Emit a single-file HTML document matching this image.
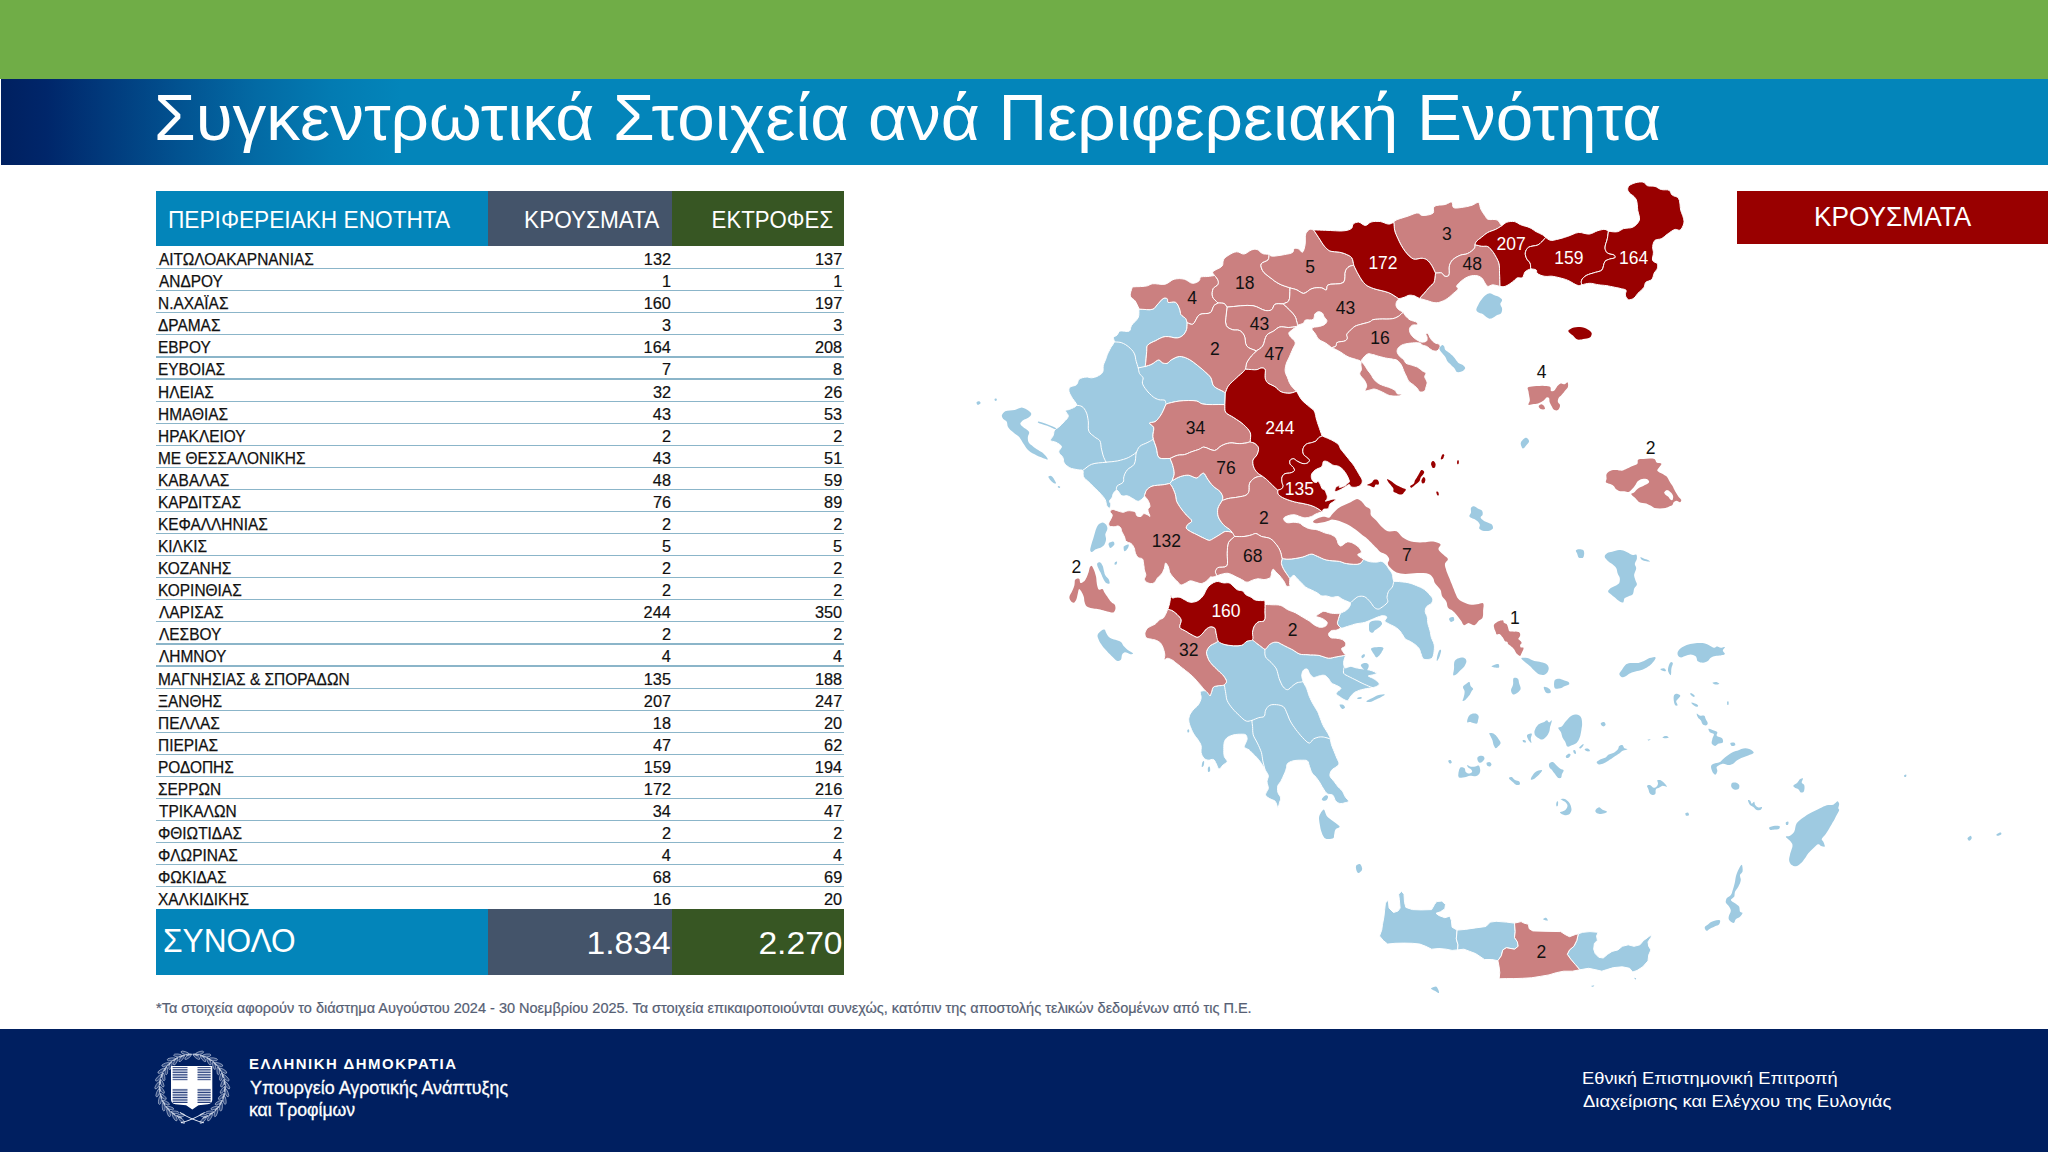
<!DOCTYPE html>
<html lang="el"><head><meta charset="utf-8"><title>Συγκεντρωτικά Στοιχεία ανά Περιφερειακή Ενότητα</title>
<style>
html,body{margin:0;padding:0;background:#fff;}
body{width:2048px;height:1152px;position:relative;overflow:hidden;font-family:"Liberation Sans", sans-serif;}
.b{position:absolute;}
.t{position:absolute;white-space:nowrap;font-family:"Liberation Sans", sans-serif;}
.ln{position:absolute;left:156.3px;width:687.4px;height:1.2px;background:#8bb5c9;}
</style></head><body>
<div class="b" style="left:0;top:0;width:2048px;height:78.5px;background:#70ad47"></div>
<div class="b" style="left:1px;top:78.5px;width:2047px;height:86.3px;background:linear-gradient(90deg,#002060 0px,#00266a 45px,#013a7c 105px,#025391 180px,#036aa4 255px,#037bb2 330px,#0385ba 400px,#0385ba 100%)"></div>
<div class="b" style="left:156.3px;top:190.8px;width:331.5px;height:55.3px;background:#0385ba"></div>
<div class="b" style="left:487.8px;top:190.8px;width:184.4px;height:55.3px;background:#44546a"></div>
<div class="b" style="left:672.2px;top:190.8px;width:171.5px;height:55.3px;background:#375623"></div>
<div class="ln" style="top:268.07px"></div><div class="ln" style="top:290.15px"></div><div class="ln" style="top:312.22px"></div><div class="ln" style="top:334.30px"></div><div class="ln" style="top:356.38px"></div><div class="ln" style="top:378.45px"></div><div class="ln" style="top:400.52px"></div><div class="ln" style="top:422.60px"></div><div class="ln" style="top:444.67px"></div><div class="ln" style="top:466.75px"></div><div class="ln" style="top:488.82px"></div><div class="ln" style="top:510.90px"></div><div class="ln" style="top:532.97px"></div><div class="ln" style="top:555.05px"></div><div class="ln" style="top:577.12px"></div><div class="ln" style="top:599.20px"></div><div class="ln" style="top:621.27px"></div><div class="ln" style="top:643.35px"></div><div class="ln" style="top:665.42px"></div><div class="ln" style="top:687.50px"></div><div class="ln" style="top:709.57px"></div><div class="ln" style="top:731.65px"></div><div class="ln" style="top:753.72px"></div><div class="ln" style="top:775.80px"></div><div class="ln" style="top:797.88px"></div><div class="ln" style="top:819.95px"></div><div class="ln" style="top:842.02px"></div><div class="ln" style="top:864.10px"></div><div class="ln" style="top:886.17px"></div>
<div class="b" style="left:156.3px;top:908.8px;width:331.5px;height:66px;background:#0385ba"></div>
<div class="b" style="left:487.8px;top:908.8px;width:184.4px;height:66px;background:#44546a"></div>
<div class="b" style="left:672.2px;top:908.8px;width:171.5px;height:66px;background:#375623"></div>
<div class="b" style="left:1737px;top:191.4px;width:311px;height:52.6px;background:#990000"></div>
<div class="b" style="left:0;top:1029px;width:2048px;height:123px;background:#001f60"></div>
<svg width="2048" height="1152" viewBox="0 0 2048 1152" style="position:absolute;left:0;top:0">
<g stroke="#fff" stroke-width="1" stroke-linejoin="round">
<path fill="#9ecae1" d="M1139.2,309.1 1142.8,309.3 1146.6,309.6 1150.1,309.7 1152.9,309.1 1154.2,308.4 1155.1,307.3 1156.0,306.2 1157.0,305.0 1158.6,303.2 1160.4,301.1 1162.2,299.2 1163.9,298.2 1164.8,298.0 1165.8,298.1 1166.7,298.4 1167.3,298.8 1167.6,299.6 1167.6,300.6 1167.6,301.5 1168.0,302.3 1169.4,302.5 1171.5,302.2 1173.7,301.9 1175.5,302.3 1176.9,303.5 1178.0,305.3 1178.9,307.3 1179.6,309.1 1180.1,310.6 1180.3,312.0 1180.5,313.4 1181.0,314.6 1182.1,315.7 1183.4,316.7 1184.8,317.7 1185.8,318.7 1186.3,319.7 1186.6,320.7 1186.9,321.8 1187.2,322.8 1187.1,324.6 1187.0,326.3 1186.9,328.1 1186.5,329.7 1185.9,331.2 1185.1,332.7 1184.2,334.0 1183.1,335.2 1181.9,336.1 1180.6,336.9 1179.2,337.5 1177.6,337.9 1174.8,337.9 1171.6,337.2 1168.3,336.6 1165.2,336.6 1162.7,337.2 1160.3,338.2 1157.9,339.4 1155.7,340.7 1153.3,341.7 1151.0,342.8 1148.9,344.0 1147.4,345.5 1146.9,346.8 1146.8,348.2 1146.8,349.9 1146.7,351.6 1146.4,354.9 1146.1,358.8 1145.7,362.8 1145.4,366.7 1146.8,365.9 1148.6,365.4 1150.3,364.8 1152.0,364.0 1153.8,362.9 1155.6,361.5 1157.3,360.4 1158.8,359.9 1159.8,360.3 1160.6,361.1 1161.3,362.0 1162.2,362.7 1163.4,363.1 1164.6,363.4 1165.9,363.5 1167.0,363.4 1168.1,362.8 1169.0,361.9 1170.0,360.8 1171.2,359.9 1173.0,358.9 1175.1,357.8 1177.2,356.9 1179.4,356.5 1181.4,356.6 1183.5,357.0 1185.6,357.7 1187.6,358.6 1189.7,359.7 1191.8,361.0 1193.8,362.5 1195.8,364.0 1197.9,365.7 1200.0,367.4 1202.1,369.1 1204.1,370.9 1205.9,372.5 1207.8,374.2 1209.5,375.9 1210.9,377.8 1211.7,379.8 1212.2,382.0 1212.7,384.1 1213.7,386.0 1215.8,387.7 1218.5,389.2 1221.2,390.4 1223.3,391.5 1223.9,391.9 1224.4,392.2 1224.8,392.6 1225.3,392.9 1224.9,404.6 1218.9,404.5 1212.6,404.6 1206.8,404.5 1202.3,403.9 1200.7,403.3 1199.5,402.5 1198.3,401.7 1196.8,401.1 1193.0,400.6 1188.3,400.5 1183.4,400.7 1179.0,401.1 1175.3,401.7 1171.7,402.5 1168.6,403.3 1166.6,403.9 1166.2,404.0 1165.1,406.2 1164.3,408.2 1163.4,410.2 1162.5,412.1 1161.7,413.6 1160.9,415.0 1160.0,416.3 1159.1,417.6 1158.1,418.8 1157.2,419.9 1156.1,420.9 1155.0,421.7 1153.5,422.2 1151.7,422.4 1150.2,422.6 1149.5,423.1 1149.9,423.8 1151.2,424.8 1152.6,425.9 1153.6,427.2 1153.8,429.2 1153.4,431.7 1153.0,434.2 1152.9,436.8 1153.5,439.5 1154.4,442.3 1155.4,445.0 1156.3,447.8 1156.9,450.5 1157.3,453.3 1157.9,455.8 1159.1,457.6 1161.2,458.5 1164.0,458.6 1167.1,458.5 1170.0,458.5 1170.8,460.2 1171.5,462.0 1172.2,463.7 1172.8,465.6 1173.3,467.6 1173.8,469.7 1174.1,471.8 1174.2,473.8 1173.9,475.6 1173.3,477.3 1172.7,479.0 1172.1,480.7 1169.8,483.5 1168.1,483.8 1166.5,484.2 1164.8,484.5 1162.9,484.8 1160.3,485.1 1157.3,485.3 1154.5,485.6 1152.0,486.2 1150.3,487.0 1148.8,488.0 1147.5,489.1 1146.5,490.3 1145.8,491.6 1145.3,493.0 1144.9,494.4 1144.4,495.8 1144.3,496.2 1144.2,496.5 1144.0,496.8 1143.7,497.2 1142.8,498.3 1141.4,499.6 1139.8,500.7 1138.3,501.3 1136.9,501.1 1135.5,500.3 1134.1,499.4 1132.8,498.6 1131.4,497.8 1130.0,497.0 1128.7,496.3 1127.3,495.8 1125.9,495.7 1124.5,495.9 1123.1,496.1 1121.8,495.8 1120.5,494.6 1119.3,492.8 1118.1,491.1 1117.0,490.3 1116.1,490.6 1115.1,491.2 1114.3,492.1 1113.6,493.1 1113.1,494.0 1112.8,495.1 1112.6,496.1 1112.2,497.2 1111.5,498.3 1110.6,499.3 1109.8,500.3 1109.5,501.3 1109.6,502.0 1110.1,502.7 1110.6,503.3 1110.8,504.0 1110.8,505.2 1110.4,506.5 1110.0,507.6 1109.5,508.2 1108.8,508.0 1108.1,507.3 1107.3,506.4 1106.7,505.4 1106.3,504.2 1106.1,502.8 1105.8,501.4 1105.3,499.9 1104.3,498.2 1102.9,496.4 1101.4,494.7 1099.9,493.1 1098.5,491.6 1097.1,490.3 1095.8,488.9 1094.4,487.6 1093.0,486.2 1091.6,484.8 1090.3,483.5 1088.9,482.1 1087.4,480.8 1085.8,479.5 1084.4,478.1 1083.4,476.6 1083.1,475.0 1083.1,473.3 1083.2,471.6 1082.7,470.4 1081.8,470.0 1080.6,469.9 1079.3,469.9 1077.9,469.8 1076.0,469.4 1073.8,469.0 1071.6,468.5 1069.7,467.7 1068.1,466.7 1066.6,465.6 1065.2,464.3 1064.2,462.9 1063.7,461.6 1063.5,460.2 1063.3,458.8 1062.8,457.4 1061.8,456.0 1060.5,454.7 1059.3,453.3 1058.7,451.9 1059.1,450.6 1060.2,449.1 1061.2,447.7 1061.5,446.5 1060.7,445.3 1059.3,444.2 1057.6,443.2 1056.0,442.3 1054.4,441.8 1052.7,441.4 1051.3,441.0 1050.5,440.3 1050.7,439.3 1051.5,438.1 1052.5,436.8 1053.2,435.5 1053.6,434.1 1053.8,432.6 1054.1,431.2 1054.6,430.0 1055.4,429.2 1056.5,428.5 1057.6,427.9 1058.7,427.1 1060.1,425.9 1061.5,424.5 1062.9,423.1 1064.2,421.6 1065.5,420.3 1066.8,418.9 1067.8,417.5 1068.3,416.1 1067.9,414.7 1066.8,413.2 1065.8,411.7 1065.6,410.7 1066.2,410.1 1067.2,409.9 1068.5,409.7 1069.7,409.3 1071.6,408.5 1073.7,407.6 1075.6,406.5 1076.6,405.2 1076.3,403.7 1075.1,401.9 1073.7,400.1 1072.4,398.3 1071.4,396.6 1070.4,394.8 1069.5,393.1 1069.0,391.5 1068.9,390.3 1068.9,389.3 1069.2,388.2 1069.7,387.4 1071.0,386.5 1072.9,386.0 1075.0,385.5 1076.6,384.6 1077.4,383.4 1077.9,381.8 1078.4,380.3 1079.3,379.1 1080.7,378.3 1082.5,377.7 1084.4,377.3 1086.1,377.1 1087.6,377.1 1088.9,377.4 1090.3,377.7 1091.6,377.8 1093.0,377.6 1094.4,377.3 1095.8,376.9 1097.1,376.4 1098.6,375.6 1100.2,374.7 1101.6,373.6 1102.6,372.3 1103.1,370.7 1103.1,369.0 1103.1,367.2 1103.3,365.4 1103.9,363.6 1104.6,361.9 1105.4,360.1 1106.0,358.6 1106.4,357.5 1106.7,356.5 1107.0,355.5 1107.4,354.4 1108.1,352.8 1109.0,351.1 1109.9,349.3 1110.8,347.6 1111.8,346.1 1112.8,344.7 1113.7,343.2 1114.3,341.8 1114.2,340.6 1113.8,339.4 1113.5,338.3 1113.6,337.3 1114.2,336.7 1115.1,336.2 1116.1,335.8 1117.0,335.2 1117.7,334.3 1118.2,333.1 1118.8,332.0 1119.7,331.1 1121.9,330.9 1124.6,331.2 1127.3,331.5 1129.3,331.1 1130.1,330.1 1130.5,328.7 1130.8,327.2 1131.4,325.7 1132.9,323.7 1134.9,321.7 1136.9,319.6 1138.3,317.4 1138.8,315.4 1138.9,313.4 1138.9,311.3 1138.9,309.2Z"/>
<path fill="#9ecae1" d="M1172.1,480.7 1174.2,479.6 1176.2,478.4 1178.2,477.4 1180.3,476.6 1182.4,475.9 1184.4,475.5 1186.5,475.2 1188.6,475.2 1190.7,475.8 1192.9,476.8 1195.0,477.7 1196.8,477.9 1198.0,477.4 1199.0,476.4 1200.0,475.3 1200.9,474.5 1201.6,474.0 1202.3,473.5 1203.0,473.1 1203.6,473.1 1204.7,474.0 1205.7,475.6 1206.7,477.5 1207.8,479.3 1209.0,481.0 1210.3,482.8 1211.7,484.5 1213.2,486.1 1214.9,487.6 1216.8,488.9 1218.6,490.2 1220.1,491.6 1221.1,493.0 1221.9,494.4 1222.5,495.8 1222.8,497.1 1222.8,498.0 1222.6,498.9 1222.4,499.7 1222.2,500.5 1221.0,502.5 1219.7,504.5 1218.6,506.6 1217.9,508.6 1217.6,510.6 1217.6,512.6 1217.8,514.7 1218.3,516.7 1219.2,518.8 1220.5,520.9 1221.9,522.9 1223.5,524.7 1225.2,526.3 1227.2,527.7 1229.2,529.1 1230.8,530.6 1231.9,532.0 1232.8,533.5 1233.6,535.0 1234.5,536.5 1234.0,535.5 1233.5,534.5 1232.9,533.6 1232.2,532.8 1230.7,532.1 1228.9,531.6 1227.0,531.4 1225.3,531.5 1224.1,531.9 1222.9,532.6 1221.8,533.4 1220.5,534.2 1218.9,535.2 1217.1,536.3 1215.3,537.4 1213.7,538.3 1212.6,539.0 1211.6,539.6 1210.6,540.1 1209.6,540.4 1208.3,540.2 1206.9,539.7 1205.5,539.0 1204.1,538.3 1202.1,537.4 1199.9,536.3 1197.8,535.2 1195.8,534.2 1194.4,533.5 1193.0,532.9 1191.6,532.2 1190.4,531.5 1189.1,530.7 1187.8,529.9 1186.8,529.0 1186.2,528.0 1186.2,527.2 1186.5,526.3 1187.0,525.4 1187.6,524.6 1188.6,523.7 1190.0,522.9 1191.2,522.1 1191.7,521.2 1191.2,519.8 1189.7,518.3 1187.9,516.6 1186.2,515.0 1184.8,513.3 1183.4,511.6 1182.0,509.9 1180.8,508.2 1179.6,506.5 1178.5,504.8 1177.5,503.1 1176.6,501.3 1176.2,499.6 1175.9,497.9 1175.7,496.2 1175.3,494.4 1174.7,492.7 1174.0,490.9 1173.3,489.2 1172.5,487.6 1171.9,486.5 1171.2,485.4 1170.5,484.5 1169.8,483.5Z"/>
<path fill="#9ecae1" d="M1282.1,558.5 1283.6,558.7 1284.9,558.9 1286.4,559.1 1288.0,559.2 1291.3,559.0 1295.2,558.5 1299.1,557.8 1302.7,557.0 1305.1,556.2 1307.4,555.2 1309.5,554.4 1311.5,554.1 1313.0,554.3 1314.4,554.9 1315.8,555.6 1317.4,556.3 1319.4,557.2 1321.5,558.2 1323.8,559.2 1326.2,559.9 1329.3,560.5 1332.8,560.8 1336.3,561.0 1339.4,561.4 1341.3,561.9 1343.0,562.6 1344.7,563.2 1346.7,563.6 1349.9,564.0 1353.6,564.3 1357.1,564.3 1359.9,563.6 1361.1,562.8 1362.0,561.6 1362.7,560.4 1363.6,559.2 1364.8,559.8 1366.1,560.4 1367.3,561.0 1368.7,561.4 1370.4,561.8 1372.3,562.0 1374.2,562.1 1376.0,562.1 1377.6,562.0 1379.1,561.6 1380.5,561.3 1381.9,561.4 1383.1,562.0 1384.3,562.9 1385.3,564.0 1386.3,565.1 1387.1,566.1 1387.8,567.2 1388.5,568.4 1389.2,569.5 1390.0,570.5 1390.8,571.6 1391.5,572.7 1392.2,573.9 1392.7,575.8 1392.9,577.9 1393.3,579.9 1393.9,581.2 1394.6,581.5 1395.3,581.5 1396.1,581.4 1397.1,581.4 1399.4,581.6 1402.3,581.9 1405.3,582.2 1408.1,582.7 1410.2,583.3 1412.3,583.9 1414.3,584.7 1416.3,585.5 1418.4,586.4 1420.6,587.3 1422.7,588.4 1424.5,589.6 1426.1,590.9 1427.6,592.3 1428.9,593.7 1430.0,595.1 1430.9,596.1 1431.8,597.1 1432.4,598.2 1432.8,599.2 1432.8,600.2 1432.5,601.3 1432.0,602.4 1431.4,603.3 1430.4,604.2 1429.0,605.0 1427.6,605.8 1426.6,606.7 1426.0,607.8 1425.5,609.0 1425.3,610.3 1425.2,611.5 1425.5,612.9 1426.1,614.2 1426.8,615.6 1427.3,617.0 1427.5,618.7 1427.6,620.4 1427.7,622.2 1428.0,623.9 1428.4,625.6 1429.0,627.3 1429.5,629.0 1430.0,630.7 1430.4,632.4 1430.7,634.2 1431.0,635.9 1431.4,637.6 1432.1,639.3 1432.9,641.0 1433.6,642.7 1434.1,644.4 1434.4,646.1 1434.4,647.9 1434.3,649.6 1434.1,651.3 1433.9,653.2 1433.5,655.1 1432.9,656.8 1432.1,658.2 1431.1,658.8 1429.8,659.2 1428.5,659.4 1427.3,659.5 1426.2,659.6 1425.1,659.5 1424.0,659.3 1423.2,658.8 1422.5,658.0 1422.0,656.7 1421.6,655.4 1421.1,654.0 1420.6,652.7 1420.2,651.2 1419.7,649.8 1419.1,648.6 1418.2,647.4 1417.2,646.4 1416.1,645.4 1414.9,644.4 1413.6,643.5 1412.2,642.6 1410.8,641.8 1409.5,641.0 1408.4,640.5 1407.3,640.1 1406.3,639.6 1405.3,639.0 1404.6,638.1 1403.9,637.1 1403.3,636.0 1402.6,634.8 1401.7,633.5 1400.7,632.0 1399.6,630.6 1398.5,629.4 1397.5,628.5 1396.5,627.9 1395.5,627.2 1394.4,626.6 1393.0,625.9 1391.6,625.2 1390.2,624.6 1388.9,623.9 1387.7,623.2 1386.4,622.6 1385.3,621.9 1384.8,621.1 1385.0,620.1 1385.8,619.0 1386.6,617.9 1386.8,617.0 1386.3,616.5 1385.5,616.1 1384.4,615.8 1383.4,615.7 1382.2,615.7 1380.8,616.0 1379.4,616.5 1377.9,617.0 1375.9,617.8 1373.8,618.7 1371.7,619.6 1369.7,620.4 1368.3,621.0 1367.0,621.6 1365.6,622.1 1364.2,622.5 1362.3,622.9 1360.2,623.2 1358.0,623.5 1356.0,623.9 1354.2,624.3 1352.5,624.9 1350.8,625.4 1349.1,625.9 1347.3,626.5 1345.4,627.1 1343.6,627.7 1342.3,628.0 1341.9,628.0 1341.5,628.0 1341.2,628.0 1340.9,628.0 1339.9,627.0 1338.9,626.0 1338.0,624.9 1337.5,623.9 1337.4,622.9 1337.5,621.9 1337.8,620.9 1338.2,619.8 1338.6,618.2 1339.1,616.6 1339.7,615.0 1340.2,613.3 1341.8,612.6 1343.5,611.8 1345.0,611.1 1346.4,610.2 1347.4,609.2 1348.4,608.2 1349.2,607.1 1349.8,606.1 1350.2,605.2 1350.4,604.4 1350.5,603.6 1350.4,602.9 1350.0,602.5 1349.5,602.3 1348.8,602.0 1348.2,601.8 1347.0,601.3 1345.7,600.7 1344.4,600.2 1343.0,599.6 1341.7,598.8 1340.5,597.9 1339.2,597.1 1337.9,596.6 1336.5,596.6 1335.0,596.9 1333.5,597.2 1332.0,597.4 1330.5,597.1 1329.0,596.7 1327.6,596.2 1326.2,595.9 1325.0,595.9 1323.9,596.0 1322.8,596.0 1321.8,595.9 1320.6,595.4 1319.6,594.6 1318.5,593.7 1317.4,593.0 1316.0,592.2 1314.5,591.5 1313.0,590.7 1311.5,590.0 1310.0,589.3 1308.5,588.7 1307.0,587.9 1305.6,587.1 1304.4,586.1 1303.3,585.0 1302.3,583.8 1301.2,582.7 1300.1,581.6 1299.0,580.4 1297.9,579.3 1296.8,578.3 1296.1,577.4 1295.4,576.4 1294.7,575.7 1293.9,575.3 1292.9,575.7 1291.9,576.5 1290.8,577.6 1289.8,578.6 1289.0,577.5 1288.3,576.4 1287.6,575.3 1286.8,574.2 1286.1,573.1 1285.3,572.0 1284.6,570.9 1283.9,569.8 1283.1,568.3 1282.4,566.8 1281.8,565.2 1281.4,563.6 1281.4,562.3 1281.6,561.0 1281.9,559.8 1282.1,558.5Z"/>
<path fill="#9ecae1" d="M1210.0,695.4 1209.4,694.2 1208.9,693.0 1208.2,692.0 1207.3,691.2 1205.7,690.8 1203.6,690.7 1201.7,691.0 1200.4,691.7 1200.2,692.8 1200.5,694.4 1201.0,696.1 1201.1,697.8 1200.8,699.6 1200.2,701.3 1199.3,703.1 1198.4,704.7 1197.2,706.1 1195.7,707.5 1194.2,708.8 1192.9,710.2 1191.9,711.5 1190.9,712.9 1190.1,714.2 1189.5,715.7 1189.1,717.0 1188.8,718.3 1188.7,719.7 1188.8,721.1 1189.1,722.8 1189.6,724.5 1190.2,726.3 1190.9,728.0 1191.6,729.7 1192.4,731.5 1193.3,733.2 1194.3,734.8 1195.3,736.3 1196.4,737.6 1197.4,739.0 1198.4,740.3 1199.2,741.7 1200.0,743.0 1200.7,744.4 1201.1,745.8 1201.3,747.5 1201.1,749.2 1201.0,751.0 1201.1,752.7 1201.6,754.2 1202.2,755.7 1203.0,757.0 1203.9,758.2 1204.8,758.9 1205.8,759.5 1206.9,759.9 1208.0,760.2 1209.4,760.1 1210.8,759.7 1212.3,759.4 1213.5,759.5 1214.3,760.2 1215.0,761.2 1215.6,762.5 1216.2,763.6 1216.9,765.2 1217.5,766.9 1218.2,768.4 1219.0,769.1 1219.9,768.7 1220.9,767.6 1222.0,766.2 1223.1,765.0 1224.2,764.2 1225.5,763.3 1226.6,762.5 1227.2,761.6 1226.9,760.5 1226.1,759.4 1225.2,758.1 1224.4,756.8 1224.0,754.9 1223.8,752.8 1223.8,750.6 1223.8,748.6 1223.8,746.7 1223.9,745.0 1224.1,743.2 1224.4,741.7 1224.9,740.5 1225.5,739.4 1226.3,738.5 1227.2,737.6 1228.6,736.7 1230.4,735.9 1232.2,735.3 1234.0,734.8 1235.8,734.5 1237.5,734.3 1239.3,734.2 1240.9,734.2 1242.2,734.2 1243.6,734.2 1244.8,734.4 1245.7,734.8 1246.3,735.6 1246.8,736.7 1247.0,737.8 1247.1,739.0 1246.8,740.3 1246.2,741.8 1245.5,743.2 1245.0,744.4 1244.7,745.2 1244.4,745.9 1244.2,746.6 1244.3,747.2 1245.1,747.9 1246.4,748.6 1247.8,749.2 1249.1,749.9 1250.2,750.9 1251.2,751.9 1252.2,753.0 1253.2,754.0 1254.3,755.1 1255.3,756.0 1256.3,757.1 1257.4,758.2 1258.4,759.4 1259.5,760.8 1260.5,762.2 1261.5,763.6 1262.5,765.3 1263.6,767.0 1264.6,768.8 1265.6,770.5 1266.4,771.9 1267.3,773.3 1268.0,774.6 1268.3,776.0 1268.2,777.3 1267.7,778.7 1267.2,780.0 1267.0,781.5 1267.2,783.2 1267.7,785.0 1268.2,786.7 1268.3,788.3 1268.0,789.5 1267.4,790.5 1266.8,791.5 1266.3,792.4 1266.0,793.2 1265.7,793.8 1265.5,794.5 1265.6,795.2 1266.2,796.1 1267.2,797.0 1268.5,797.8 1269.7,798.6 1271.1,799.3 1272.5,799.8 1274.0,800.5 1275.2,801.3 1276.1,802.9 1276.8,805.0 1277.4,806.8 1277.9,807.5 1278.3,807.1 1278.7,806.0 1279.0,804.7 1279.3,803.4 1279.7,802.1 1280.2,800.7 1280.6,799.3 1280.7,797.9 1280.2,796.6 1279.4,795.2 1278.5,793.9 1277.9,792.4 1277.6,790.7 1277.5,788.9 1277.6,787.2 1277.9,785.6 1278.4,784.5 1279.2,783.5 1279.9,782.5 1280.7,781.5 1281.4,780.2 1282.1,778.8 1282.7,777.4 1283.4,776.0 1284.1,774.3 1284.9,772.6 1285.6,770.8 1286.1,769.1 1286.5,767.7 1286.7,766.2 1286.9,764.8 1287.5,763.6 1288.6,762.7 1289.9,762.0 1291.4,761.4 1293.0,760.9 1294.9,760.5 1297.1,760.3 1299.2,760.2 1301.2,760.2 1302.9,760.2 1304.6,760.2 1306.2,760.3 1307.4,760.9 1308.2,761.9 1308.6,763.3 1309.0,764.9 1309.5,766.4 1310.1,768.1 1310.7,770.0 1311.4,771.8 1312.2,773.2 1312.8,774.0 1313.5,774.7 1314.2,775.3 1314.9,776.0 1315.9,777.2 1317.0,778.5 1318.0,780.0 1319.1,781.5 1320.1,783.1 1321.1,784.9 1322.1,786.7 1323.2,788.3 1324.1,789.9 1325.1,791.4 1326.1,792.7 1327.3,793.8 1328.6,794.3 1330.1,794.5 1331.6,794.6 1332.8,795.2 1333.6,796.3 1334.2,797.8 1334.8,799.4 1335.5,800.7 1336.4,801.6 1337.4,802.4 1338.5,803.0 1339.6,803.4 1340.9,803.5 1342.4,803.4 1343.8,803.1 1345.1,802.7 1346.2,802.5 1347.2,802.2 1348.1,801.9 1348.5,801.3 1348.3,800.4 1347.3,799.2 1346.1,797.9 1345.1,796.6 1344.4,795.2 1343.8,793.8 1343.1,792.4 1342.4,791.1 1341.4,790.0 1340.4,789.0 1339.3,788.0 1338.3,787.0 1337.2,785.7 1336.2,784.3 1335.2,782.9 1334.1,781.5 1333.0,780.1 1331.7,778.8 1330.6,777.4 1330.0,776.0 1329.9,774.6 1330.2,773.2 1330.7,771.8 1331.4,770.5 1332.5,769.3 1334.1,768.3 1335.6,767.3 1336.9,766.4 1337.6,765.7 1338.2,765.1 1338.7,764.4 1338.9,763.6 1338.8,762.4 1338.3,761.1 1337.5,759.6 1336.9,758.2 1336.2,756.5 1335.5,754.8 1334.8,753.0 1334.1,751.3 1333.4,749.6 1332.7,747.9 1332.0,746.2 1331.4,744.4 1331.0,742.7 1330.7,741.0 1330.5,739.2 1330.0,737.6 1329.4,736.2 1328.7,734.9 1328.0,733.6 1327.2,732.2 1326.2,730.5 1325.1,728.8 1324.0,727.1 1323.1,725.3 1322.3,723.6 1321.6,721.9 1321.0,720.2 1320.3,718.5 1319.7,716.8 1319.0,715.0 1318.4,713.3 1317.6,711.6 1316.6,709.9 1315.6,708.2 1314.5,706.5 1313.5,704.8 1312.4,702.8 1311.3,700.7 1310.3,698.6 1309.4,696.6 1308.6,694.5 1308.0,692.4 1307.3,690.3 1306.6,688.3 1305.8,686.6 1304.8,684.9 1303.9,683.2 1303.2,681.5 1302.6,679.7 1302.1,678.0 1301.8,676.2 1301.8,674.6 1302.1,673.2 1302.5,671.9 1303.1,670.7 1303.9,669.8 1304.7,669.3 1305.6,669.0 1306.5,668.9 1307.3,669.1 1307.9,669.8 1308.4,670.9 1308.8,672.1 1309.4,673.2 1310.2,674.4 1311.2,675.7 1312.3,676.7 1313.5,677.4 1314.7,677.4 1316.1,677.0 1317.6,676.4 1319.0,676.0 1320.4,675.7 1321.8,675.3 1323.2,675.2 1324.4,675.3 1325.6,675.8 1326.7,676.7 1327.7,677.7 1328.6,678.7 1329.3,679.7 1329.9,680.8 1330.5,681.9 1331.3,682.8 1332.5,683.7 1333.9,684.3 1335.4,684.9 1336.8,685.6 1338.0,686.2 1339.4,686.9 1340.4,687.6 1340.9,688.3 1340.6,689.0 1339.9,689.7 1338.9,690.4 1338.2,691.1 1337.5,691.7 1336.8,692.4 1336.3,693.1 1336.1,693.8 1336.5,694.5 1337.4,695.2 1338.5,695.9 1339.5,696.6 1340.5,697.3 1341.5,698.0 1342.6,698.7 1343.6,699.3 1344.7,699.8 1345.8,700.4 1346.8,700.7 1347.8,700.7 1348.5,700.0 1349.2,698.9 1349.8,697.7 1350.5,696.6 1351.4,695.5 1352.4,694.4 1353.4,693.3 1354.6,692.4 1356.2,691.6 1357.9,690.9 1359.7,690.2 1361.5,689.7 1363.2,689.3 1364.9,688.9 1366.6,688.6 1368.3,688.3 1370.1,688.0 1371.9,687.8 1373.6,687.4 1375.2,687.0 1376.5,686.4 1377.8,685.7 1378.8,685.0 1379.3,684.2 1379.1,683.4 1378.4,682.5 1377.5,681.6 1376.6,680.8 1375.6,680.0 1374.6,679.3 1373.5,678.7 1372.4,678.0 1371.2,677.5 1369.9,676.9 1368.8,676.4 1368.3,676.0 1369.0,675.6 1370.5,675.3 1372.3,675.0 1373.8,674.6 1374.7,674.3 1375.6,674.0 1376.3,673.6 1376.6,673.2 1376.0,672.6 1374.5,671.8 1372.8,671.1 1371.1,670.5 1369.4,670.0 1367.7,669.7 1366.0,669.4 1364.2,669.1 1362.2,668.8 1360.0,668.5 1357.9,668.1 1356.0,667.8 1354.5,667.4 1353.2,666.9 1351.8,666.5 1350.5,666.4 1349.0,666.7 1347.5,667.3 1346.1,667.8 1345.0,667.8 1344.3,666.9 1343.9,665.5 1343.7,663.9 1343.6,662.3 1343.9,660.6 1344.4,658.8 1345.1,656.9 1345.7,655.1 1343.5,655.6 1341.2,656.0 1339.0,656.4 1336.8,656.8 1334.7,657.2 1332.7,657.7 1330.6,658.1 1328.6,658.2 1326.2,657.7 1323.9,656.9 1321.4,656.1 1319.0,655.4 1316.2,655.1 1313.4,654.9 1310.6,654.9 1308.0,654.7 1305.8,654.6 1303.7,654.6 1301.7,654.5 1299.8,654.0 1297.9,653.2 1296.2,652.1 1294.5,651.0 1292.9,649.9 1291.5,649.2 1290.1,648.5 1288.8,647.9 1287.4,647.2 1286.0,646.5 1284.6,645.8 1283.3,645.1 1281.9,644.4 1280.9,643.9 1279.9,643.3 1278.9,642.7 1277.8,642.4 1276.8,642.2 1275.8,642.2 1274.7,642.2 1273.7,642.4 1272.6,642.7 1271.6,643.2 1270.6,643.8 1269.6,644.4 1268.6,645.4 1267.7,646.6 1266.9,647.7 1266.2,648.6 1265.8,648.8 1265.5,649.1 1265.2,649.2 1264.8,649.2 1264.2,649.0 1263.6,648.6 1262.9,648.0 1262.1,647.4 1260.9,646.4 1259.5,645.4 1258.0,644.3 1256.6,643.2 1255.6,642.4 1254.5,641.5 1253.5,640.7 1252.5,639.8 1251.2,640.1 1249.8,640.4 1248.4,640.7 1247.0,641.2 1245.7,642.1 1244.5,643.3 1243.2,644.5 1241.6,645.3 1238.0,645.8 1233.5,645.8 1228.9,645.3 1225.1,644.6 1223.1,643.9 1221.5,643.0 1219.9,642.1 1218.3,641.2 1217.4,641.7 1216.6,642.2 1215.7,642.7 1214.8,643.2 1213.6,643.8 1212.4,644.4 1211.1,645.1 1210.0,646.0 1208.9,647.1 1207.9,648.5 1207.1,650.0 1206.6,651.5 1206.5,653.1 1206.8,654.9 1207.4,656.7 1208.0,658.3 1208.6,659.8 1209.4,661.1 1210.4,662.5 1211.4,663.8 1212.9,665.5 1214.7,667.3 1216.5,669.0 1218.3,670.7 1219.7,672.1 1221.2,673.4 1222.6,674.7 1223.7,676.1 1224.7,677.5 1225.6,679.0 1226.3,680.4 1226.5,681.6 1226.2,682.6 1225.5,683.6 1224.7,684.4 1223.7,685.1 1222.5,685.4 1221.1,685.6 1219.7,685.6 1218.3,685.7 1217.0,686.0 1215.7,686.2 1214.4,686.5 1213.5,687.1 1212.7,688.2 1212.2,689.7 1211.8,691.2 1211.4,692.6 1211.0,693.5 1210.7,694.4 1210.4,695.2 1210.0,696.0Z"/>
<path fill="#cb8080" d="M1132.3,286.9 1136.3,286.7 1140.4,286.6 1144.3,286.3 1147.4,285.8 1148.8,285.3 1149.8,284.7 1150.9,284.2 1152.2,283.8 1155.1,283.7 1158.5,284.1 1162.1,284.4 1165.2,284.2 1167.6,283.2 1169.8,281.7 1171.9,280.2 1174.2,279.2 1176.7,278.8 1179.3,278.6 1182.0,278.8 1184.4,279.2 1186.6,280.2 1188.7,281.5 1190.7,282.8 1192.7,283.3 1194.6,283.1 1196.6,282.4 1198.3,281.4 1199.5,280.3 1199.8,279.6 1199.9,278.8 1199.9,278.0 1200.2,277.3 1201.6,276.8 1203.5,276.6 1205.7,276.6 1207.8,276.5 1209.5,276.3 1211.2,276.0 1212.9,275.8 1214.6,275.5 1215.6,276.7 1216.6,277.9 1217.4,279.1 1218.0,280.3 1218.3,281.4 1218.4,282.4 1218.3,283.5 1218.0,284.4 1217.1,285.5 1215.7,286.4 1214.3,287.4 1213.2,288.6 1212.6,290.4 1212.2,292.6 1212.2,294.8 1212.6,296.8 1213.5,298.5 1214.9,300.0 1216.5,301.5 1218.0,303.0 1217.0,303.6 1215.9,304.2 1214.9,304.8 1213.9,305.7 1213.1,307.3 1212.4,309.2 1211.7,311.1 1210.5,312.6 1208.2,313.4 1205.2,313.6 1202.1,313.8 1199.5,314.6 1197.5,316.8 1195.9,319.8 1194.4,322.6 1192.7,324.2 1191.3,324.3 1190.0,323.9 1188.6,323.3 1187.2,322.8 1186.9,321.8 1186.6,320.7 1186.3,319.7 1185.8,318.7 1184.8,317.7 1183.4,316.7 1182.1,315.7 1181.0,314.6 1180.5,313.4 1180.3,312.0 1180.1,310.6 1179.6,309.1 1178.9,307.3 1178.0,305.3 1176.9,303.5 1175.5,302.3 1173.7,301.9 1171.5,302.2 1169.4,302.5 1168.0,302.3 1167.6,301.5 1167.6,300.6 1167.6,299.6 1167.3,298.8 1166.7,298.4 1165.8,298.1 1164.8,298.0 1163.9,298.2 1162.2,299.2 1160.4,301.1 1158.6,303.2 1157.0,305.0 1156.0,306.2 1155.1,307.3 1154.2,308.4 1152.9,309.1 1150.1,309.7 1146.6,309.6 1142.8,309.3 1139.2,309.1 1138.2,307.0 1137.2,304.8 1136.2,302.8 1135.1,300.9 1133.8,299.6 1132.4,298.5 1131.1,297.4 1130.3,296.1 1130.2,294.1 1130.8,291.7 1131.6,289.3 1132.3,286.9Z"/>
<path fill="#cb8080" d="M1214.6,275.5 1214.0,274.7 1213.2,273.8 1212.7,273.0 1212.6,272.1 1214.0,270.7 1216.9,269.2 1220.0,267.7 1222.2,265.9 1222.8,264.4 1222.9,262.8 1223.1,261.2 1223.5,259.8 1224.4,258.5 1225.6,257.4 1226.9,256.3 1228.3,255.4 1230.2,254.2 1232.3,253.1 1234.4,252.2 1236.6,251.8 1238.5,252.1 1240.4,252.9 1242.2,253.8 1244.1,254.0 1246.0,253.3 1247.9,252.1 1249.8,250.8 1251.6,249.9 1253.1,249.5 1254.4,249.3 1255.8,249.3 1257.1,249.5 1258.5,250.3 1259.8,251.5 1261.2,252.7 1262.6,253.6 1264.2,254.0 1265.8,254.1 1267.5,254.2 1269.2,254.3 1269.0,255.7 1268.9,257.1 1268.7,258.5 1268.1,259.8 1266.6,260.9 1264.5,261.8 1262.5,262.7 1261.2,263.9 1260.9,265.4 1261.2,267.2 1261.8,269.0 1262.6,270.7 1264.0,272.6 1265.9,274.3 1268.0,276.0 1270.1,277.6 1272.3,279.2 1274.4,280.9 1276.7,282.4 1279.1,283.8 1281.7,285.0 1284.4,286.0 1287.2,286.9 1290.0,287.9 1289.9,291.4 1289.8,295.0 1289.5,298.4 1288.7,300.9 1287.5,302.0 1286.1,302.7 1284.6,303.3 1283.2,303.9 1281.0,303.9 1278.8,303.7 1276.7,303.8 1274.9,304.3 1273.9,305.5 1273.2,307.1 1272.5,308.7 1271.5,309.8 1270.2,310.4 1268.7,310.6 1267.1,310.7 1265.3,310.5 1262.7,309.7 1259.7,308.2 1256.5,306.7 1253.0,305.7 1247.2,305.4 1240.6,305.8 1233.7,306.5 1227.0,307.1 1226.3,306.2 1225.7,305.2 1225.1,304.3 1224.2,303.6 1222.9,303.2 1221.3,303.1 1219.7,303.0 1218.0,303.0 1216.5,301.5 1214.9,300.0 1213.5,298.5 1212.6,296.8 1212.2,294.8 1212.2,292.6 1212.6,290.4 1213.2,288.6 1214.3,287.4 1215.7,286.4 1217.1,285.5 1218.0,284.4 1218.3,283.5 1218.4,282.4 1218.3,281.4 1218.0,280.3 1217.4,279.1 1216.6,277.9 1215.6,276.7 1214.6,275.5Z"/>
<path fill="#cb8080" d="M1269.2,254.3 1269.5,254.7 1269.9,255.2 1270.3,255.6 1270.8,255.9 1273.4,256.2 1277.1,255.8 1281.0,255.2 1284.5,254.6 1286.9,254.1 1289.3,253.7 1291.3,253.1 1292.8,252.2 1293.3,251.3 1293.5,250.2 1293.7,249.2 1294.1,248.5 1295.0,248.2 1296.1,248.2 1297.2,248.5 1298.3,248.8 1299.4,249.6 1300.5,250.8 1301.5,251.9 1302.4,252.2 1303.3,251.3 1304.0,249.4 1304.6,247.0 1305.1,244.7 1305.3,242.0 1305.3,239.0 1305.3,236.1 1305.8,233.7 1306.6,232.3 1307.6,231.0 1308.8,229.9 1309.9,229.3 1310.8,229.2 1311.7,229.4 1312.7,229.7 1313.6,229.9 1314.9,231.9 1316.2,233.8 1317.5,235.8 1318.8,237.8 1320.2,239.9 1321.5,242.1 1322.9,244.2 1324.3,246.1 1325.6,247.5 1326.8,248.8 1328.2,249.9 1329.8,250.9 1332.0,251.5 1334.5,251.7 1337.0,251.9 1339.4,252.2 1341.2,252.6 1343.0,253.1 1344.6,253.6 1346.2,254.3 1347.8,255.0 1349.3,255.7 1350.6,256.6 1351.7,257.7 1352.5,259.3 1353.0,261.2 1353.4,263.3 1353.8,265.2 1352.6,265.5 1351.3,265.8 1350.1,266.1 1349.0,266.6 1348.0,267.4 1347.1,268.3 1346.3,269.4 1345.6,270.7 1345.0,273.4 1345.0,276.7 1344.7,279.9 1343.5,282.4 1340.2,283.7 1335.4,284.0 1330.8,284.2 1327.7,285.1 1327.1,286.3 1326.9,287.8 1326.8,289.1 1326.4,289.9 1325.4,289.9 1324.3,289.2 1323.0,288.4 1321.6,287.9 1319.4,287.7 1316.9,287.7 1314.4,288.0 1312.0,288.6 1309.8,289.7 1307.7,291.3 1305.7,292.7 1303.7,293.4 1302.0,293.0 1300.3,292.0 1298.6,290.9 1296.9,289.9 1295.2,289.3 1293.5,288.8 1291.7,288.4 1290.0,287.9 1287.2,286.9 1284.4,286.0 1281.7,285.0 1279.1,283.8 1276.7,282.4 1274.4,280.9 1272.3,279.2 1270.1,277.6 1268.0,276.0 1265.9,274.3 1264.0,272.6 1262.6,270.7 1261.8,269.0 1261.2,267.2 1260.9,265.4 1261.2,263.9 1262.5,262.7 1264.5,261.8 1266.6,260.9 1268.1,259.8 1268.7,258.5 1268.9,257.1 1269.0,255.7 1269.2,254.3Z"/>
<path fill="#cb8080" d="M1290.0,287.9 1291.7,288.4 1293.5,288.8 1295.2,289.3 1296.9,289.9 1298.6,290.9 1300.3,292.0 1302.0,293.0 1303.7,293.4 1305.7,292.7 1307.7,291.3 1309.8,289.7 1312.0,288.6 1314.4,288.0 1316.9,287.7 1319.4,287.7 1321.6,287.9 1323.0,288.4 1324.3,289.2 1325.4,289.9 1326.4,289.9 1326.8,289.1 1326.9,287.8 1327.1,286.3 1327.7,285.1 1330.8,284.2 1335.4,284.0 1340.2,283.7 1343.5,282.4 1344.7,279.9 1345.0,276.7 1345.0,273.4 1345.6,270.7 1346.3,269.4 1347.1,268.3 1348.0,267.4 1349.0,266.6 1350.1,266.1 1351.3,265.8 1352.6,265.5 1353.8,265.2 1354.9,267.7 1356.1,270.1 1357.3,272.5 1358.6,274.8 1360.1,277.4 1361.7,280.0 1363.5,282.4 1365.4,284.4 1367.3,285.8 1369.2,286.8 1371.4,287.7 1373.7,288.6 1377.2,289.6 1381.1,290.5 1385.1,291.5 1388.8,292.7 1391.5,294.0 1394.0,295.6 1396.5,297.2 1398.9,298.8 1398.3,299.5 1397.7,300.2 1397.1,300.9 1396.6,301.7 1396.3,302.6 1396.1,303.4 1396.0,304.4 1396.0,305.2 1396.2,306.1 1396.6,307.0 1397.1,307.9 1397.8,308.8 1398.9,309.7 1400.2,310.6 1401.7,311.4 1403.1,312.3 1401.9,313.3 1400.8,314.4 1399.6,315.5 1398.4,316.4 1397.0,317.1 1395.7,317.8 1394.2,318.3 1392.5,318.7 1389.6,319.0 1386.1,319.1 1382.7,319.0 1379.6,319.1 1377.6,319.2 1375.7,319.3 1374.0,319.5 1372.6,319.9 1371.9,320.3 1371.4,320.7 1370.9,321.2 1370.2,321.6 1368.5,322.3 1366.4,322.9 1364.2,323.4 1362.0,324.0 1360.2,324.5 1358.4,325.0 1356.6,325.6 1355.0,326.3 1353.7,327.2 1352.5,328.2 1351.4,329.3 1350.3,330.4 1349.3,331.4 1348.2,332.4 1347.3,333.5 1346.8,334.5 1346.8,335.4 1347.1,336.3 1347.3,337.2 1347.4,338.0 1347.2,338.8 1346.8,339.4 1346.3,340.1 1345.6,340.6 1343.7,341.3 1341.1,341.6 1338.6,342.0 1336.8,342.7 1336.5,343.5 1336.4,344.4 1336.3,345.3 1336.0,346.0 1335.2,346.6 1334.1,347.0 1332.9,347.3 1331.8,347.7 1330.2,346.5 1328.7,345.3 1327.1,344.1 1325.5,343.0 1323.7,342.0 1321.9,341.2 1320.2,340.3 1318.7,339.2 1317.6,337.9 1316.8,336.5 1316.0,335.0 1315.2,333.6 1314.2,332.3 1313.1,331.0 1312.2,329.9 1311.9,328.9 1312.0,328.5 1312.2,328.1 1312.6,327.8 1313.0,327.5 1314.4,327.1 1316.1,326.9 1318.1,326.7 1319.8,326.3 1321.3,325.9 1322.8,325.4 1324.2,324.7 1325.2,324.0 1325.9,323.3 1326.4,322.4 1326.8,321.6 1326.9,320.7 1326.5,319.7 1325.7,318.7 1324.8,317.7 1324.1,316.7 1323.6,315.8 1323.3,314.8 1323.0,313.9 1322.4,313.2 1321.6,312.6 1320.5,312.1 1319.5,311.7 1318.4,311.7 1317.5,311.9 1316.5,312.5 1315.6,313.2 1314.9,314.0 1314.5,315.2 1314.3,316.7 1314.0,318.2 1313.4,319.3 1311.7,319.9 1309.3,319.9 1306.9,319.8 1305.2,320.2 1304.6,320.8 1304.3,321.6 1304.0,322.4 1303.4,323.0 1302.3,323.7 1300.8,324.2 1299.1,324.7 1297.6,325.2 1297.4,324.4 1297.3,323.7 1297.1,323.0 1296.9,322.2 1296.5,320.8 1296.2,319.3 1295.6,317.6 1294.8,316.0 1292.6,313.2 1289.6,310.1 1286.3,307.0 1283.2,303.9 1284.6,303.3 1286.1,302.7 1287.5,302.0 1288.7,300.9 1289.5,298.4 1289.8,295.0 1289.9,291.4 1290.0,287.9Z"/>
<path fill="#cb8080" d="M1331.8,347.7 1332.9,347.3 1334.1,347.0 1335.2,346.6 1336.0,346.0 1336.3,345.3 1336.4,344.4 1336.5,343.5 1336.8,342.7 1338.6,342.0 1341.1,341.6 1343.7,341.3 1345.6,340.6 1346.3,340.1 1346.8,339.4 1347.2,338.8 1347.4,338.0 1347.3,337.2 1347.1,336.3 1346.8,335.4 1346.8,334.5 1347.3,333.5 1348.2,332.4 1349.3,331.4 1350.3,330.4 1351.4,329.3 1352.5,328.2 1353.7,327.2 1355.0,326.3 1356.6,325.6 1358.4,325.0 1360.2,324.5 1362.0,324.0 1364.2,323.4 1366.4,322.9 1368.5,322.3 1370.2,321.6 1370.9,321.2 1371.4,320.7 1371.9,320.3 1372.6,319.9 1374.0,319.5 1375.7,319.3 1377.6,319.2 1379.6,319.1 1382.7,319.0 1386.1,319.1 1389.6,319.0 1392.5,318.7 1394.2,318.3 1395.7,317.8 1397.0,317.1 1398.4,316.4 1399.6,315.5 1400.8,314.4 1401.9,313.3 1403.1,312.3 1403.8,313.3 1404.5,314.4 1405.2,315.4 1406.0,316.4 1406.9,317.3 1407.9,318.3 1408.9,319.1 1410.1,319.9 1411.7,320.5 1413.5,321.1 1415.3,321.6 1416.5,322.2 1417.1,322.8 1417.5,323.5 1417.7,324.1 1417.7,324.6 1416.9,324.9 1415.4,324.9 1413.8,324.9 1412.4,325.2 1411.5,325.8 1410.6,326.7 1409.9,327.7 1409.5,328.7 1409.4,329.7 1409.5,330.7 1409.7,331.8 1410.1,332.8 1410.6,333.9 1411.3,334.9 1412.1,335.9 1413.0,336.9 1414.1,337.9 1415.2,338.8 1416.5,339.7 1417.7,340.4 1418.9,341.0 1420.0,341.6 1421.2,342.0 1422.4,342.2 1423.5,342.1 1424.7,341.9 1425.7,341.5 1426.5,341.0 1426.9,340.3 1427.1,339.4 1427.1,338.4 1427.1,337.5 1426.8,336.5 1426.3,335.5 1425.9,334.6 1425.9,333.9 1426.2,333.6 1426.7,333.4 1427.2,333.3 1427.7,333.4 1428.4,334.1 1429.1,335.6 1429.8,337.2 1430.6,338.6 1431.5,339.8 1432.5,340.9 1433.6,341.9 1434.7,342.7 1435.9,343.3 1437.3,343.6 1438.5,344.0 1439.4,344.5 1439.7,345.0 1439.9,345.6 1440.0,346.2 1440.0,346.8 1439.6,347.9 1438.9,349.1 1438.0,350.2 1437.0,350.9 1436.0,351.2 1434.8,351.1 1433.6,350.8 1432.3,350.4 1430.9,349.5 1429.4,348.4 1427.9,347.2 1426.5,346.3 1425.4,345.9 1424.3,345.6 1423.3,345.4 1422.4,345.1 1421.9,344.7 1421.5,344.2 1421.1,343.7 1420.6,343.3 1419.7,343.0 1418.5,342.8 1417.2,342.8 1415.9,342.7 1414.3,342.8 1412.5,342.9 1410.7,343.1 1408.9,343.3 1407.1,343.6 1405.2,344.0 1403.5,344.4 1401.9,345.1 1400.6,345.8 1399.5,346.7 1398.5,347.6 1397.8,348.6 1397.4,349.4 1397.2,350.3 1397.1,351.2 1397.2,352.1 1397.5,353.2 1398.1,354.2 1398.8,355.2 1399.5,356.2 1400.5,357.1 1401.6,358.0 1402.7,358.8 1403.6,359.7 1404.3,360.6 1404.8,361.6 1405.3,362.5 1406.0,363.2 1407.1,363.8 1408.4,364.3 1409.8,364.6 1411.3,365.0 1412.9,365.5 1414.5,366.1 1416.2,366.6 1417.7,367.3 1419.0,368.2 1420.2,369.1 1421.3,370.0 1422.4,370.9 1423.4,371.5 1424.5,372.0 1425.4,372.5 1425.9,373.2 1425.9,374.0 1425.4,374.8 1424.9,375.8 1424.7,376.7 1425.1,378.1 1425.9,379.6 1426.7,381.1 1427.1,382.6 1427.0,383.8 1426.7,385.0 1426.3,386.2 1425.9,387.3 1425.7,388.2 1425.5,389.2 1425.2,390.1 1424.7,390.8 1423.8,391.4 1422.5,391.9 1421.1,392.1 1420.0,392.0 1419.4,391.5 1418.8,390.7 1418.3,389.9 1417.7,389.0 1416.8,388.0 1415.8,387.0 1414.7,385.9 1413.6,384.9 1412.4,384.1 1411.2,383.3 1410.0,382.4 1408.9,381.4 1408.0,380.1 1407.3,378.5 1406.6,377.0 1406.0,375.6 1405.5,374.6 1405.1,373.8 1404.7,373.0 1404.2,372.0 1403.6,370.4 1402.9,368.6 1402.2,366.7 1401.3,365.0 1400.4,363.6 1399.4,362.3 1398.3,361.2 1397.2,360.3 1396.1,359.8 1395.0,359.5 1393.8,359.4 1392.5,359.1 1390.8,358.8 1389.1,358.6 1387.3,358.3 1385.5,358.0 1383.7,357.6 1381.9,357.1 1380.1,356.7 1378.4,356.2 1376.9,355.8 1375.4,355.3 1374.0,354.8 1372.6,354.5 1371.4,354.2 1370.2,353.9 1369.0,353.7 1367.9,353.9 1366.6,354.5 1365.3,355.6 1364.2,356.8 1363.2,358.0 1362.6,358.7 1362.0,359.4 1361.6,360.1 1361.4,360.9 1361.8,361.9 1362.6,362.9 1363.5,363.9 1364.4,365.0 1365.1,366.1 1365.8,367.3 1366.5,368.5 1367.3,369.7 1368.2,370.9 1369.1,372.0 1370.0,373.2 1370.8,374.4 1371.6,375.6 1372.3,376.8 1373.0,378.0 1373.8,379.1 1374.5,380.0 1375.4,380.9 1376.3,381.8 1377.3,382.6 1378.6,383.4 1380.0,384.2 1381.6,384.9 1383.1,385.5 1384.9,386.1 1386.7,386.7 1388.5,387.2 1390.2,387.9 1391.6,388.5 1393.1,389.2 1394.4,390.0 1395.4,390.8 1396.0,391.5 1396.3,392.4 1396.7,393.1 1397.2,393.7 1398.2,394.0 1399.5,394.1 1400.7,394.1 1401.3,394.3 1401.2,394.9 1401.0,395.2 1399.7,395.8 1398.2,396.0 1396.4,396.1 1394.8,396.1 1393.5,396.0 1392.1,395.9 1390.8,395.7 1389.6,395.5 1388.5,395.1 1387.5,394.7 1386.5,394.2 1385.5,393.7 1384.1,393.0 1382.6,392.2 1381.1,391.5 1379.6,390.8 1378.1,390.2 1376.7,389.6 1375.2,389.2 1373.8,389.0 1372.5,389.2 1371.4,389.5 1370.2,389.9 1369.1,390.2 1367.9,390.5 1366.7,390.8 1365.6,391.0 1365.0,390.8 1365.0,390.0 1365.7,388.8 1366.4,387.4 1366.7,386.1 1366.5,384.6 1365.9,383.1 1365.2,381.6 1364.4,380.2 1363.5,379.1 1362.6,378.1 1361.6,377.1 1360.9,376.1 1360.4,375.4 1360.0,374.7 1359.8,373.9 1359.7,373.2 1360.0,372.4 1360.5,371.5 1361.1,370.6 1361.4,369.7 1361.5,368.6 1361.3,367.4 1361.0,366.1 1360.9,365.0 1360.9,364.1 1361.1,363.1 1361.1,362.2 1360.9,361.5 1359.9,360.7 1358.4,360.1 1356.7,359.7 1355.0,359.1 1353.3,358.6 1351.6,358.1 1349.8,357.5 1348.0,356.8 1345.7,355.5 1343.3,353.9 1340.9,352.3 1338.6,350.9 1336.8,350.0 1335.1,349.2 1333.5,348.4 1331.8,347.7Z"/>
<path fill="#cb8080" d="M1227.0,307.1 1233.7,306.5 1240.6,305.8 1247.2,305.4 1253.0,305.7 1256.5,306.7 1259.7,308.2 1262.7,309.7 1265.3,310.5 1267.1,310.7 1268.7,310.6 1270.2,310.4 1271.5,309.8 1272.5,308.7 1273.2,307.1 1273.9,305.5 1274.9,304.3 1276.7,303.8 1278.8,303.7 1281.0,303.9 1283.2,303.9 1286.3,307.0 1289.6,310.1 1292.6,313.2 1294.8,316.0 1295.6,317.6 1296.2,319.3 1296.5,320.8 1296.9,322.2 1297.1,323.0 1297.3,323.7 1297.4,324.4 1297.6,325.2 1296.2,326.7 1294.2,326.9 1292.2,327.2 1290.2,327.4 1288.2,327.5 1286.1,327.3 1283.9,327.0 1281.7,326.8 1279.7,327.0 1278.1,327.7 1276.6,328.7 1275.1,329.9 1273.6,331.1 1271.8,332.0 1270.0,332.9 1268.2,333.8 1266.7,335.2 1265.5,337.6 1264.6,340.6 1263.8,343.6 1262.6,346.1 1261.2,347.6 1259.7,348.8 1258.0,349.8 1256.4,350.9 1253.9,349.9 1251.2,348.9 1248.8,347.8 1246.8,346.1 1245.7,343.7 1245.3,340.7 1244.9,337.7 1244.1,335.2 1243.1,333.7 1242.0,332.3 1240.7,331.2 1239.3,330.4 1237.7,330.0 1235.9,330.0 1234.1,330.0 1232.4,329.7 1230.7,329.0 1229.0,328.2 1227.4,327.1 1226.3,325.6 1225.5,322.0 1225.8,317.2 1226.5,312.0 1227.0,307.1Z"/>
<path fill="#cb8080" d="M1256.4,350.9 1258.0,349.8 1259.7,348.8 1261.2,347.6 1262.6,346.1 1263.8,343.6 1264.6,340.6 1265.5,337.6 1266.7,335.2 1268.2,333.8 1270.0,332.9 1271.8,332.0 1273.6,331.1 1275.1,329.9 1276.6,328.7 1278.1,327.7 1279.7,327.0 1281.7,326.8 1283.9,327.0 1286.1,327.3 1288.2,327.5 1290.2,327.4 1292.2,327.2 1294.2,326.9 1296.2,326.7 1294.5,328.0 1292.8,329.3 1291.2,330.6 1290.0,331.6 1289.6,331.9 1289.2,332.2 1288.8,332.8 1288.8,333.5 1289.0,334.4 1289.5,335.4 1290.0,336.3 1290.8,337.3 1292.0,338.4 1293.2,339.4 1294.1,340.4 1294.5,341.1 1294.9,341.8 1295.2,342.5 1295.2,343.3 1295.0,344.5 1294.4,345.8 1293.6,347.2 1292.9,348.6 1292.1,350.5 1291.2,352.6 1290.3,354.7 1289.4,356.8 1288.4,358.9 1287.4,360.9 1286.5,363.0 1285.9,365.0 1285.5,366.8 1285.2,368.6 1285.1,370.3 1285.3,372.0 1285.7,373.6 1286.3,375.0 1287.0,376.4 1287.6,377.9 1288.2,379.4 1288.7,380.9 1289.3,382.4 1290.0,383.8 1290.8,385.0 1291.6,386.3 1292.6,387.4 1293.5,388.4 1294.2,389.2 1294.9,389.8 1295.7,390.4 1296.4,391.0 1296.8,391.0 1296.2,391.4 1294.4,392.1 1292.1,392.8 1290.0,393.2 1287.8,393.2 1285.5,393.0 1283.2,392.5 1281.1,391.8 1279.4,390.8 1278.0,389.4 1276.5,388.0 1274.9,386.7 1273.0,385.7 1270.9,384.7 1269.0,383.8 1267.4,382.6 1266.5,381.6 1265.9,380.4 1265.4,379.2 1265.1,377.8 1265.0,375.6 1265.2,373.1 1265.4,370.7 1264.9,369.0 1264.2,368.5 1263.3,368.1 1262.2,368.0 1261.2,368.0 1260.3,368.2 1259.3,368.7 1258.3,369.2 1257.1,369.6 1254.6,369.8 1251.7,369.6 1248.5,369.4 1245.5,369.2 1245.7,367.5 1246.0,365.9 1246.3,364.2 1246.8,362.6 1247.8,360.8 1249.0,359.0 1250.3,357.3 1251.6,355.7 1252.8,354.5 1254.0,353.3 1255.2,352.1 1256.4,350.9Z"/>
<path fill="#cb8080" d="M1187.2,322.8 1188.6,323.3 1190.0,323.9 1191.3,324.3 1192.7,324.2 1194.4,322.6 1195.9,319.8 1197.5,316.8 1199.5,314.6 1202.1,313.8 1205.2,313.6 1208.2,313.4 1210.5,312.6 1211.7,311.1 1212.4,309.2 1213.1,307.3 1213.9,305.7 1214.9,304.8 1215.9,304.2 1217.0,303.6 1218.0,303.0 1219.7,303.0 1221.3,303.1 1222.9,303.2 1224.2,303.6 1225.1,304.3 1225.7,305.2 1226.3,306.2 1227.0,307.1 1226.5,312.0 1225.8,317.2 1225.5,322.0 1226.3,325.6 1227.4,327.1 1229.0,328.2 1230.7,329.0 1232.4,329.7 1234.1,330.0 1235.9,330.0 1237.7,330.0 1239.3,330.4 1240.7,331.2 1242.0,332.3 1243.1,333.7 1244.1,335.2 1244.9,337.7 1245.3,340.7 1245.7,343.7 1246.8,346.1 1248.8,347.8 1251.2,348.9 1253.9,349.9 1256.4,350.9 1255.2,352.1 1254.0,353.3 1252.8,354.5 1251.6,355.7 1250.3,357.3 1249.0,359.0 1247.8,360.8 1246.8,362.6 1246.3,364.2 1246.0,365.9 1245.7,367.5 1245.5,369.2 1245.0,369.8 1244.5,370.4 1244.0,371.0 1243.4,371.7 1242.0,373.0 1240.3,374.5 1238.4,376.1 1236.6,377.8 1234.4,379.8 1232.2,381.8 1230.0,383.9 1228.3,386.1 1227.3,387.8 1226.6,389.5 1226.0,391.2 1225.3,392.9 1224.8,392.6 1224.4,392.2 1223.9,391.9 1223.3,391.5 1221.2,390.4 1218.5,389.2 1215.8,387.7 1213.7,386.0 1212.7,384.1 1212.2,382.0 1211.7,379.8 1210.9,377.8 1209.5,375.9 1207.8,374.2 1205.9,372.5 1204.1,370.9 1202.1,369.1 1200.0,367.4 1197.9,365.7 1195.8,364.0 1193.8,362.5 1191.8,361.0 1189.7,359.7 1187.6,358.6 1185.6,357.7 1183.5,357.0 1181.4,356.6 1179.4,356.5 1177.2,356.9 1175.1,357.8 1173.0,358.9 1171.2,359.9 1170.0,360.8 1169.0,361.9 1168.1,362.8 1167.0,363.4 1165.9,363.5 1164.6,363.4 1163.4,363.1 1162.2,362.7 1161.3,362.0 1160.6,361.1 1159.8,360.3 1158.8,359.9 1157.3,360.4 1155.6,361.5 1153.8,362.9 1152.0,364.0 1150.3,364.8 1148.6,365.4 1146.8,365.9 1145.1,366.5 1145.7,362.8 1146.1,358.8 1146.4,354.9 1146.7,351.6 1146.8,349.9 1146.8,348.2 1146.9,346.8 1147.4,345.5 1148.9,344.0 1151.0,342.8 1153.3,341.7 1155.7,340.7 1157.9,339.4 1160.3,338.2 1162.7,337.2 1165.2,336.6 1168.3,336.6 1171.6,337.2 1174.8,337.9 1177.6,337.9 1179.2,337.5 1180.6,336.9 1181.9,336.1 1183.1,335.2 1184.2,334.0 1185.1,332.7 1185.9,331.2 1186.5,329.7 1186.9,328.1 1187.0,326.3 1187.1,324.6 1187.2,322.8Z"/>
<path fill="#cb8080" d="M1393.8,222.3 1394.0,222.0 1394.2,221.6 1394.4,221.2 1394.8,220.8 1397.1,219.6 1400.6,218.4 1404.6,217.2 1408.1,216.1 1410.9,215.0 1413.7,213.9 1416.2,213.1 1418.3,213.0 1419.2,213.4 1419.8,214.1 1420.5,214.8 1421.4,215.3 1424.1,215.5 1427.5,215.1 1430.9,214.3 1433.1,213.0 1433.6,211.6 1433.5,209.8 1433.4,208.1 1433.9,206.7 1436.1,205.6 1439.2,205.1 1442.7,204.9 1445.6,204.4 1447.4,203.6 1449.2,202.7 1450.7,202.0 1451.9,202.0 1452.4,203.0 1452.6,204.6 1452.8,206.3 1453.4,207.5 1454.9,208.0 1456.9,208.0 1459.1,207.8 1461.2,207.5 1463.9,207.1 1466.8,206.6 1469.6,205.9 1472.2,205.2 1474.0,204.3 1475.7,203.3 1477.2,202.5 1478.4,202.5 1479.3,203.5 1479.8,205.2 1480.2,207.2 1480.8,209.1 1481.7,210.7 1482.6,212.3 1483.7,213.9 1484.7,215.3 1485.4,216.4 1486.1,217.5 1486.8,218.5 1487.8,219.2 1489.9,219.6 1492.4,219.5 1495.0,219.5 1497.2,220.0 1498.5,221.1 1499.6,222.7 1500.6,224.3 1501.6,225.9 1500.1,226.8 1498.7,227.7 1497.2,228.6 1495.6,229.4 1493.7,230.2 1491.7,230.9 1489.7,231.6 1487.8,232.5 1486.1,233.6 1484.6,234.7 1483.1,236.0 1481.6,237.2 1480.1,238.4 1478.5,239.5 1477.1,240.7 1476.1,241.9 1475.7,242.6 1475.4,243.3 1475.2,244.0 1475.0,244.7 1475.0,245.5 1475.0,246.4 1474.9,247.3 1474.5,248.1 1473.3,249.6 1471.6,251.1 1469.5,252.5 1467.5,253.6 1465.8,254.2 1464.0,254.4 1462.2,254.7 1460.5,255.2 1458.4,256.1 1456.3,257.2 1454.3,258.5 1452.7,259.8 1451.6,261.1 1450.8,262.4 1450.1,263.8 1449.5,265.3 1449.2,267.9 1449.3,270.9 1449.3,273.6 1448.8,275.5 1447.9,276.1 1446.9,276.4 1445.8,276.4 1444.8,276.2 1444.0,275.7 1443.3,274.8 1442.6,273.8 1441.7,273.1 1440.3,272.8 1438.8,272.9 1437.1,273.0 1435.5,273.1 1434.5,271.1 1433.6,269.1 1432.6,267.1 1431.6,265.3 1430.5,263.7 1429.4,262.2 1428.1,260.9 1426.9,259.8 1425.8,259.2 1424.7,258.8 1423.5,258.5 1422.2,258.3 1420.2,258.4 1418.0,258.9 1415.7,259.3 1413.6,259.1 1411.3,257.8 1409.1,255.9 1407.0,253.7 1405.0,251.2 1403.0,248.3 1401.1,245.1 1399.4,241.8 1398.0,238.8 1397.0,236.7 1396.2,234.8 1395.4,232.9 1394.8,230.9 1394.4,228.8 1394.2,226.7 1394.0,224.5 1393.7,222.3Z"/>
<path fill="#cb8080" d="M1435.5,273.1 1437.1,273.0 1438.8,272.9 1440.3,272.8 1441.7,273.1 1442.6,273.8 1443.3,274.8 1444.0,275.7 1444.8,276.2 1445.8,276.4 1446.9,276.4 1447.9,276.1 1448.8,275.5 1449.3,273.6 1449.3,270.9 1449.2,267.9 1449.5,265.3 1450.1,263.8 1450.8,262.4 1451.6,261.1 1452.7,259.8 1454.3,258.5 1456.3,257.2 1458.4,256.1 1460.5,255.2 1462.2,254.7 1464.0,254.4 1465.8,254.2 1467.5,253.6 1469.5,252.5 1471.6,251.1 1473.3,249.6 1474.5,248.1 1474.9,247.3 1475.0,246.4 1475.0,245.5 1475.0,244.7 1476.6,245.1 1478.3,245.5 1479.9,245.9 1481.6,246.2 1483.2,246.3 1484.8,246.2 1486.4,246.2 1487.8,246.6 1489.1,247.4 1490.3,248.6 1491.4,249.9 1492.5,251.2 1493.6,252.7 1494.6,254.3 1495.5,255.9 1496.4,257.5 1497.2,259.0 1497.9,260.5 1498.6,262.1 1499.1,263.8 1499.4,265.9 1499.5,268.2 1499.5,270.6 1499.5,273.1 1499.7,276.3 1499.8,279.6 1499.9,283.0 1500.0,286.4 1498.1,285.9 1496.1,285.4 1494.2,285.0 1492.5,284.8 1491.2,285.2 1490.0,285.8 1488.8,286.3 1487.8,286.4 1486.9,285.8 1486.1,284.8 1485.4,283.6 1484.7,282.5 1484.0,281.3 1483.3,280.0 1482.5,278.8 1481.6,277.8 1480.2,276.9 1478.7,276.2 1477.0,275.7 1475.3,275.5 1473.4,275.5 1471.4,275.8 1469.4,276.3 1467.5,277.0 1465.4,278.1 1463.3,279.5 1461.3,281.0 1459.7,282.5 1458.6,283.5 1457.6,284.5 1456.9,285.5 1456.6,286.4 1456.8,287.0 1457.4,287.6 1457.9,288.1 1458.1,288.8 1457.6,289.8 1456.4,291.0 1454.9,292.2 1453.4,293.4 1451.7,295.0 1449.8,296.7 1447.7,298.3 1445.6,299.7 1443.4,300.8 1441.0,301.8 1438.6,302.5 1436.2,302.8 1433.9,302.6 1431.5,302.0 1429.1,301.2 1426.9,300.5 1425.0,300.0 1423.1,299.4 1421.3,298.9 1419.5,298.4 1420.9,296.8 1422.4,295.1 1423.9,293.5 1425.3,291.9 1426.5,290.5 1427.7,289.0 1428.9,287.7 1430.0,286.4 1431.0,285.4 1432.1,284.6 1433.1,283.7 1433.9,282.5 1434.6,280.5 1434.9,278.1 1435.2,275.6 1435.5,273.1Z"/>
<path fill="#cb8080" d="M1224.9,404.6 1218.9,404.5 1212.6,404.6 1206.8,404.5 1202.3,403.9 1200.7,403.3 1199.5,402.5 1198.3,401.7 1196.8,401.1 1193.0,400.6 1188.3,400.5 1183.4,400.7 1179.0,401.1 1175.3,401.7 1171.7,402.5 1168.6,403.3 1166.6,403.9 1166.2,404.0 1165.1,406.2 1164.3,408.2 1163.4,410.2 1162.5,412.1 1161.7,413.6 1160.9,415.0 1160.0,416.3 1159.1,417.6 1158.1,418.8 1157.2,419.9 1156.1,420.9 1155.0,421.7 1153.5,422.2 1151.7,422.4 1150.2,422.6 1149.5,423.1 1149.9,423.8 1151.2,424.8 1152.6,425.9 1153.6,427.2 1153.8,429.2 1153.4,431.7 1153.0,434.2 1152.9,436.8 1153.5,439.5 1154.4,442.3 1155.4,445.0 1156.3,447.8 1156.9,450.5 1157.3,453.3 1157.9,455.8 1159.1,457.6 1161.2,458.5 1164.0,458.6 1167.1,458.5 1170.0,458.5 1171.9,457.6 1173.8,456.7 1175.7,455.9 1177.6,455.3 1179.3,455.0 1181.0,454.9 1182.7,454.9 1184.4,454.6 1186.2,454.1 1187.8,453.4 1189.5,452.6 1191.3,451.9 1193.4,451.2 1195.5,450.5 1197.7,449.8 1199.5,449.1 1200.6,448.5 1201.5,447.9 1202.5,447.4 1203.6,447.1 1206.1,447.6 1209.0,448.9 1212.0,450.1 1214.6,450.5 1216.5,449.7 1218.1,448.4 1219.7,446.9 1221.5,445.7 1223.4,444.8 1225.4,444.0 1227.5,443.4 1229.7,443.0 1232.1,442.9 1234.5,443.2 1237.0,443.5 1239.3,443.6 1241.1,443.6 1242.9,443.4 1244.6,443.2 1246.1,443.0 1247.3,442.7 1248.3,442.4 1249.3,442.1 1250.3,441.9 1250.4,439.5 1250.6,437.2 1250.7,434.9 1250.3,432.7 1249.1,430.5 1247.4,428.3 1245.4,426.3 1243.4,424.4 1241.2,422.6 1238.7,420.8 1236.2,419.2 1233.8,417.6 1231.5,416.2 1229.2,415.0 1227.1,413.7 1225.6,412.1 1225.0,410.4 1224.9,408.5 1224.9,406.5 1224.9,404.6Z"/>
<path fill="#cb8080" d="M1170.0,458.5 1171.9,457.6 1173.8,456.7 1175.7,455.9 1177.6,455.3 1179.3,455.0 1181.0,454.9 1182.7,454.9 1184.4,454.6 1186.2,454.1 1187.8,453.4 1189.5,452.6 1191.3,451.9 1193.4,451.2 1195.5,450.5 1197.7,449.8 1199.5,449.1 1200.6,448.5 1201.5,447.9 1202.5,447.4 1203.6,447.1 1206.1,447.6 1209.0,448.9 1212.0,450.1 1214.6,450.5 1216.5,449.7 1218.1,448.4 1219.7,446.9 1221.5,445.7 1223.4,444.8 1225.4,444.0 1227.5,443.4 1229.7,443.0 1232.1,442.9 1234.5,443.2 1237.0,443.5 1239.3,443.6 1241.1,443.6 1242.9,443.4 1244.6,443.2 1246.1,443.0 1247.3,442.7 1248.3,442.4 1249.3,442.1 1250.3,441.9 1251.5,442.3 1252.8,442.6 1254.0,443.0 1255.1,443.6 1256.1,444.5 1257.1,445.4 1258.0,446.5 1258.5,447.8 1258.6,449.3 1258.3,451.1 1257.8,452.9 1257.1,454.6 1256.2,456.0 1254.9,457.4 1253.8,458.7 1253.0,460.1 1252.8,461.7 1252.9,463.5 1253.2,465.3 1253.7,467.0 1254.3,468.4 1255.1,469.9 1256.1,471.2 1257.1,472.4 1258.3,473.5 1259.7,474.5 1261.2,475.4 1262.6,476.3 1261.6,476.3 1260.6,476.3 1259.5,476.4 1258.5,476.6 1257.3,476.9 1256.0,477.3 1254.8,477.9 1253.7,478.6 1252.5,479.6 1251.4,480.7 1250.3,482.0 1249.6,483.4 1249.2,485.4 1249.2,487.6 1249.2,489.8 1248.9,491.6 1248.4,492.7 1247.8,493.6 1247.1,494.4 1246.1,495.1 1244.5,495.8 1242.4,496.3 1240.1,496.7 1237.9,497.1 1235.5,497.5 1233.0,497.8 1230.6,498.1 1228.3,498.5 1226.7,498.9 1225.1,499.5 1223.7,500.0 1222.2,500.5 1222.4,499.7 1222.6,498.9 1222.8,498.0 1222.8,497.1 1222.5,495.8 1221.9,494.4 1221.1,493.0 1220.1,491.6 1218.6,490.2 1216.8,488.9 1214.9,487.6 1213.2,486.1 1211.7,484.5 1210.3,482.8 1209.0,481.0 1207.8,479.3 1206.7,477.5 1205.7,475.6 1204.7,474.0 1203.6,473.1 1203.0,473.1 1202.3,473.5 1201.6,474.0 1200.9,474.5 1200.0,475.3 1199.0,476.4 1198.0,477.4 1196.8,477.9 1195.0,477.7 1192.9,476.8 1190.7,475.8 1188.6,475.2 1186.5,475.2 1184.4,475.5 1182.4,475.9 1180.3,476.6 1178.2,477.4 1176.2,478.4 1174.2,479.6 1172.1,480.7 1172.7,479.0 1173.3,477.3 1173.9,475.6 1174.2,473.8 1174.1,471.8 1173.8,469.7 1173.3,467.6 1172.8,465.6 1172.2,463.7 1171.5,462.0 1170.8,460.2 1170.0,458.5Z"/>
<path fill="#cb8080" d="M1222.2,500.5 1223.7,500.0 1225.1,499.5 1226.7,498.9 1228.3,498.5 1230.6,498.1 1233.0,497.8 1235.5,497.5 1237.9,497.1 1240.1,496.7 1242.4,496.3 1244.5,495.8 1246.1,495.1 1247.1,494.4 1247.8,493.6 1248.4,492.7 1248.9,491.6 1249.2,489.8 1249.2,487.6 1249.2,485.4 1249.6,483.4 1250.3,482.0 1251.4,480.7 1252.5,479.6 1253.7,478.6 1254.8,477.9 1256.0,477.3 1257.3,476.9 1258.5,476.6 1259.5,476.4 1260.6,476.3 1261.6,476.3 1262.6,476.3 1263.8,477.3 1265.1,478.2 1266.3,479.2 1267.5,480.3 1268.9,481.6 1270.2,482.9 1271.6,484.3 1272.9,485.7 1274.1,486.8 1275.3,487.9 1276.6,489.1 1277.8,490.2 1277.8,491.2 1277.8,492.3 1278.0,493.3 1278.3,494.3 1279.1,495.2 1280.1,496.0 1281.3,496.8 1282.6,497.5 1284.1,498.3 1285.7,498.9 1287.4,499.6 1289.1,500.2 1290.9,500.8 1292.7,501.3 1294.7,501.9 1296.6,502.3 1298.7,502.8 1300.9,503.1 1303.1,503.5 1305.2,504.0 1307.2,504.4 1309.1,504.9 1311.0,505.5 1312.7,506.1 1314.2,506.7 1315.6,507.4 1316.9,508.1 1318.1,508.8 1319.2,509.5 1320.2,510.2 1321.2,511.0 1322.2,511.7 1320.6,512.3 1319.0,512.8 1317.4,513.4 1315.9,514.0 1314.7,514.6 1313.7,515.2 1312.6,515.9 1311.5,516.4 1310.1,516.9 1308.6,517.4 1307.1,517.7 1305.6,517.8 1304.5,517.8 1303.4,517.6 1302.3,517.3 1301.2,517.0 1299.8,516.5 1298.3,515.9 1296.8,515.3 1295.3,514.9 1294.0,514.8 1292.6,514.8 1291.2,514.9 1289.8,515.2 1288.0,515.8 1286.0,516.5 1284.4,517.4 1283.6,518.4 1283.8,519.5 1284.4,520.7 1285.4,521.8 1286.5,522.5 1288.1,522.8 1290.0,522.7 1292.0,522.3 1293.9,522.2 1295.5,522.4 1297.0,522.6 1298.5,522.8 1299.8,523.3 1300.6,523.7 1301.2,524.3 1301.9,524.9 1302.7,525.5 1304.0,526.2 1305.4,527.0 1306.9,527.8 1308.6,528.4 1310.6,528.9 1312.9,529.2 1315.2,529.4 1317.4,529.9 1319.2,530.5 1321.1,531.3 1322.9,532.1 1324.7,532.8 1326.6,533.4 1328.5,533.8 1330.4,534.3 1332.0,535.0 1333.3,535.8 1334.5,536.6 1335.5,537.6 1336.4,538.7 1337.1,540.1 1337.6,541.8 1338.0,543.3 1338.6,544.5 1339.1,545.1 1339.6,545.6 1340.2,545.9 1340.8,546.0 1342.2,545.4 1343.9,544.1 1345.7,542.7 1347.4,541.9 1348.7,541.9 1350.0,542.1 1351.3,542.5 1352.6,543.1 1354.3,544.0 1356.1,545.1 1357.8,546.4 1359.2,547.8 1360.0,548.9 1360.8,550.0 1361.3,551.2 1361.4,552.2 1360.7,552.9 1359.4,553.5 1358.2,554.1 1357.7,554.8 1358.3,555.8 1359.9,556.9 1361.8,558.1 1363.6,559.2 1362.7,560.4 1362.0,561.6 1361.1,562.8 1359.9,563.6 1357.1,564.3 1353.6,564.3 1349.9,564.0 1346.7,563.6 1344.7,563.2 1343.0,562.6 1341.3,561.9 1339.4,561.4 1336.3,561.0 1332.8,560.8 1329.3,560.5 1326.2,559.9 1323.8,559.2 1321.5,558.2 1319.4,557.2 1317.4,556.3 1315.8,555.6 1314.4,554.9 1313.0,554.3 1311.5,554.1 1309.5,554.4 1307.4,555.2 1305.1,556.2 1302.7,557.0 1299.1,557.8 1295.2,558.5 1291.3,559.0 1288.0,559.2 1286.4,559.1 1284.9,558.9 1283.6,558.7 1282.1,558.5 1281.6,556.4 1281.2,554.3 1280.6,552.3 1279.9,550.4 1279.2,548.8 1278.3,547.4 1277.3,545.9 1276.3,544.5 1275.0,543.0 1273.6,541.3 1272.1,539.9 1270.4,538.7 1268.4,537.9 1266.1,537.4 1263.7,537.0 1261.6,536.5 1260.0,535.7 1258.5,534.8 1257.1,533.9 1255.7,533.5 1254.6,533.7 1253.6,534.1 1252.5,534.6 1251.3,535.0 1249.7,535.4 1247.9,535.9 1246.0,536.2 1244.0,536.5 1241.7,536.6 1239.3,536.6 1236.9,536.5 1234.5,536.5 1233.6,535.0 1232.8,533.5 1231.9,532.0 1230.8,530.6 1229.2,529.1 1227.2,527.7 1225.2,526.3 1223.5,524.7 1221.9,522.9 1220.5,520.9 1219.2,518.8 1218.3,516.7 1217.8,514.7 1217.6,512.6 1217.6,510.6 1217.9,508.6 1218.6,506.6 1219.7,504.5 1221.0,502.5 1222.2,500.5Z"/>
<path fill="#cb8080" d="M1234.5,536.5 1236.9,536.5 1239.3,536.6 1241.7,536.6 1244.0,536.5 1246.0,536.2 1247.9,535.9 1249.7,535.4 1251.3,535.0 1252.5,534.6 1253.6,534.1 1254.6,533.7 1255.7,533.5 1257.1,533.9 1258.5,534.8 1260.0,535.7 1261.6,536.5 1263.7,537.0 1266.1,537.4 1268.4,537.9 1270.4,538.7 1272.1,539.9 1273.6,541.3 1275.0,543.0 1276.3,544.5 1277.3,545.9 1278.3,547.4 1279.2,548.8 1279.9,550.4 1280.6,552.3 1281.2,554.3 1281.6,556.4 1282.1,558.5 1281.9,559.8 1281.6,561.0 1281.4,562.3 1281.4,563.6 1281.8,565.2 1282.4,566.8 1283.1,568.3 1283.9,569.8 1284.6,570.9 1285.3,572.0 1286.1,573.1 1286.8,574.2 1287.6,575.3 1288.3,576.4 1289.0,577.5 1289.8,578.6 1289.7,580.5 1289.6,582.5 1289.6,584.3 1289.8,585.3 1290.2,585.6 1289.8,585.9 1288.9,586.3 1287.7,586.4 1286.8,586.3 1286.0,585.6 1285.4,584.3 1284.8,582.9 1284.1,581.5 1283.1,580.2 1282.1,578.7 1281.0,577.4 1280.0,576.1 1278.9,574.9 1277.9,573.9 1276.8,572.9 1275.8,571.9 1275.1,571.1 1274.4,570.1 1273.7,569.4 1273.1,569.2 1272.7,569.5 1272.3,570.2 1272.0,571.1 1271.7,571.9 1271.4,573.2 1271.3,574.8 1271.0,576.2 1270.4,577.4 1269.3,578.2 1267.9,578.8 1266.4,579.2 1264.9,579.5 1263.2,579.5 1261.5,579.2 1259.7,578.9 1258.0,578.8 1256.6,579.0 1255.2,579.3 1253.9,579.7 1252.5,580.2 1251.2,580.7 1249.8,581.4 1248.4,582.0 1247.0,582.2 1245.7,581.9 1244.3,581.2 1243.0,580.3 1241.6,579.5 1239.9,578.6 1238.2,577.8 1236.4,576.9 1234.7,576.1 1233.0,575.2 1231.3,574.4 1229.5,573.7 1227.9,573.3 1226.4,573.3 1225.1,573.4 1223.7,573.7 1222.4,574.0 1221.0,574.4 1219.6,574.8 1218.3,575.3 1216.9,575.8 1216.4,574.7 1215.9,573.7 1215.5,572.7 1215.4,571.7 1215.6,570.6 1216.1,569.6 1216.7,568.6 1217.6,567.7 1219.6,567.1 1222.2,567.0 1224.8,566.8 1226.7,565.8 1227.5,563.5 1227.5,560.2 1227.2,556.7 1227.1,553.3 1227.3,550.4 1227.5,547.5 1227.8,544.8 1228.6,542.3 1229.8,540.6 1231.3,539.2 1232.9,537.9 1234.5,536.5Z"/>
<path fill="#cb8080" d="M1144.4,495.8 1145.5,497.2 1146.7,498.5 1147.7,499.9 1148.5,501.3 1149.1,502.7 1149.6,504.2 1149.9,505.6 1149.9,506.8 1149.5,507.5 1148.9,508.1 1148.2,508.8 1147.9,509.5 1148.1,511.3 1148.9,513.5 1149.7,515.4 1149.9,516.4 1149.6,516.3 1149.1,515.9 1148.5,515.4 1147.9,515.0 1146.9,514.5 1145.8,514.0 1144.7,513.7 1143.7,513.6 1143.0,514.1 1142.4,515.0 1141.7,515.8 1141.0,516.4 1140.0,516.5 1138.8,516.5 1137.7,516.2 1136.9,515.7 1136.4,515.0 1136.2,514.0 1136.0,513.0 1135.5,512.3 1134.7,511.7 1133.6,511.3 1132.5,511.1 1131.4,510.9 1130.4,510.8 1129.3,510.7 1128.3,510.8 1127.3,510.9 1126.3,511.2 1125.3,511.6 1124.2,512.1 1123.2,512.3 1121.9,512.1 1120.5,511.8 1119.1,511.3 1117.7,510.9 1116.2,510.4 1114.8,509.9 1113.4,509.5 1112.2,509.5 1111.5,509.8 1110.9,510.3 1110.4,511.0 1110.1,511.6 1110.4,512.4 1111.1,513.2 1111.8,514.1 1112.2,515.0 1112.1,516.0 1111.8,517.0 1111.3,518.1 1110.8,519.1 1110.3,520.2 1109.6,521.2 1109.1,522.3 1108.8,523.2 1108.7,524.0 1108.8,524.8 1109.0,525.4 1109.5,526.0 1110.5,526.5 1112.0,526.7 1113.6,526.7 1114.9,526.7 1115.7,526.5 1116.4,526.3 1117.0,526.0 1117.7,526.0 1118.4,526.1 1119.2,526.4 1119.8,526.8 1120.4,527.4 1120.9,528.2 1121.2,529.2 1121.4,530.3 1121.8,531.5 1122.4,532.8 1123.2,534.2 1123.9,535.6 1124.5,537.0 1124.9,538.1 1125.1,539.1 1125.4,540.2 1125.9,541.1 1127.0,541.9 1128.6,542.5 1130.1,543.0 1131.4,543.8 1132.3,544.7 1133.0,545.7 1133.6,546.8 1134.1,547.9 1134.6,549.2 1134.8,550.7 1135.1,552.1 1135.5,553.4 1136.1,554.6 1136.7,555.7 1137.4,556.7 1138.3,557.5 1139.2,558.0 1140.4,558.2 1141.5,558.4 1142.4,558.9 1143.0,560.0 1143.3,561.4 1143.5,562.9 1143.7,564.4 1143.9,565.7 1144.1,567.1 1144.2,568.5 1144.4,569.9 1144.8,571.3 1145.3,572.7 1145.7,574.0 1145.8,575.3 1145.5,576.4 1145.0,577.5 1144.5,578.5 1144.4,579.5 1144.7,580.2 1145.1,581.0 1145.8,581.6 1146.5,582.2 1147.7,582.8 1149.1,583.3 1150.7,583.5 1152.0,583.6 1152.7,583.4 1153.4,583.1 1154.1,582.7 1154.7,582.2 1155.4,581.4 1156.1,580.3 1156.7,579.2 1157.4,578.1 1158.4,577.1 1159.5,576.1 1160.6,575.1 1161.6,574.0 1162.4,572.7 1163.1,571.3 1163.7,569.9 1164.3,568.5 1164.7,566.9 1165.0,565.1 1165.2,563.7 1165.7,563.0 1166.3,563.4 1167.0,564.4 1167.8,565.8 1168.4,567.1 1168.8,568.4 1169.1,569.8 1169.3,571.2 1169.8,572.6 1170.6,574.0 1171.7,575.4 1172.8,576.8 1173.9,578.1 1174.9,579.2 1176.0,580.3 1177.0,581.3 1178.0,582.2 1178.7,583.0 1179.4,583.9 1180.0,584.5 1180.8,584.9 1181.7,584.9 1182.7,584.6 1183.8,584.1 1184.9,583.6 1186.2,582.9 1187.6,582.0 1189.0,581.2 1190.4,580.8 1191.7,580.9 1193.1,581.3 1194.5,581.8 1195.8,582.2 1197.2,582.6 1198.6,583.1 1200.0,583.5 1201.3,583.6 1202.7,583.2 1204.2,582.6 1205.5,581.7 1206.8,580.8 1208.0,579.7 1209.1,578.4 1210.1,577.3 1210.9,576.7 1211.2,576.7 1211.7,577.1 1212.1,577.1 1213.1,577.0 1214.3,576.7 1215.6,576.2 1216.9,575.8 1216.4,574.7 1215.9,573.7 1215.5,572.7 1215.4,571.7 1215.6,570.6 1216.1,569.6 1216.7,568.6 1217.6,567.7 1219.6,567.1 1222.2,567.0 1224.8,566.8 1226.7,565.8 1227.5,563.5 1227.5,560.2 1227.2,556.7 1227.1,553.3 1227.3,550.4 1227.5,547.5 1227.8,544.8 1228.6,542.3 1229.8,540.6 1231.3,539.2 1232.9,537.9 1234.5,536.5 1234.0,535.5 1233.5,534.5 1232.9,533.6 1232.2,532.8 1230.7,532.1 1228.9,531.6 1227.0,531.4 1225.3,531.5 1224.1,531.9 1222.9,532.6 1221.8,533.4 1220.5,534.2 1218.9,535.2 1217.1,536.3 1215.3,537.4 1213.7,538.3 1212.6,539.0 1211.6,539.6 1210.6,540.1 1209.6,540.4 1208.3,540.2 1206.9,539.7 1205.5,539.0 1204.1,538.3 1202.1,537.4 1199.9,536.3 1197.8,535.2 1195.8,534.2 1194.4,533.5 1193.0,532.9 1191.6,532.2 1190.4,531.5 1189.1,530.7 1187.8,529.9 1186.8,529.0 1186.2,528.0 1186.2,527.2 1186.5,526.3 1187.0,525.4 1187.6,524.6 1188.6,523.7 1190.0,522.9 1191.2,522.1 1191.7,521.2 1191.2,519.8 1189.7,518.3 1187.9,516.6 1186.2,515.0 1184.8,513.3 1183.4,511.6 1182.0,509.9 1180.8,508.2 1179.6,506.5 1178.5,504.8 1177.5,503.1 1176.6,501.3 1176.2,499.6 1175.9,497.9 1175.7,496.2 1175.3,494.4 1174.7,492.7 1174.0,490.9 1173.3,489.2 1172.5,487.6 1171.9,486.5 1171.2,485.4 1170.5,484.5 1169.8,483.5 1168.1,483.8 1166.5,484.2 1164.8,484.5 1162.9,484.8 1160.3,485.1 1157.3,485.3 1154.5,485.6 1152.0,486.2 1150.3,487.0 1148.8,488.0 1147.5,489.1 1146.5,490.3 1145.8,491.6 1145.3,493.0 1144.9,494.4 1144.4,495.8Z"/>
<path fill="#cb8080" d="M1218.3,641.2 1217.7,639.3 1217.2,637.3 1216.7,635.4 1216.2,633.6 1215.9,632.1 1215.7,630.6 1215.4,629.2 1214.8,628.2 1214.0,627.5 1212.9,627.1 1211.8,626.8 1210.7,626.8 1209.7,627.0 1208.6,627.5 1207.6,628.1 1206.6,628.8 1205.4,630.0 1204.2,631.5 1203.0,633.0 1201.8,634.3 1200.8,635.2 1199.8,636.1 1198.8,636.7 1197.7,637.1 1196.4,637.0 1195.0,636.5 1193.6,635.7 1192.2,635.0 1190.5,634.1 1188.8,633.1 1187.0,631.9 1185.3,630.9 1183.8,630.1 1182.2,629.4 1180.8,628.6 1179.9,627.5 1179.8,625.8 1180.4,623.8 1181.1,621.8 1181.2,619.9 1180.6,618.4 1179.6,617.0 1178.4,615.7 1177.1,614.4 1175.8,613.2 1174.4,612.1 1173.0,611.1 1171.6,610.3 1170.7,609.9 1169.7,609.7 1168.7,609.5 1167.8,609.2 1167.2,610.6 1166.6,611.9 1166.1,613.2 1165.5,614.4 1165.0,615.4 1164.5,616.3 1164.0,617.1 1163.4,617.9 1162.5,618.5 1161.4,618.9 1160.3,619.3 1159.3,619.9 1158.3,620.9 1157.3,622.0 1156.3,623.1 1155.2,624.0 1153.8,624.8 1152.4,625.5 1150.9,626.1 1149.7,626.8 1148.9,627.3 1148.2,627.7 1147.5,628.2 1147.0,628.8 1146.2,629.9 1145.6,631.1 1145.1,632.4 1144.9,633.6 1145.0,634.8 1145.2,635.9 1145.6,636.9 1146.3,637.8 1147.2,638.3 1148.4,638.6 1149.8,638.9 1151.1,639.1 1152.4,639.4 1153.9,639.7 1155.2,640.0 1156.6,640.5 1157.7,641.0 1158.8,641.7 1159.8,642.4 1160.7,643.2 1161.5,644.4 1162.2,645.8 1162.9,647.2 1163.4,648.7 1163.9,650.4 1164.4,652.2 1164.7,654.0 1164.8,655.6 1164.6,656.8 1164.3,658.1 1164.0,659.1 1164.1,659.7 1164.7,659.6 1165.5,659.2 1166.5,658.6 1167.5,658.3 1168.5,658.4 1169.5,658.7 1170.6,659.2 1171.6,659.7 1173.0,660.5 1174.3,661.5 1175.7,662.7 1177.1,663.8 1178.8,665.1 1180.5,666.5 1182.2,667.9 1184.0,669.3 1185.7,670.7 1187.5,672.0 1189.2,673.4 1190.8,674.8 1192.3,676.1 1193.7,677.5 1195.0,678.9 1196.3,680.3 1197.4,681.5 1198.4,682.7 1199.4,683.9 1200.4,685.1 1201.5,686.3 1202.5,687.5 1203.5,688.7 1204.5,689.9 1205.4,690.8 1206.3,691.6 1207.2,692.5 1208.0,693.3 1208.5,694.0 1209.0,694.7 1209.5,695.3 1210.0,696.0 1210.4,695.2 1210.7,694.4 1211.0,693.5 1211.4,692.6 1211.8,691.2 1212.2,689.7 1212.7,688.2 1213.5,687.1 1214.4,686.5 1215.7,686.2 1217.0,686.0 1218.3,685.7 1219.7,685.6 1221.1,685.6 1222.5,685.4 1223.7,685.1 1224.7,684.4 1225.5,683.6 1226.2,682.6 1226.5,681.6 1226.3,680.4 1225.6,679.0 1224.7,677.5 1223.7,676.1 1222.6,674.7 1221.2,673.4 1219.7,672.1 1218.3,670.7 1216.5,669.0 1214.7,667.3 1212.9,665.5 1211.4,663.8 1210.4,662.5 1209.4,661.1 1208.6,659.8 1208.0,658.3 1207.4,656.7 1206.8,654.9 1206.5,653.1 1206.6,651.5 1207.1,650.0 1207.9,648.5 1208.9,647.1 1210.0,646.0 1211.1,645.1 1212.4,644.4 1213.6,643.8 1214.8,643.2 1215.7,642.7 1216.6,642.2 1217.4,641.7 1218.3,641.2Z"/>
<path fill="#cb8080" d="M1264.9,600.7 1264.8,601.6 1264.7,602.5 1264.7,603.3 1264.9,604.0 1265.9,604.5 1267.4,604.6 1269.2,604.6 1271.0,604.7 1273.3,604.8 1275.8,604.8 1278.3,604.9 1280.6,605.4 1282.4,606.2 1284.1,607.3 1285.7,608.4 1287.4,609.5 1289.4,610.4 1291.5,611.2 1293.6,612.0 1295.7,612.9 1297.4,613.9 1299.1,614.9 1300.8,616.0 1302.5,617.0 1304.2,618.0 1306.0,619.1 1307.7,620.1 1309.4,621.1 1310.8,622.2 1312.1,623.3 1313.5,624.4 1314.8,625.2 1316.2,626.0 1317.6,626.6 1318.9,627.1 1320.3,627.3 1321.8,627.3 1323.3,627.0 1324.7,626.6 1325.8,625.9 1326.4,625.2 1326.9,624.3 1327.2,623.4 1327.2,622.5 1326.8,621.7 1326.1,621.0 1325.3,620.4 1324.4,619.8 1323.5,619.2 1322.5,618.6 1321.4,618.2 1320.3,617.7 1319.1,617.4 1317.8,617.1 1316.7,616.8 1316.2,616.3 1316.6,615.6 1317.7,614.6 1319.1,613.7 1320.3,612.9 1321.2,612.4 1322.0,611.9 1322.8,611.5 1323.8,611.3 1325.2,611.4 1326.7,611.9 1328.3,612.5 1329.9,612.9 1331.7,613.2 1333.5,613.4 1335.2,613.5 1336.8,613.6 1337.7,613.6 1338.6,613.5 1339.4,613.4 1340.2,613.3 1339.7,615.0 1339.1,616.6 1338.6,618.2 1338.2,619.8 1337.8,620.9 1337.5,621.9 1337.4,622.9 1337.5,623.9 1338.0,624.9 1338.9,626.0 1339.9,627.0 1340.9,628.0 1339.9,628.5 1338.9,629.1 1337.9,629.6 1336.8,630.0 1335.4,630.3 1333.9,630.3 1332.5,630.4 1331.3,630.7 1330.4,631.4 1329.5,632.3 1328.8,633.2 1328.6,634.2 1328.7,635.1 1329.1,636.0 1329.8,636.9 1330.6,637.6 1331.9,638.0 1333.5,638.1 1335.2,638.1 1336.8,638.3 1338.2,638.5 1339.7,638.8 1341.0,639.1 1342.3,639.6 1343.3,640.3 1344.4,641.2 1345.2,642.1 1345.7,643.1 1345.8,643.9 1345.7,644.8 1345.4,645.7 1345.0,646.5 1344.2,647.1 1343.2,647.5 1342.1,648.0 1341.6,648.6 1341.7,649.5 1342.2,650.6 1343.0,651.7 1343.6,652.7 1344.1,653.4 1344.7,654.0 1345.2,654.5 1345.7,655.1 1343.5,655.6 1341.2,656.0 1339.0,656.4 1336.8,656.8 1334.7,657.2 1332.7,657.7 1330.6,658.1 1328.6,658.2 1326.2,657.7 1323.9,656.9 1321.4,656.1 1319.0,655.4 1316.2,655.1 1313.4,654.9 1310.6,654.9 1308.0,654.7 1305.8,654.6 1303.7,654.6 1301.7,654.5 1299.8,654.0 1297.9,653.2 1296.2,652.1 1294.5,651.0 1292.9,649.9 1291.5,649.2 1290.1,648.5 1288.8,647.9 1287.4,647.2 1286.0,646.5 1284.6,645.8 1283.3,645.1 1281.9,644.4 1280.9,643.9 1279.9,643.3 1278.9,642.7 1277.8,642.4 1276.8,642.2 1275.8,642.2 1274.7,642.2 1273.7,642.4 1272.6,642.7 1271.6,643.2 1270.6,643.8 1269.6,644.4 1268.6,645.4 1267.7,646.6 1266.9,647.7 1266.2,648.6 1265.8,648.8 1265.5,649.1 1265.2,649.2 1264.8,649.2 1264.2,649.0 1263.6,648.6 1262.9,648.0 1262.1,647.4 1260.9,646.4 1259.5,645.4 1258.0,644.3 1256.6,643.2 1255.6,642.4 1254.5,641.5 1253.5,640.7 1252.5,639.8 1252.5,637.9 1252.4,636.0 1252.4,634.1 1252.5,632.3 1252.7,630.8 1253.0,629.4 1253.4,628.1 1253.9,626.8 1254.7,625.4 1255.7,624.1 1256.8,622.9 1258.0,622.0 1259.5,621.5 1261.3,621.5 1262.9,621.3 1264.2,620.6 1264.9,618.7 1265.1,616.1 1264.9,613.1 1264.9,610.3 1264.9,607.9 1264.9,605.5 1264.9,603.1 1264.9,600.7Z"/>
<path fill="#990000" d="M1313.6,229.9 1316.6,230.0 1319.5,230.1 1322.5,230.2 1325.7,230.3 1330.4,230.5 1335.6,230.8 1340.7,231.0 1344.9,230.7 1347.0,230.3 1348.9,229.8 1350.5,229.1 1351.7,228.2 1352.2,227.3 1352.4,226.2 1352.6,225.0 1353.1,224.1 1354.2,223.3 1355.6,222.6 1357.1,222.2 1358.6,222.1 1360.3,222.7 1362.0,223.9 1363.8,225.0 1365.4,225.5 1366.8,225.0 1368.1,224.0 1369.4,222.9 1370.9,222.1 1373.1,221.6 1375.6,221.4 1378.1,221.4 1380.5,221.6 1382.7,222.2 1384.8,223.0 1386.9,223.8 1388.8,224.1 1390.1,223.9 1391.3,223.4 1392.5,222.9 1393.8,222.3 1394.0,224.5 1394.2,226.7 1394.4,228.8 1394.8,230.9 1395.4,232.9 1396.2,234.8 1397.0,236.7 1398.0,238.8 1399.4,241.8 1401.1,245.1 1403.0,248.3 1405.0,251.2 1407.0,253.7 1409.1,255.9 1411.3,257.8 1413.6,259.1 1415.7,259.3 1418.0,258.9 1420.2,258.4 1422.2,258.3 1423.5,258.5 1424.7,258.8 1425.8,259.2 1426.9,259.8 1428.1,260.9 1429.4,262.2 1430.5,263.7 1431.6,265.3 1432.6,267.1 1433.6,269.1 1434.5,271.1 1435.5,273.1 1435.2,275.6 1434.9,278.1 1434.6,280.5 1433.9,282.5 1433.1,283.7 1432.1,284.6 1431.0,285.4 1430.0,286.4 1428.9,287.7 1427.7,289.0 1426.5,290.5 1425.3,291.9 1423.9,293.5 1422.4,295.1 1420.9,296.8 1419.5,298.4 1418.0,297.7 1416.5,296.9 1415.0,296.1 1413.6,295.6 1412.4,295.4 1411.2,295.2 1410.1,295.2 1408.9,295.3 1407.7,295.6 1406.6,296.2 1405.4,296.7 1404.2,297.3 1402.9,297.7 1401.6,298.1 1400.3,298.4 1398.9,298.8 1396.5,297.2 1394.0,295.6 1391.5,294.0 1388.8,292.7 1385.1,291.5 1381.1,290.5 1377.2,289.6 1373.7,288.6 1371.4,287.7 1369.2,286.8 1367.3,285.8 1365.4,284.4 1363.5,282.4 1361.7,280.0 1360.1,277.4 1358.6,274.8 1357.3,272.5 1356.1,270.1 1354.9,267.7 1353.8,265.2 1353.4,263.3 1353.0,261.2 1352.5,259.3 1351.7,257.7 1350.6,256.6 1349.3,255.7 1347.8,255.0 1346.2,254.3 1344.6,253.6 1343.0,253.1 1341.2,252.6 1339.4,252.2 1337.0,251.9 1334.5,251.7 1332.0,251.5 1329.8,250.9 1328.2,249.9 1326.8,248.8 1325.6,247.5 1324.3,246.1 1322.9,244.2 1321.5,242.1 1320.2,239.9 1318.8,237.8 1317.5,235.8 1316.2,233.8 1314.9,231.9 1313.6,229.9Z"/>
<path fill="#990000" d="M1501.6,225.9 1502.8,225.0 1503.9,224.0 1505.2,223.1 1506.6,222.3 1508.4,221.8 1510.4,221.5 1512.5,221.4 1514.4,221.6 1516.0,222.1 1517.5,222.9 1519.0,223.9 1520.6,224.7 1522.9,225.5 1525.3,226.2 1527.8,226.9 1530.0,227.8 1531.7,228.7 1533.2,229.7 1534.7,230.8 1536.2,231.7 1537.9,232.5 1539.5,233.3 1541.1,234.1 1542.5,234.8 1543.4,235.5 1544.2,236.2 1544.9,236.8 1545.6,237.5 1544.7,238.6 1543.7,239.8 1542.7,240.9 1541.7,241.9 1540.8,242.7 1539.9,243.6 1539.0,244.3 1537.8,245.0 1535.6,245.6 1533.0,246.0 1530.5,246.5 1528.4,247.3 1527.3,248.5 1526.3,249.8 1525.7,251.3 1525.3,252.8 1525.3,254.4 1525.7,256.0 1526.2,257.6 1526.9,259.1 1527.6,260.1 1528.5,261.0 1529.3,261.9 1530.0,263.0 1530.4,264.3 1530.6,265.8 1530.6,267.3 1530.8,268.8 1529.4,269.4 1527.9,270.0 1526.5,270.7 1525.3,271.6 1524.4,273.1 1523.8,274.9 1523.1,276.7 1522.2,277.8 1521.1,278.1 1519.9,277.9 1518.7,277.7 1517.5,277.8 1516.3,278.5 1515.2,279.5 1514.1,280.6 1512.8,281.7 1511.0,283.0 1509.0,284.4 1506.9,285.6 1505.0,286.4 1503.7,286.6 1502.5,286.6 1501.2,286.5 1500.0,286.4 1499.9,283.0 1499.8,279.6 1499.7,276.3 1499.5,273.1 1499.5,270.6 1499.5,268.2 1499.4,265.9 1499.1,263.8 1498.6,262.1 1497.9,260.5 1497.2,259.0 1496.4,257.5 1495.5,255.9 1494.6,254.3 1493.6,252.7 1492.5,251.2 1491.4,249.9 1490.3,248.6 1489.1,247.4 1487.8,246.6 1486.4,246.2 1484.8,246.2 1483.2,246.3 1481.6,246.2 1479.9,245.9 1478.3,245.5 1476.6,245.1 1475.0,244.7 1475.2,244.0 1475.4,243.3 1475.7,242.6 1476.1,241.9 1477.1,240.7 1478.5,239.5 1480.1,238.4 1481.6,237.2 1483.1,236.0 1484.6,234.7 1486.1,233.6 1487.8,232.5 1489.7,231.6 1491.7,230.9 1493.7,230.2 1495.6,229.4 1497.2,228.6 1498.7,227.7 1500.1,226.8 1501.6,225.9Z"/>
<path fill="#990000" d="M1545.6,237.5 1546.8,238.3 1547.9,239.1 1549.1,239.8 1550.3,240.3 1551.7,240.4 1553.3,240.3 1554.9,239.9 1556.6,239.5 1559.1,238.9 1561.9,238.2 1564.7,237.3 1567.5,236.4 1570.2,235.4 1573.0,234.2 1575.7,233.1 1578.4,232.5 1581.2,232.6 1584.0,233.3 1586.8,233.9 1589.4,234.1 1591.4,233.5 1593.4,232.7 1595.3,231.7 1597.2,230.9 1599.2,230.3 1601.3,229.8 1603.3,229.4 1605.0,229.4 1606.0,229.7 1606.8,230.2 1607.6,230.7 1608.4,231.2 1608.2,233.1 1607.9,235.0 1607.7,236.8 1607.3,238.7 1606.7,241.1 1605.8,243.6 1605.2,246.0 1605.0,248.1 1605.3,249.5 1605.8,250.7 1606.4,251.9 1607.3,252.8 1608.9,253.6 1611.0,254.1 1613.0,254.5 1614.4,255.2 1614.8,255.7 1615.1,256.3 1615.3,257.0 1615.2,257.5 1614.3,258.0 1612.9,258.4 1611.2,258.7 1609.7,259.1 1608.4,259.5 1607.2,260.0 1606.0,260.5 1605.0,261.4 1604.1,263.3 1603.5,265.7 1602.9,268.1 1601.9,270.0 1600.6,270.9 1599.0,271.4 1597.4,271.9 1595.6,272.3 1593.3,273.0 1590.8,273.7 1588.4,274.5 1586.2,275.5 1584.8,276.5 1583.4,277.6 1582.3,278.9 1581.6,280.2 1581.3,281.3 1581.3,282.5 1581.5,283.7 1581.6,284.8 1580.8,285.1 1580.1,285.4 1579.3,285.6 1578.4,285.6 1576.1,284.8 1573.3,283.3 1570.3,281.5 1567.5,280.2 1565.5,279.4 1563.5,278.8 1561.6,278.3 1559.7,277.8 1557.7,277.3 1555.8,276.9 1553.8,276.5 1551.9,276.2 1549.9,276.2 1547.9,276.4 1546.0,276.4 1544.1,276.2 1542.1,275.7 1540.1,275.0 1538.3,274.1 1537.0,273.1 1536.7,272.4 1536.6,271.5 1536.6,270.7 1536.2,270.0 1535.2,269.5 1533.8,269.2 1532.3,269.0 1530.8,268.8 1530.6,267.3 1530.6,265.8 1530.4,264.3 1530.0,263.0 1529.3,261.9 1528.5,261.0 1527.6,260.1 1526.9,259.1 1526.2,257.6 1525.7,256.0 1525.3,254.4 1525.3,252.8 1525.7,251.3 1526.3,249.8 1527.3,248.5 1528.4,247.3 1530.5,246.5 1533.0,246.0 1535.6,245.6 1537.8,245.0 1539.0,244.3 1539.9,243.6 1540.8,242.7 1541.7,241.9 1542.7,240.9 1543.7,239.8 1544.7,238.6 1545.6,237.5Z"/>
<path fill="#990000" d="M1608.4,231.2 1610.8,231.5 1613.1,231.8 1615.4,231.9 1617.5,231.7 1619.1,231.1 1620.6,230.3 1622.1,229.3 1623.7,228.6 1626.0,228.2 1628.5,228.0 1630.9,227.8 1633.1,227.0 1635.1,225.7 1636.9,224.0 1638.4,222.0 1639.4,220.0 1639.5,217.8 1639.1,215.5 1638.4,213.1 1637.8,210.6 1637.5,207.8 1637.3,204.8 1636.9,202.0 1636.3,199.7 1635.6,198.5 1634.8,197.5 1634.0,196.6 1633.1,195.8 1632.3,195.2 1631.5,194.6 1630.7,194.1 1630.0,193.4 1629.2,192.6 1628.5,191.6 1627.9,190.6 1627.7,189.5 1627.7,188.5 1628.0,187.5 1628.5,186.5 1629.2,185.6 1630.9,184.5 1633.1,183.5 1635.6,182.7 1637.8,182.2 1639.5,182.0 1641.2,181.9 1642.7,182.1 1644.1,182.5 1644.9,183.1 1645.6,184.0 1646.3,184.9 1647.2,185.6 1648.9,186.0 1650.9,186.1 1653.0,186.1 1655.0,186.4 1656.6,187.1 1658.1,188.0 1659.6,188.9 1661.3,189.5 1663.2,189.8 1665.4,189.8 1667.4,189.8 1669.1,190.3 1670.0,191.3 1670.7,192.5 1671.3,193.9 1672.2,195.0 1673.6,195.8 1675.4,196.4 1677.1,197.0 1678.4,198.1 1679.5,200.7 1680.0,204.1 1680.3,207.6 1680.8,210.6 1681.4,212.3 1682.0,213.9 1682.6,215.4 1683.1,216.9 1683.5,218.4 1683.9,220.0 1684.0,221.6 1683.9,223.1 1683.3,225.1 1682.4,227.2 1681.3,229.0 1680.0,230.2 1678.9,230.3 1677.8,229.9 1676.6,229.5 1675.3,229.4 1673.4,230.1 1671.4,231.3 1669.4,232.7 1667.5,234.1 1665.9,235.3 1664.4,236.6 1662.8,237.8 1661.2,238.8 1659.6,239.2 1657.9,239.4 1656.3,239.7 1655.0,240.3 1654.1,241.5 1653.4,243.1 1652.9,244.9 1652.7,246.6 1652.7,248.1 1652.9,249.6 1653.3,251.2 1653.4,252.8 1653.2,254.8 1652.7,256.9 1652.4,259.0 1652.7,260.6 1653.6,261.6 1655.0,262.3 1656.4,262.9 1657.3,263.7 1657.7,264.8 1657.8,266.0 1657.6,267.3 1657.3,268.4 1656.8,269.6 1655.9,270.7 1655.0,271.9 1654.2,273.1 1653.6,274.7 1653.2,276.4 1652.7,278.0 1651.9,279.4 1650.5,280.3 1648.7,281.0 1646.9,281.6 1645.6,282.5 1645.1,283.5 1644.8,284.7 1644.6,286.0 1644.1,287.2 1642.8,288.8 1641.1,290.4 1639.4,291.9 1637.8,293.4 1636.8,294.7 1635.9,296.0 1635.0,297.2 1633.9,298.1 1632.6,298.9 1631.1,299.5 1629.7,299.8 1628.4,299.7 1627.4,299.0 1626.5,297.8 1625.7,296.3 1625.3,295.0 1625.4,293.8 1625.8,292.5 1626.2,291.3 1626.1,290.3 1625.3,289.7 1624.2,289.3 1622.8,289.0 1621.4,288.8 1619.8,288.3 1618.0,287.9 1616.2,287.6 1614.4,287.2 1612.5,286.8 1610.5,286.4 1608.5,286.0 1606.6,285.6 1604.6,285.4 1602.7,285.2 1600.8,285.1 1598.7,284.8 1596.4,284.4 1594.1,283.9 1591.7,283.4 1589.4,283.3 1587.4,283.5 1585.4,283.9 1583.5,284.4 1581.6,284.8 1581.5,283.7 1581.3,282.5 1581.3,281.3 1581.6,280.2 1582.3,278.9 1583.4,277.6 1584.8,276.5 1586.2,275.5 1588.4,274.5 1590.8,273.7 1593.3,273.0 1595.6,272.3 1597.4,271.9 1599.0,271.4 1600.6,270.9 1601.9,270.0 1602.9,268.1 1603.5,265.7 1604.1,263.3 1605.0,261.4 1606.0,260.5 1607.2,260.0 1608.4,259.5 1609.7,259.1 1611.2,258.7 1612.9,258.4 1614.3,258.0 1615.2,257.5 1615.3,257.0 1615.1,256.3 1614.8,255.7 1614.4,255.2 1613.0,254.5 1611.0,254.1 1608.9,253.6 1607.3,252.8 1606.4,251.9 1605.8,250.7 1605.3,249.5 1605.0,248.1 1605.2,246.0 1605.8,243.6 1606.7,241.1 1607.3,238.7 1607.7,236.8 1607.9,235.0 1608.2,233.1 1608.4,231.2Z"/>
<path fill="#990000" d="M1245.5,369.2 1248.5,369.4 1251.7,369.6 1254.6,369.8 1257.1,369.6 1258.3,369.2 1259.3,368.7 1260.3,368.2 1261.2,368.0 1262.2,368.0 1263.3,368.1 1264.2,368.5 1264.9,369.0 1265.4,370.7 1265.2,373.1 1265.0,375.6 1265.1,377.8 1265.4,379.2 1265.9,380.4 1266.5,381.6 1267.4,382.6 1269.0,383.8 1270.9,384.7 1273.0,385.7 1274.9,386.7 1276.5,388.0 1278.0,389.4 1279.4,390.8 1281.1,391.8 1283.2,392.5 1285.5,393.0 1287.8,393.2 1290.0,393.2 1292.1,392.8 1294.4,392.1 1296.2,391.4 1296.9,391.0 1296.5,391.0 1297.7,393.2 1298.9,395.5 1300.2,397.7 1301.7,399.8 1303.4,401.7 1305.4,403.4 1307.4,405.1 1309.2,406.6 1310.5,407.7 1311.8,408.6 1313.0,409.5 1314.0,410.7 1315.0,412.8 1315.6,415.3 1316.1,417.9 1316.8,420.3 1317.4,422.4 1318.1,424.5 1318.8,426.5 1319.5,428.6 1320.3,430.8 1321.2,433.3 1321.9,435.3 1322.2,436.1 1321.3,436.4 1320.4,436.8 1319.5,437.2 1318.7,437.8 1318.0,438.5 1317.3,439.4 1316.7,440.3 1316.0,441.0 1315.0,441.5 1313.9,441.9 1312.8,442.3 1311.7,442.6 1310.3,443.0 1308.9,443.2 1307.5,443.6 1306.3,444.2 1305.2,445.1 1304.3,446.1 1303.6,447.3 1303.1,448.5 1302.8,450.0 1302.8,451.5 1303.1,453.1 1303.6,454.4 1304.3,455.4 1305.4,456.2 1306.4,456.9 1307.4,457.7 1308.1,458.3 1308.8,459.0 1309.3,459.7 1309.5,460.4 1309.3,461.1 1308.8,461.8 1308.1,462.5 1307.4,463.1 1306.4,463.4 1305.4,463.6 1304.2,463.7 1303.1,463.6 1301.7,463.3 1300.3,462.7 1299.0,462.1 1297.7,461.4 1296.5,460.7 1295.4,459.8 1294.4,459.1 1293.4,458.7 1292.5,458.9 1291.5,459.2 1290.7,459.7 1290.1,460.4 1289.8,461.2 1289.8,462.2 1289.9,463.2 1290.1,464.1 1290.8,465.0 1291.7,465.8 1292.6,466.5 1293.4,467.4 1293.8,468.2 1294.3,469.0 1294.5,469.9 1294.4,470.6 1294.0,471.2 1293.2,471.8 1292.2,472.3 1291.2,472.7 1289.7,473.1 1287.9,473.2 1286.2,473.4 1284.8,473.8 1283.9,474.4 1283.1,475.2 1282.5,476.1 1282.1,477.0 1281.8,478.3 1281.8,479.7 1281.9,481.1 1282.1,482.4 1282.3,483.4 1282.7,484.4 1283.1,485.3 1283.1,486.2 1282.9,486.9 1282.6,487.7 1282.1,488.3 1281.5,488.9 1280.7,489.3 1279.8,489.6 1278.7,489.9 1277.8,490.2 1276.6,489.1 1275.3,487.9 1274.1,486.8 1272.9,485.7 1271.6,484.3 1270.2,482.9 1268.9,481.6 1267.5,480.3 1266.3,479.2 1265.1,478.2 1263.8,477.3 1262.6,476.3 1261.2,475.4 1259.7,474.5 1258.3,473.5 1257.1,472.4 1256.1,471.2 1255.1,469.9 1254.3,468.4 1253.7,467.0 1253.2,465.3 1252.9,463.5 1252.8,461.7 1253.0,460.1 1253.8,458.7 1254.9,457.4 1256.2,456.0 1257.1,454.6 1257.8,452.9 1258.3,451.1 1258.6,449.3 1258.5,447.8 1258.0,446.5 1257.1,445.4 1256.1,444.5 1255.1,443.6 1254.0,443.0 1252.8,442.6 1251.5,442.3 1250.3,441.9 1250.4,439.5 1250.6,437.2 1250.7,434.9 1250.3,432.7 1249.1,430.5 1247.4,428.3 1245.4,426.3 1243.4,424.4 1241.2,422.6 1238.7,420.8 1236.2,419.2 1233.8,417.6 1231.5,416.2 1229.2,415.0 1227.1,413.7 1225.6,412.1 1225.0,410.4 1224.9,408.5 1224.9,406.5 1224.9,404.6 1225.3,392.9 1226.0,391.2 1226.6,389.5 1227.3,387.8 1228.3,386.1 1230.0,383.9 1232.2,381.8 1234.4,379.8 1236.6,377.8 1238.4,376.1 1240.3,374.5 1242.0,373.0 1243.4,371.7 1244.0,371.0 1244.5,370.4 1245.0,369.8 1245.5,369.2Z"/>
<path fill="#990000" d="M1322.2,435.9 1323.9,436.7 1325.6,437.4 1327.3,438.1 1328.9,438.8 1330.3,439.5 1331.7,440.1 1333.0,440.8 1334.3,441.5 1335.4,442.3 1336.6,443.0 1337.7,443.8 1338.6,444.8 1339.2,445.7 1339.7,446.8 1340.1,447.9 1340.7,449.1 1341.7,450.4 1342.8,451.7 1343.9,453.1 1345.0,454.4 1346.1,455.8 1347.2,457.1 1348.3,458.5 1349.3,459.8 1350.4,461.2 1351.5,462.5 1352.6,463.8 1353.6,465.2 1354.5,466.5 1355.3,467.9 1356.1,469.2 1356.9,470.6 1357.7,471.9 1358.5,473.3 1359.3,474.7 1360.1,476.0 1360.8,477.1 1361.4,478.2 1361.9,479.2 1362.2,480.3 1362.3,481.1 1362.2,482.0 1362.0,482.8 1361.7,483.5 1361.2,484.3 1360.6,485.0 1359.8,485.7 1359.0,486.2 1358.0,486.6 1356.9,487.0 1355.8,487.2 1354.7,487.3 1353.7,487.3 1352.7,487.2 1351.7,487.1 1350.9,486.7 1350.5,486.2 1350.1,485.5 1349.8,484.9 1349.3,484.6 1348.6,484.7 1347.8,485.1 1346.9,485.7 1346.1,486.2 1345.3,486.7 1344.5,487.3 1343.7,487.8 1342.9,488.3 1341.8,488.9 1340.7,489.5 1339.6,490.0 1338.6,490.5 1337.7,490.9 1336.8,491.3 1335.9,491.6 1335.3,491.6 1334.9,490.9 1334.8,490.4 1334.8,490.0 1335.0,489.2 1335.3,488.3 1335.8,487.4 1336.4,486.7 1337.2,486.2 1338.2,485.8 1339.1,485.6 1339.6,485.7 1339.6,486.0 1339.4,486.4 1339.1,486.9 1339.1,487.3 1340.0,487.3 1341.7,487.0 1343.6,486.3 1345.0,485.7 1345.7,485.2 1346.2,484.6 1346.7,484.0 1347.2,483.5 1347.8,483.1 1348.4,482.8 1349.0,482.4 1349.3,481.9 1349.4,481.1 1349.1,480.1 1348.7,479.1 1348.3,478.1 1347.8,477.0 1347.3,476.0 1346.7,474.9 1346.1,473.8 1345.4,472.7 1344.6,471.6 1343.8,470.5 1342.9,469.5 1341.9,468.6 1340.9,467.7 1339.7,466.9 1338.6,466.3 1337.2,465.9 1335.8,465.7 1334.4,465.5 1333.2,465.2 1332.4,464.9 1331.8,464.5 1331.2,464.0 1330.5,463.6 1329.6,463.0 1328.7,462.4 1327.7,461.8 1326.7,461.4 1325.9,461.2 1325.0,461.1 1324.2,461.2 1323.5,461.4 1323.1,462.1 1322.9,463.2 1322.7,464.3 1322.4,465.2 1322.1,465.8 1321.7,466.4 1321.3,466.9 1320.8,467.4 1320.0,467.8 1319.0,468.2 1318.0,468.5 1317.0,469.0 1316.0,469.6 1315.0,470.2 1314.1,470.9 1313.3,471.7 1312.7,472.4 1312.1,473.2 1311.7,474.0 1311.4,474.9 1311.3,475.8 1311.3,476.8 1311.4,477.7 1311.7,478.7 1312.0,479.6 1312.5,480.5 1313.2,481.3 1313.8,481.9 1314.5,482.2 1315.2,482.4 1315.9,482.5 1316.5,482.4 1317.0,482.2 1317.4,481.8 1317.7,481.5 1318.1,481.3 1318.7,481.8 1319.2,482.6 1319.8,483.6 1320.3,484.6 1320.8,485.7 1321.3,486.9 1321.8,488.0 1322.4,488.9 1322.9,489.2 1323.5,489.4 1324.1,489.6 1324.6,490.0 1325.1,490.6 1325.5,491.4 1325.9,492.3 1326.2,493.2 1326.5,494.0 1326.9,494.8 1327.1,495.6 1327.3,496.4 1327.3,497.3 1327.2,498.1 1327.0,498.9 1326.7,499.6 1326.3,500.2 1325.7,500.6 1325.3,501.0 1325.6,501.2 1326.6,500.9 1327.8,500.5 1328.9,500.2 1330.0,499.9 1331.1,499.5 1332.2,499.3 1333.2,499.1 1334.0,499.1 1334.9,499.1 1335.6,499.2 1335.9,499.4 1335.7,499.9 1334.9,500.5 1334.0,501.2 1333.2,501.8 1332.4,502.3 1331.5,502.8 1330.6,503.3 1330.0,504.0 1329.6,504.7 1329.3,505.6 1329.1,506.4 1328.9,507.2 1328.7,507.7 1328.5,508.1 1328.2,508.5 1327.8,508.8 1326.9,509.0 1325.7,509.0 1324.4,509.1 1323.5,509.3 1323.0,509.8 1322.7,510.4 1322.5,511.1 1322.2,511.7 1321.2,511.0 1320.2,510.2 1319.2,509.5 1318.1,508.8 1316.9,508.1 1315.6,507.4 1314.2,506.7 1312.7,506.1 1311.0,505.5 1309.1,504.9 1307.2,504.4 1305.2,504.0 1303.1,503.5 1300.9,503.1 1298.7,502.8 1296.6,502.3 1294.7,501.9 1292.7,501.3 1290.9,500.8 1289.1,500.2 1287.4,499.6 1285.7,498.9 1284.1,498.3 1282.6,497.5 1281.3,496.8 1280.1,496.0 1279.1,495.2 1278.3,494.3 1278.0,493.3 1277.8,492.3 1277.8,491.2 1277.8,490.2 1278.7,489.9 1279.8,489.6 1280.7,489.3 1281.5,488.9 1282.1,488.3 1282.6,487.7 1282.9,486.9 1283.1,486.2 1283.1,485.3 1282.7,484.4 1282.3,483.4 1282.1,482.4 1281.9,481.1 1281.8,479.7 1281.8,478.3 1282.1,477.0 1282.5,476.1 1283.1,475.2 1283.9,474.4 1284.8,473.8 1286.2,473.4 1287.9,473.2 1289.7,473.1 1291.2,472.7 1292.2,472.3 1293.2,471.8 1294.0,471.2 1294.4,470.6 1294.5,469.9 1294.3,469.0 1293.8,468.2 1293.4,467.4 1292.6,466.5 1291.7,465.8 1290.8,465.0 1290.1,464.1 1289.9,463.2 1289.8,462.2 1289.8,461.2 1290.1,460.4 1290.7,459.7 1291.5,459.2 1292.5,458.9 1293.4,458.7 1294.4,459.1 1295.4,459.8 1296.5,460.7 1297.7,461.4 1299.0,462.1 1300.3,462.7 1301.7,463.3 1303.1,463.6 1304.2,463.7 1305.4,463.6 1306.4,463.4 1307.4,463.1 1308.1,462.5 1308.8,461.8 1309.3,461.1 1309.5,460.4 1309.3,459.7 1308.8,459.0 1308.1,458.3 1307.4,457.7 1306.4,456.9 1305.4,456.2 1304.3,455.4 1303.6,454.4 1303.1,453.1 1302.8,451.5 1302.8,450.0 1303.1,448.5 1303.6,447.3 1304.3,446.1 1305.2,445.1 1306.3,444.2 1307.5,443.6 1308.9,443.2 1310.3,443.0 1311.7,442.6 1312.8,442.3 1313.9,441.9 1315.0,441.5 1316.0,441.0 1316.7,440.3 1317.3,439.4 1318.0,438.5 1318.7,437.8 1319.5,437.2 1320.4,436.8 1321.3,436.4 1322.2,435.9Z"/>
<path fill="#990000" d="M1170.9,595.2 1171.0,595.3 1171.0,595.3 1171.0,595.3 1171.1,595.4 1171.2,595.9 1171.5,596.7 1171.8,597.5 1172.3,598.0 1173.0,598.1 1173.9,597.8 1174.8,597.5 1175.7,597.3 1176.8,597.2 1177.8,597.1 1178.8,597.2 1179.9,597.3 1180.9,597.7 1181.9,598.2 1182.9,598.8 1184.0,599.4 1185.3,600.1 1186.6,600.9 1188.0,601.6 1189.5,602.1 1190.8,602.3 1192.2,602.3 1193.6,602.1 1194.9,601.8 1196.2,601.4 1197.4,600.9 1198.6,600.2 1199.7,599.4 1200.9,598.3 1202.0,597.1 1202.9,595.9 1203.9,594.6 1204.6,593.2 1205.2,591.8 1205.9,590.4 1206.6,589.1 1207.3,588.0 1208.1,586.9 1209.0,585.9 1210.0,585.0 1211.5,583.9 1213.2,582.8 1215.1,582.0 1216.9,581.5 1218.6,581.6 1220.3,582.0 1222.1,582.6 1223.7,582.9 1225.2,582.9 1226.6,582.8 1228.0,582.7 1229.2,582.9 1230.3,583.5 1231.4,584.4 1232.3,585.4 1233.3,586.3 1234.3,587.2 1235.3,588.2 1236.3,589.1 1237.4,589.8 1238.8,590.2 1240.3,590.4 1241.7,590.7 1242.9,591.1 1243.7,591.9 1244.3,592.8 1244.9,593.7 1245.7,594.6 1246.9,595.3 1248.3,596.0 1249.8,596.6 1251.2,597.3 1252.2,598.0 1253.1,598.8 1254.1,599.5 1255.3,600.0 1257.7,600.5 1260.7,600.6 1263.3,600.6 1264.7,600.7 1264.8,600.8 1264.8,600.8 1264.8,600.8 1264.9,600.9 1265.0,602.2 1265.0,604.6 1265.0,607.6 1264.9,610.3 1264.9,613.1 1265.1,616.0 1264.9,618.7 1264.2,620.6 1262.9,621.3 1261.3,621.5 1259.5,621.5 1258.0,622.0 1256.8,622.9 1255.7,624.1 1254.7,625.4 1253.9,626.8 1253.4,628.1 1253.0,629.4 1252.7,630.8 1252.5,632.3 1252.6,634.2 1252.9,636.4 1253.0,638.3 1252.5,639.8 1251.5,640.4 1250.1,640.7 1248.5,640.8 1247.0,641.2 1245.7,642.1 1244.5,643.3 1243.2,644.5 1241.6,645.3 1238.0,645.8 1233.5,645.8 1228.9,645.3 1225.1,644.6 1223.0,644.0 1221.2,643.3 1219.5,642.4 1218.3,641.2 1217.4,639.6 1216.9,637.6 1216.6,635.5 1216.2,633.6 1215.9,632.1 1215.7,630.6 1215.4,629.2 1214.8,628.2 1214.0,627.5 1212.9,627.1 1211.8,626.8 1210.7,626.8 1209.7,627.0 1208.6,627.5 1207.6,628.1 1206.6,628.8 1205.4,630.0 1204.2,631.5 1203.0,633.0 1201.8,634.3 1200.8,635.2 1199.8,636.1 1198.8,636.7 1197.7,637.1 1196.4,637.0 1195.0,636.5 1193.6,635.7 1192.2,635.0 1190.5,634.1 1188.8,633.1 1187.0,631.9 1185.3,630.9 1183.8,630.1 1182.2,629.4 1180.8,628.6 1179.9,627.5 1179.8,625.8 1180.4,623.8 1181.1,621.8 1181.2,619.9 1180.6,618.4 1179.6,617.0 1178.4,615.7 1177.1,614.4 1175.8,613.2 1174.4,612.1 1173.0,611.1 1171.6,610.3 1170.5,609.9 1169.3,609.6 1168.2,609.4 1167.8,609.2 1167.8,609.2 1167.8,609.2 1167.8,609.1 1167.9,609.1 1168.2,608.3 1168.6,606.9 1169.1,605.2 1169.6,603.5 1170.0,601.2 1170.4,598.5 1170.7,596.2Z"/>
<path fill="#9ecae1" d="M1385.4,903.0 1388.3,900.1 1389.1,908.1 1393.5,912.5 1397.9,911.1 1400.1,908.1 1399.3,899.3 1398.6,894.2 1401.5,891.3 1404.0,894.2 1404.5,902.3 1405.9,907.4 1412.5,909.6 1421.3,909.9 1431.6,909.6 1434.5,904.5 1436.7,901.5 1441.9,901.1 1445.5,904.5 1444.8,908.9 1440.4,911.8 1436.0,913.3 1438.9,915.5 1444.8,917.7 1449.9,916.2 1451.4,920.6 1452.1,927.2 1457.1,930.1 1456.3,938.9 1458.0,944.8 1457.6,949.9 1452.1,950.4 1446.3,949.2 1438.9,948.5 1431.6,949.2 1425.7,946.3 1419.9,944.1 1412.5,943.3 1403.7,943.1 1394.9,943.3 1387.6,944.1 1383.2,940.4 1379.5,936.0 1381.7,930.1 1382.5,924.3 1383.9,916.9 1384.7,909.6Z"/>
<path fill="#9ecae1" d="M1457.1,930.1 1465.3,929.4 1475.6,927.9 1485.9,926.5 1490.3,922.1 1496.2,921.3 1506.4,922.1 1514.5,923.1 1515.2,931.6 1514.5,937.5 1517.4,941.9 1518.2,946.3 1514.5,949.2 1506.4,947.7 1502.8,949.9 1501.3,955.8 1497.9,960.7 1491.8,959.5 1484.4,959.5 1480.0,956.5 1475.6,953.6 1469.8,951.4 1463.9,949.2 1457.6,949.9 1458.0,944.8 1456.3,938.9Z"/>
<path fill="#9ecae1" d="M1578.3,933.8 1582.7,932.3 1590.0,931.6 1598.1,932.3 1596.6,936.0 1597.4,940.4 1594.4,943.3 1593.7,949.2 1595.2,953.6 1598.8,957.3 1603.2,958.0 1607.6,954.3 1612.0,951.4 1617.9,949.9 1622.3,946.3 1628.2,944.8 1634.0,946.3 1639.9,944.8 1643.6,940.4 1645.8,938.9 1648.7,936.7 1651.6,934.5 1650.9,937.5 1648.0,941.9 1648.7,946.3 1650.9,949.9 1648.7,955.1 1648.0,960.9 1642.8,966.8 1637.0,970.5 1632.6,972.0 1629.6,968.3 1622.3,966.8 1613.5,967.6 1606.2,969.8 1601.8,971.2 1595.9,969.8 1588.6,968.3 1579.8,969.8 1575.4,964.6 1571.0,959.5 1567.3,954.3 1569.5,949.9 1573.9,946.3 1576.8,940.4Z"/>
<path fill="#cb8080" d="M1514.5,923.1 1521.1,921.6 1524.0,923.1 1528.4,924.3 1529.2,928.7 1532.8,930.9 1546.0,931.3 1560.7,931.6 1565.1,934.5 1569.5,936.7 1575.4,934.5 1578.3,933.8 1576.8,940.4 1573.9,946.3 1569.5,949.9 1567.3,954.3 1571.0,959.5 1575.4,964.6 1579.8,969.8 1572.4,971.2 1563.6,971.2 1556.3,972.7 1549.0,974.9 1540.2,976.4 1531.4,977.8 1522.6,978.3 1513.8,978.6 1506.4,978.6 1499.1,978.8 1499.8,972.7 1499.1,966.8 1497.9,960.7 1501.3,955.8 1502.8,949.9 1506.4,947.7 1514.5,949.2 1518.2,946.3 1517.4,941.9 1514.5,937.5 1515.2,931.6Z"/>
</g>
<g stroke="none">
<path fill="#990000" d="M1568.3,330.9 1568.7,330.1 1569.7,329.4 1570.9,328.7 1572.2,328.1 1573.9,327.6 1575.9,327.2 1578.0,327.0 1580.0,327.0 1582.0,327.3 1584.1,327.8 1586.1,328.5 1587.8,329.4 1589.1,330.2 1590.3,331.2 1591.2,332.2 1591.7,333.3 1591.7,334.3 1591.4,335.3 1590.9,336.4 1590.2,337.2 1588.8,338.0 1586.9,338.4 1585.0,338.8 1583.1,339.1 1581.7,339.4 1580.3,339.6 1578.9,339.7 1577.7,339.5 1576.4,338.9 1575.2,337.9 1574.1,336.7 1573.0,335.6 1571.5,334.5 1570.0,333.2 1568.7,332.0Z"/>
<path fill="#9ecae1" d="M1478.1,305.2 1478.8,303.8 1479.6,302.3 1480.6,300.8 1481.6,299.4 1482.7,298.1 1483.8,296.8 1485.1,295.6 1486.3,294.7 1487.1,294.1 1488.0,293.7 1488.9,293.4 1489.8,293.3 1490.9,293.5 1492.1,294.0 1493.3,294.7 1494.5,295.3 1495.7,295.7 1496.9,296.1 1498.1,296.5 1499.1,297.0 1500.1,297.7 1501.0,298.4 1501.7,299.1 1502.1,300.0 1501.9,300.9 1501.3,301.9 1500.6,303.0 1500.3,304.1 1500.6,305.2 1501.2,306.4 1501.8,307.6 1502.1,308.8 1502.1,310.0 1501.9,311.3 1501.5,312.5 1500.9,313.4 1500.1,314.1 1499.0,314.4 1497.9,314.8 1496.8,315.2 1495.9,315.8 1495.0,316.4 1494.2,317.0 1493.3,317.5 1492.4,318.0 1491.5,318.4 1490.7,318.6 1489.8,318.7 1488.9,318.5 1488.0,318.1 1487.1,317.5 1486.3,317.0 1485.4,316.3 1484.5,315.5 1483.7,314.7 1482.7,314.0 1481.6,313.5 1480.3,313.2 1479.1,312.8 1478.1,312.3 1477.4,311.8 1476.9,311.2 1476.5,310.6 1476.3,309.9 1476.4,308.9 1476.8,307.7 1477.4,306.5Z"/>
<path fill="#9ecae1" d="M1439.4,348.6 1439.7,347.5 1440.5,346.4 1441.5,345.5 1442.3,345.1 1442.8,345.1 1443.2,345.4 1443.7,345.8 1444.1,346.3 1444.4,347.0 1444.6,347.9 1444.8,348.9 1445.2,349.8 1446.2,350.7 1447.4,351.5 1448.7,352.4 1449.9,353.3 1451.1,354.4 1452.4,355.5 1453.5,356.8 1454.6,358.0 1455.5,359.2 1456.3,360.4 1457.2,361.6 1458.1,362.7 1459.3,363.4 1460.5,363.9 1461.8,364.4 1462.8,365.0 1463.6,365.7 1464.4,366.4 1464.9,367.2 1465.2,367.9 1465.0,368.7 1464.4,369.5 1463.7,370.3 1462.8,370.9 1461.5,371.5 1459.9,372.0 1458.3,372.2 1457.0,372.0 1456.2,371.4 1455.7,370.5 1455.2,369.5 1454.6,368.5 1453.8,367.6 1452.9,366.7 1452.0,365.9 1451.1,365.0 1450.2,364.1 1449.3,363.3 1448.4,362.4 1447.6,361.5 1446.9,360.4 1446.4,359.2 1445.9,357.9 1445.2,356.8 1444.6,355.9 1443.8,355.0 1443.0,354.2 1442.3,353.3 1441.4,352.2 1440.4,350.9 1439.7,349.7Z"/>
<path fill="#990000" d="M1367.1,485.1 1367.6,484.6 1369.0,484.0 1370.7,483.2 1371.9,482.4 1372.5,481.7 1373.0,480.9 1373.5,480.2 1374.1,479.7 1374.9,479.5 1375.7,479.4 1376.6,479.5 1377.3,479.7 1377.9,480.2 1378.4,480.9 1378.7,481.7 1378.9,482.4 1379.0,483.0 1378.9,483.6 1378.7,484.2 1378.4,484.6 1377.8,484.7 1377.1,484.6 1376.3,484.5 1375.7,484.6 1375.2,485.1 1374.9,486.0 1374.5,486.8 1374.1,487.3 1373.6,487.3 1373.1,487.2 1372.5,487.0 1371.9,486.7 1371.4,486.5 1370.9,486.2 1370.3,485.9 1369.8,485.7 1369.0,485.5 1368.1,485.4 1367.4,485.3Z"/>
<path fill="#990000" d="M1387.0,479.2 1387.6,479.3 1388.8,479.8 1390.1,480.6 1391.3,481.3 1392.4,482.1 1393.5,483.0 1394.5,483.8 1395.6,484.6 1396.7,485.2 1397.8,485.7 1398.9,486.2 1399.9,486.7 1400.8,487.2 1401.6,487.6 1402.4,488.0 1403.1,488.3 1403.9,488.6 1404.8,488.8 1405.5,489.1 1405.8,489.4 1405.8,490.0 1405.4,490.7 1404.8,491.4 1404.2,492.1 1403.7,492.7 1403.2,493.4 1402.7,493.9 1402.1,494.3 1401.3,494.5 1400.5,494.5 1399.7,494.4 1398.8,494.3 1398.0,494.0 1397.2,493.5 1396.4,493.1 1395.6,492.7 1395.0,492.4 1394.4,492.2 1393.8,491.9 1393.5,491.6 1393.3,491.0 1393.4,490.3 1393.5,489.6 1393.5,488.9 1393.1,488.1 1392.6,487.3 1391.9,486.5 1391.3,485.7 1390.6,484.8 1389.9,484.0 1389.2,483.2 1388.6,482.4 1388.0,481.5 1387.4,480.5 1387.0,479.7Z"/>
<path fill="#990000" d="M1410.1,486.2 1410.7,485.6 1411.8,484.9 1413.0,484.3 1413.9,483.5 1414.3,482.8 1414.5,481.9 1414.7,481.1 1415.0,480.3 1415.5,479.5 1416.0,478.7 1416.6,477.9 1417.1,477.0 1417.7,476.1 1418.2,475.2 1418.7,474.2 1419.3,473.3 1419.8,472.3 1420.3,471.3 1420.8,470.5 1421.4,470.0 1422.2,470.1 1423.0,470.5 1423.7,471.1 1424.1,471.7 1424.2,472.1 1424.1,472.7 1423.9,473.2 1423.6,473.8 1423.1,474.6 1422.3,475.4 1421.6,476.2 1420.9,477.0 1420.5,478.1 1420.1,479.2 1419.8,480.4 1419.3,481.3 1418.6,482.1 1417.8,482.8 1416.9,483.4 1416.1,484.0 1415.2,484.7 1414.4,485.5 1413.6,486.2 1412.8,486.7 1412.4,487.1 1412.0,487.5 1411.6,487.7 1411.2,487.8 1410.8,487.6 1410.5,487.2 1410.2,486.7Z"/>
<path fill="#990000" d="M1421.4,480.8 1421.7,479.7 1422.3,478.5 1423.0,477.5 1423.6,477.0 1424.0,477.2 1424.5,477.6 1424.9,478.1 1425.2,478.7 1425.3,479.5 1425.3,480.6 1425.0,481.6 1424.7,482.4 1424.2,482.9 1423.6,483.3 1423.0,483.5 1422.5,483.5 1422.1,483.1 1421.7,482.4 1421.5,481.6Z"/>
<path fill="#990000" d="M1431.1,463.1 1431.5,462.3 1432.0,461.6 1432.7,461.1 1433.3,460.9 1433.9,461.2 1434.5,461.9 1435.1,462.7 1435.4,463.6 1435.6,464.5 1435.5,465.6 1435.3,466.6 1434.9,467.4 1434.4,467.7 1433.9,467.9 1433.3,468.0 1432.7,467.9 1432.1,467.1 1431.5,465.8 1431.1,464.3Z"/>
<path fill="#990000" d="M1440.8,459.3 1440.8,458.4 1441.2,456.9 1441.8,455.4 1442.4,454.4 1442.8,454.3 1443.3,454.2 1443.8,454.3 1444.0,454.4 1444.2,455.2 1443.9,456.5 1443.5,457.8 1443.0,458.7 1442.5,459.1 1441.8,459.3 1441.2,459.4Z"/>
<path fill="#990000" d="M1457.5,460.4 1457.7,460.2 1458.1,460.2 1458.4,460.2 1458.6,460.4 1458.8,461.1 1458.8,462.2 1458.7,463.4 1458.4,464.1 1458.1,464.3 1457.8,464.3 1457.5,464.3 1457.3,464.1 1457.1,463.4 1457.1,462.2 1457.2,461.1Z"/>
<path fill="#990000" d="M1436.5,491.6 1436.8,491.5 1437.3,491.6 1437.8,491.8 1438.1,492.1 1438.5,492.8 1438.7,493.8 1438.8,494.7 1438.7,495.3 1438.4,495.5 1438.1,495.5 1437.7,495.5 1437.4,495.3 1436.9,494.6 1436.6,493.4 1436.4,492.2Z"/>
<path fill="#cb8080" d="M1313.0,521.8 1313.4,521.0 1314.5,520.1 1315.9,519.2 1317.4,518.4 1319.1,517.7 1321.0,517.2 1322.9,516.8 1324.7,516.7 1325.9,516.9 1327.1,517.4 1328.1,517.8 1329.1,517.8 1329.9,517.3 1330.6,516.5 1331.2,515.5 1332.0,514.5 1333.3,513.1 1334.8,511.5 1336.3,510.0 1337.9,508.6 1339.5,507.5 1341.1,506.6 1342.8,505.8 1344.5,504.9 1346.1,504.2 1347.8,503.4 1349.5,502.7 1351.1,502.0 1352.6,501.1 1354.1,500.2 1355.6,499.4 1357.0,499.1 1358.1,499.3 1359.2,499.8 1360.3,500.5 1361.4,501.3 1362.5,502.4 1363.6,503.8 1364.6,505.2 1365.8,506.4 1366.9,507.2 1368.2,507.8 1369.3,508.5 1370.2,509.3 1370.5,510.6 1370.6,512.2 1370.5,513.8 1370.9,515.2 1371.9,516.6 1373.2,517.8 1374.6,519.0 1376.0,520.3 1377.5,522.0 1378.9,523.7 1380.4,525.4 1381.9,526.9 1383.3,528.2 1384.7,529.5 1386.1,530.6 1387.8,531.3 1389.9,531.6 1392.2,531.3 1394.5,531.0 1396.6,531.3 1398.2,532.4 1399.5,534.0 1400.9,535.7 1402.4,537.2 1404.4,538.5 1406.6,539.8 1408.8,540.8 1411.2,541.6 1414.0,542.1 1417.0,542.3 1420.0,542.4 1423.0,542.3 1425.6,542.2 1428.3,541.8 1430.8,541.5 1433.2,541.6 1435.4,542.0 1437.7,542.7 1439.6,543.5 1440.6,544.5 1440.4,545.5 1439.6,546.6 1438.7,547.8 1438.4,548.9 1439.0,550.4 1440.4,551.9 1442.0,553.4 1443.5,554.8 1444.8,556.0 1446.2,557.0 1447.4,558.1 1447.9,559.2 1447.6,560.3 1446.6,561.3 1445.6,562.4 1445.0,563.6 1444.9,565.3 1445.3,567.2 1445.9,569.1 1446.4,570.9 1447.1,572.8 1447.8,574.6 1448.6,576.5 1449.4,578.3 1450.1,580.1 1450.8,582.0 1451.6,583.8 1452.3,585.6 1453.0,587.5 1453.8,589.3 1454.5,591.2 1455.2,593.0 1455.9,594.5 1456.5,596.1 1457.2,597.5 1458.2,598.8 1459.4,599.9 1460.9,600.9 1462.4,601.7 1464.0,602.5 1465.8,603.2 1467.6,603.9 1469.5,604.4 1471.4,604.7 1473.2,604.7 1475.2,604.5 1477.0,604.2 1478.7,604.0 1480.0,603.6 1481.2,603.2 1482.3,603.0 1483.1,603.2 1483.6,604.4 1483.6,606.3 1483.3,608.5 1483.1,610.6 1483.1,612.5 1483.1,614.5 1482.9,616.3 1482.4,617.9 1481.7,618.8 1480.7,619.5 1479.7,620.1 1478.7,620.8 1477.7,622.0 1476.6,623.4 1475.5,624.6 1474.3,625.2 1472.9,625.0 1471.4,624.2 1469.9,623.4 1468.4,623.0 1467.3,623.4 1466.1,624.3 1465.0,625.0 1464.0,625.2 1463.2,624.6 1462.5,623.5 1461.9,622.1 1461.1,620.8 1460.1,619.4 1459.0,617.9 1457.9,616.4 1456.7,615.0 1455.6,613.8 1454.6,612.6 1453.4,611.5 1452.3,610.6 1451.2,609.8 1449.9,609.2 1448.8,608.5 1447.9,607.6 1447.4,606.3 1447.1,604.8 1446.9,603.3 1446.4,601.8 1445.5,600.3 1444.2,598.8 1443.0,597.4 1442.0,595.9 1441.6,594.5 1441.3,593.0 1441.1,591.5 1440.6,590.0 1439.3,588.2 1437.6,586.3 1436.0,584.4 1434.7,582.7 1434.2,581.5 1434.0,580.4 1433.7,579.3 1433.2,578.3 1432.4,577.1 1431.4,575.8 1430.3,574.7 1428.8,573.9 1426.4,573.2 1423.4,573.0 1420.2,573.1 1417.1,573.1 1414.1,573.3 1411.1,573.6 1408.2,573.8 1405.4,573.9 1403.0,573.7 1400.7,573.5 1398.6,573.1 1396.6,572.4 1394.9,571.5 1393.3,570.5 1391.9,569.2 1390.7,568.0 1389.7,567.0 1388.8,565.9 1388.1,564.8 1387.8,563.6 1387.9,562.5 1388.5,561.4 1389.1,560.3 1389.2,559.2 1388.9,558.1 1388.2,556.9 1387.3,555.8 1386.3,554.8 1385.0,554.0 1383.5,553.3 1381.9,552.7 1380.4,551.9 1379.2,550.9 1378.1,549.8 1377.1,548.6 1376.0,547.5 1374.9,546.4 1373.8,545.3 1372.7,544.2 1371.6,543.1 1370.6,542.0 1369.5,540.9 1368.4,539.8 1367.2,538.7 1365.9,537.6 1364.4,536.5 1362.9,535.4 1361.4,534.3 1359.6,532.8 1357.8,531.3 1355.9,529.8 1354.0,528.4 1352.2,527.2 1350.4,526.0 1348.6,525.0 1346.7,524.0 1344.9,523.2 1343.1,522.4 1341.2,521.7 1339.4,521.1 1337.5,520.5 1335.6,520.0 1333.7,519.7 1332.0,519.6 1330.9,519.8 1329.8,520.2 1328.7,520.7 1327.6,521.1 1326.2,521.5 1324.7,521.9 1323.2,522.2 1321.8,522.5 1320.2,522.8 1318.7,523.1 1317.2,523.3 1315.9,523.3 1314.9,523.1 1314.0,522.7 1313.3,522.3Z"/>
<path fill="#9ecae1" d="M1001.8,415.5 1002.2,414.4 1003.0,413.2 1004.0,412.2 1005.2,411.3 1007.3,410.7 1009.8,410.5 1012.4,410.3 1014.8,410.0 1016.7,409.3 1018.4,408.6 1020.0,407.9 1021.7,407.6 1023.5,408.0 1025.4,408.7 1027.1,409.7 1028.6,410.7 1029.5,411.5 1030.4,412.3 1031.1,413.2 1031.3,414.1 1031.0,415.0 1030.4,415.9 1029.5,416.7 1028.6,417.5 1027.3,418.3 1025.8,418.9 1024.3,419.5 1023.1,420.3 1022.1,421.0 1021.3,421.9 1020.6,422.8 1020.3,423.7 1020.6,424.6 1021.3,425.5 1022.2,426.3 1023.1,427.1 1024.1,427.9 1025.2,428.5 1026.3,429.2 1027.2,429.9 1027.9,430.5 1028.5,431.2 1029.0,431.8 1029.2,432.6 1029.1,433.5 1028.7,434.5 1028.2,435.6 1027.9,436.7 1027.8,438.1 1027.9,439.5 1028.1,441.0 1028.6,442.2 1029.1,443.0 1029.7,443.7 1030.5,444.4 1031.3,445.1 1032.5,446.1 1033.9,447.2 1035.4,448.2 1036.8,449.2 1038.2,450.1 1039.6,450.9 1041.0,451.7 1042.3,452.6 1043.4,453.6 1044.6,454.7 1045.6,455.7 1046.4,456.7 1046.9,457.5 1047.4,458.3 1047.7,459.0 1047.8,459.5 1047.4,459.6 1046.7,459.4 1045.9,459.1 1045.0,458.8 1043.3,458.2 1041.2,457.3 1038.9,456.4 1036.8,455.4 1034.6,454.3 1032.4,453.2 1030.4,451.9 1028.6,450.6 1027.3,449.3 1026.3,447.9 1025.3,446.4 1024.4,445.1 1023.7,444.0 1023.0,442.9 1022.4,441.9 1021.7,440.8 1021.1,439.8 1020.4,438.7 1019.8,437.7 1019.0,436.7 1017.8,435.7 1016.4,434.7 1014.9,433.7 1013.5,432.6 1012.0,431.3 1010.4,430.0 1009.1,428.6 1008.0,427.1 1007.5,425.7 1007.3,424.3 1007.1,422.8 1006.6,421.6 1005.9,420.8 1004.9,420.2 1004.0,419.6 1003.2,418.9 1002.6,418.1 1002.2,417.2 1001.9,416.3Z"/>
<path fill="#9ecae1" d="M976.5,402.4 976.9,402.0 977.6,401.6 978.5,401.3 979.2,401.3 979.7,401.6 980.1,402.1 980.5,402.6 980.6,403.1 980.2,403.7 979.4,404.3 978.5,404.8 977.8,404.9 977.3,404.5 976.8,403.8 976.5,403.0Z"/>
<path fill="#9ecae1" d="M994.6,399.0 994.9,398.8 995.4,398.6 995.9,398.5 996.3,398.6 996.6,398.9 996.8,399.4 996.8,400.0 996.7,400.4 996.5,400.6 996.0,400.8 995.5,400.9 995.1,400.8 994.8,400.5 994.6,400.0 994.5,399.4Z"/>
<path fill="#9ecae1" d="M1038.2,421.6 1039.6,421.7 1042.2,422.5 1045.1,423.6 1047.8,424.6 1050.2,425.5 1052.8,426.5 1054.9,427.4 1056.0,428.2 1056.0,428.5 1056.0,428.7 1055.9,428.9 1055.7,429.0 1054.4,428.9 1052.2,428.0 1049.6,426.8 1047.2,425.7 1044.5,424.9 1041.6,424.0 1039.1,423.2 1037.9,422.5 1037.8,422.2 1037.9,422.0 1038.0,421.8Z"/>
<path fill="#9ecae1" d="M1048.4,476.6 1048.8,476.2 1049.6,476.0 1050.4,475.8 1051.2,475.9 1052.3,476.8 1053.5,478.3 1054.5,480.0 1055.3,481.4 1055.6,482.0 1055.9,482.6 1056.0,483.2 1056.0,483.5 1055.6,483.6 1054.8,483.4 1054.0,483.2 1053.2,482.8 1052.3,482.1 1051.4,481.3 1050.5,480.3 1049.8,479.4 1049.3,478.6 1048.8,477.9 1048.5,477.2Z"/>
<path fill="#9ecae1" d="M1058.0,486.2 1058.5,486.1 1059.1,486.2 1059.7,486.4 1060.1,486.6 1060.1,486.9 1060.1,487.3 1059.9,487.6 1059.7,487.9 1059.3,487.9 1058.7,487.8 1058.2,487.6 1057.9,487.3 1057.8,487.1 1057.8,486.7 1057.9,486.4Z"/>
<path fill="#9ecae1" d="M1098.5,524.6 1099.4,523.8 1100.5,523.2 1101.6,522.7 1102.6,522.6 1103.5,522.8 1104.5,523.2 1105.3,523.9 1106.0,524.6 1106.6,525.5 1107.0,526.5 1107.3,527.6 1107.4,528.7 1107.1,530.0 1106.4,531.4 1105.8,532.8 1105.3,534.2 1105.4,535.6 1105.7,537.0 1106.0,538.3 1106.0,539.7 1105.8,541.1 1105.3,542.6 1104.7,544.0 1104.0,545.2 1103.1,546.1 1102.1,546.8 1101.0,547.4 1099.9,547.9 1098.8,548.3 1097.8,548.6 1096.8,548.9 1095.7,549.3 1094.6,550.0 1093.5,551.0 1092.5,551.7 1091.6,552.0 1091.2,551.9 1090.8,551.6 1090.5,551.2 1090.3,550.7 1090.2,549.3 1090.6,547.6 1091.1,545.6 1091.6,543.8 1092.1,542.1 1092.6,540.4 1093.2,538.7 1093.7,537.0 1094.2,535.2 1094.7,533.5 1095.2,531.7 1095.7,530.1 1096.3,528.6 1096.9,527.1 1097.6,525.7Z"/>
<path fill="#9ecae1" d="M1108.8,543.1 1109.6,542.4 1111.1,541.9 1112.5,541.6 1113.6,541.8 1114.0,542.2 1114.3,542.9 1114.4,543.7 1114.3,544.5 1113.6,545.6 1112.4,546.8 1111.1,547.7 1110.1,547.9 1109.5,547.2 1108.9,545.8 1108.6,544.3Z"/>
<path fill="#9ecae1" d="M1123.9,546.6 1124.8,545.7 1126.3,544.9 1127.8,544.5 1128.7,544.5 1128.8,545.0 1128.7,545.9 1128.4,547.0 1128.0,547.9 1127.2,549.0 1126.3,550.2 1125.3,551.1 1124.5,551.3 1124.1,550.7 1123.7,549.3 1123.6,547.7Z"/>
<path fill="#9ecae1" d="M1114.9,562.3 1115.4,562.0 1116.0,561.7 1116.6,561.6 1117.0,561.6 1117.1,562.1 1117.0,562.9 1116.7,563.8 1116.3,564.4 1115.9,564.6 1115.4,564.7 1115.0,564.8 1114.7,564.6 1114.5,564.2 1114.5,563.6 1114.7,562.9Z"/>
<path fill="#9ecae1" d="M1097.1,563.7 1097.6,563.1 1098.3,562.6 1099.1,562.3 1099.9,562.3 1100.6,562.8 1101.4,563.6 1102.0,564.7 1102.6,565.7 1103.1,567.0 1103.4,568.4 1103.7,569.9 1104.0,571.2 1104.3,572.3 1104.5,573.4 1104.9,574.4 1105.3,575.3 1106.1,576.4 1107.1,577.4 1108.1,578.4 1108.8,579.5 1109.2,580.6 1109.5,581.8 1109.7,582.9 1109.5,583.6 1108.8,583.8 1107.9,583.7 1106.9,583.3 1106.0,582.9 1105.2,582.1 1104.5,581.1 1103.9,579.9 1103.3,578.8 1102.7,577.6 1102.2,576.4 1101.8,575.2 1101.2,574.0 1100.6,572.6 1099.8,571.2 1099.1,569.9 1098.5,568.5 1097.9,567.2 1097.4,565.9 1097.1,564.6Z"/>
<path fill="#cb8080" d="M1091.4,565.8 1092.1,566.3 1092.8,567.5 1093.5,569.1 1094.2,570.6 1094.8,572.2 1095.3,573.9 1095.8,575.7 1096.2,577.4 1096.4,579.2 1096.5,580.9 1096.7,582.6 1096.9,584.3 1097.3,585.9 1097.7,587.5 1098.2,588.9 1099.0,589.8 1099.7,589.8 1100.7,589.5 1101.6,589.1 1102.4,589.1 1103.0,589.6 1103.5,590.5 1103.9,591.5 1104.4,592.5 1105.1,593.5 1105.7,594.5 1106.4,595.5 1107.2,596.6 1108.1,598.0 1109.2,599.5 1110.2,600.9 1111.3,602.1 1112.2,602.9 1113.2,603.5 1114.1,604.1 1114.7,604.8 1115.2,605.8 1115.4,606.9 1115.5,607.9 1115.4,609.0 1115.1,609.9 1114.7,611.0 1114.1,611.8 1113.4,612.4 1112.4,612.6 1111.1,612.4 1109.8,612.0 1108.6,611.7 1107.2,611.4 1105.8,611.1 1104.5,610.7 1103.1,610.3 1101.7,610.0 1100.3,609.6 1099.0,609.3 1097.6,609.0 1096.2,608.8 1094.8,608.7 1093.5,608.5 1092.1,608.3 1090.6,607.9 1089.1,607.5 1087.8,607.0 1086.6,606.2 1085.9,605.4 1085.3,604.3 1084.9,603.2 1084.6,602.1 1084.3,601.0 1084.2,599.8 1084.1,598.5 1083.9,597.3 1083.4,595.7 1082.7,594.0 1081.9,592.4 1081.1,591.1 1080.6,590.4 1080.1,589.7 1079.5,589.2 1079.1,589.1 1078.6,589.7 1078.3,590.9 1078.0,592.5 1077.7,593.9 1077.4,595.3 1077.1,596.7 1076.8,598.1 1076.3,599.4 1075.8,600.5 1075.1,601.5 1074.4,602.4 1073.6,602.8 1072.7,602.6 1071.7,601.9 1070.8,601.0 1070.2,600.0 1069.8,599.3 1069.5,598.4 1069.4,597.5 1069.5,596.6 1069.8,595.6 1070.3,594.6 1070.9,593.6 1071.5,592.5 1072.2,590.9 1073.0,589.2 1073.7,587.4 1074.3,585.7 1074.6,584.0 1074.7,582.2 1074.8,580.6 1075.4,579.5 1076.2,579.0 1077.2,578.6 1078.3,578.6 1079.1,578.8 1079.6,579.6 1079.8,580.9 1080.0,582.2 1080.4,582.9 1081.2,583.0 1082.1,582.7 1083.0,582.1 1083.9,581.5 1084.7,580.7 1085.4,579.7 1086.0,578.6 1086.6,577.4 1087.2,576.1 1087.7,574.7 1088.2,573.3 1088.7,571.9 1089.0,570.6 1089.3,569.3 1089.6,568.1 1090.0,567.1 1090.4,566.6 1090.7,566.2 1091.1,565.9Z"/>
<path fill="#9ecae1" d="M1097.6,635.0 1098.1,633.8 1099.0,632.7 1100.0,631.7 1101.0,630.9 1101.9,630.3 1102.8,629.8 1103.7,629.5 1104.4,629.5 1105.1,630.1 1105.5,631.2 1106.0,632.5 1106.5,633.6 1107.2,634.7 1108.0,635.9 1108.9,636.9 1109.9,637.8 1111.2,638.4 1112.6,638.9 1114.0,639.4 1115.4,639.8 1116.8,640.3 1118.3,640.7 1119.7,641.2 1120.9,641.9 1121.7,642.8 1122.3,643.8 1122.9,644.9 1123.6,646.0 1124.6,647.1 1125.6,648.1 1126.6,649.1 1127.8,650.1 1129.3,651.1 1131.1,652.0 1132.7,652.9 1133.2,653.5 1132.9,653.8 1132.2,654.1 1131.4,654.2 1130.5,654.2 1129.2,653.8 1127.7,653.1 1126.3,652.4 1125.0,652.2 1124.2,652.4 1123.5,652.9 1122.8,653.5 1122.3,654.2 1121.8,655.5 1121.6,657.0 1121.4,658.5 1120.9,659.7 1120.2,660.3 1119.3,660.8 1118.4,661.1 1117.5,661.1 1116.3,660.5 1115.1,659.5 1113.9,658.2 1112.7,657.0 1111.3,655.7 1109.9,654.3 1108.5,652.9 1107.2,651.5 1105.9,650.1 1104.7,648.8 1103.5,647.4 1102.4,646.0 1101.4,644.6 1100.5,643.3 1099.7,641.9 1099.0,640.5 1098.4,639.1 1097.9,637.7 1097.5,636.3Z"/>
<path fill="#9ecae1" d="M1369.7,622.5 1370.7,621.7 1372.1,621.1 1373.7,620.7 1375.2,620.4 1376.6,620.4 1378.2,620.4 1379.6,620.7 1380.7,621.1 1381.2,621.7 1381.7,622.4 1382.0,623.1 1382.0,623.9 1381.7,624.7 1381.0,625.6 1380.2,626.5 1379.3,627.3 1378.3,628.0 1377.2,628.7 1376.2,629.4 1375.2,630.0 1374.4,630.8 1373.8,631.7 1373.1,632.4 1372.4,632.8 1371.7,632.7 1371.0,632.4 1370.2,632.0 1369.7,631.4 1369.3,630.7 1369.1,629.9 1369.0,629.0 1369.0,628.0 1369.0,626.6 1369.0,625.1 1369.2,623.7Z"/>
<path fill="#9ecae1" d="M1371.1,648.6 1371.9,647.9 1373.3,647.5 1374.9,647.3 1376.6,647.2 1378.4,647.1 1380.6,647.1 1382.4,647.3 1383.4,647.9 1383.5,648.6 1383.1,649.4 1382.6,650.4 1382.0,651.3 1381.5,652.4 1380.8,653.5 1380.0,654.5 1379.3,655.4 1378.6,656.1 1377.9,656.8 1377.2,657.3 1376.6,657.5 1375.8,657.1 1375.1,656.2 1374.5,655.1 1373.8,654.0 1372.9,652.7 1371.9,651.1 1371.1,649.7Z"/>
<path fill="#9ecae1" d="M1361.5,656.1 1361.9,655.4 1362.7,654.7 1363.6,654.2 1364.2,654.0 1364.5,654.3 1364.8,654.9 1364.9,655.5 1364.9,656.1 1364.4,656.8 1363.6,657.5 1362.8,658.0 1362.2,658.2 1361.8,657.9 1361.6,657.3 1361.4,656.7Z"/>
<path fill="#9ecae1" d="M1360.8,665.0 1361.5,664.2 1362.8,663.6 1364.3,663.1 1365.6,663.0 1366.4,663.1 1367.2,663.4 1367.8,663.8 1368.3,664.3 1368.6,665.1 1368.7,665.9 1368.6,666.9 1368.3,667.8 1367.8,668.8 1367.1,669.9 1366.3,670.8 1365.6,671.2 1365.1,671.0 1364.5,670.5 1364.0,669.8 1363.5,669.1 1362.7,668.2 1361.7,667.0 1361.0,665.9Z"/>
<path fill="#9ecae1" d="M1366.3,701.3 1366.9,700.7 1368.6,699.8 1370.6,698.8 1372.4,697.9 1373.8,697.2 1375.1,696.4 1376.5,695.7 1377.9,695.2 1379.9,694.7 1382.1,694.4 1383.9,694.3 1384.8,694.5 1384.6,694.9 1383.9,695.4 1382.9,696.0 1382.0,696.6 1380.8,697.2 1379.5,697.9 1378.0,698.6 1376.6,699.3 1374.8,700.1 1373.0,701.0 1371.3,701.7 1369.7,702.0 1368.6,702.0 1367.5,701.9 1366.6,701.7Z"/>
<path fill="#9ecae1" d="M1357.4,697.9 1358.1,697.5 1359.3,697.2 1360.6,697.1 1361.5,697.2 1361.7,697.5 1361.8,697.8 1361.8,698.1 1361.7,698.3 1361.0,698.7 1359.8,699.0 1358.5,699.1 1357.6,699.0 1357.4,698.8 1357.3,698.5 1357.3,698.2Z"/>
<path fill="#9ecae1" d="M1339.5,704.8 1340.1,704.5 1341.0,704.4 1342.1,704.5 1343.0,704.8 1343.7,705.3 1344.4,706.1 1344.9,706.9 1345.0,707.5 1344.6,708.0 1343.9,708.5 1343.0,708.9 1342.3,708.9 1341.4,708.2 1340.4,707.0 1339.7,705.6Z"/>
<path fill="#cb8080" d="M1493.9,624.9 1494.3,624.2 1495.0,623.6 1495.7,623.0 1496.5,622.5 1497.2,622.0 1497.9,621.6 1498.7,621.3 1499.5,621.0 1500.4,620.6 1501.5,620.4 1502.4,620.2 1503.1,620.4 1503.4,620.7 1503.5,621.3 1503.5,621.9 1503.7,622.5 1504.4,623.0 1505.2,623.4 1506.1,623.8 1506.8,624.3 1507.2,625.0 1507.5,625.7 1507.7,626.5 1508.0,627.3 1508.2,628.3 1508.5,629.3 1508.7,630.3 1509.2,631.0 1509.9,631.4 1510.8,631.5 1511.8,631.5 1512.9,631.6 1514.2,631.7 1515.7,631.6 1517.2,631.7 1518.3,631.9 1518.8,632.1 1519.2,632.4 1519.6,632.7 1519.8,633.1 1520.1,633.7 1520.2,634.4 1520.2,635.1 1520.1,635.8 1519.8,636.6 1519.1,637.4 1518.5,638.2 1518.3,638.9 1518.7,639.5 1519.4,640.1 1520.1,640.7 1520.8,641.3 1521.1,641.8 1521.4,642.2 1521.6,642.7 1521.7,643.1 1521.4,643.6 1520.9,644.0 1520.4,644.5 1520.1,645.0 1520.1,645.6 1520.2,646.3 1520.4,646.9 1520.8,647.4 1521.4,647.6 1522.2,647.5 1523.0,647.5 1523.5,647.7 1523.6,648.1 1523.5,648.6 1523.4,649.2 1523.2,649.8 1522.9,650.5 1522.5,651.3 1522.1,652.1 1521.7,652.9 1521.3,653.7 1520.9,654.7 1520.5,655.5 1520.1,655.9 1519.9,655.9 1519.7,655.9 1519.5,655.7 1519.2,655.6 1518.6,655.2 1517.9,654.7 1517.2,654.1 1516.5,653.5 1515.9,652.5 1515.3,651.4 1514.7,650.2 1514.1,649.2 1513.4,648.4 1512.6,647.6 1511.8,646.9 1511.0,646.2 1510.2,645.5 1509.4,644.9 1508.6,644.4 1508.0,643.7 1507.8,643.3 1507.7,642.8 1507.6,642.3 1507.4,641.9 1506.9,641.7 1506.2,641.6 1505.5,641.5 1505.0,641.3 1504.6,640.8 1504.3,640.2 1504.0,639.5 1503.7,638.9 1503.3,638.3 1502.9,637.6 1502.4,637.0 1501.9,636.5 1501.4,635.8 1500.8,635.0 1500.2,634.4 1499.5,634.0 1498.7,634.0 1497.9,634.2 1497.1,634.4 1496.5,634.3 1496.2,634.0 1496.1,633.4 1496.0,632.8 1495.8,632.2 1495.5,631.4 1495.1,630.4 1494.6,629.5 1494.3,628.6 1494.1,627.6 1493.9,626.7 1493.8,625.7Z"/>
<path fill="#9ecae1" d="M1454.7,660.9 1455.5,659.9 1456.5,659.2 1457.6,658.6 1458.8,658.2 1460.2,657.8 1461.7,657.6 1463.1,657.6 1464.3,657.9 1465.0,658.4 1465.7,659.1 1466.1,660.0 1466.4,660.9 1466.3,662.2 1465.8,663.6 1465.1,665.1 1464.3,666.4 1463.4,667.5 1462.4,668.5 1461.3,669.5 1460.2,670.5 1459.2,671.6 1458.1,672.8 1457.1,673.8 1456.1,674.6 1455.3,675.0 1454.5,675.3 1453.8,675.4 1453.3,675.3 1453.1,674.4 1453.3,672.8 1453.7,670.9 1454.0,669.1 1454.1,667.0 1454.0,664.8 1454.2,662.6Z"/>
<path fill="#9ecae1" d="M1436.9,658.2 1437.3,656.1 1438.0,653.6 1438.8,651.3 1439.6,649.9 1440.0,649.8 1440.4,649.7 1440.7,649.8 1441.0,649.9 1441.1,651.3 1440.5,653.6 1439.7,656.2 1438.9,658.2 1438.4,659.1 1437.8,660.0 1437.3,660.7 1436.9,660.9 1436.7,660.6 1436.7,659.9 1436.8,659.1Z"/>
<path fill="#9ecae1" d="M1449.2,618.4 1449.9,617.8 1451.1,617.2 1452.4,616.9 1453.3,617.0 1453.8,617.6 1454.1,618.6 1454.2,619.6 1454.0,620.4 1453.4,621.1 1452.4,621.6 1451.4,621.9 1450.6,621.8 1450.0,621.3 1449.5,620.3 1449.2,619.2Z"/>
<path fill="#9ecae1" d="M1323.9,809.6 1324.6,810.4 1325.1,812.1 1325.8,814.1 1326.6,815.7 1327.6,816.9 1328.8,817.9 1330.1,818.9 1331.4,819.9 1332.8,820.9 1334.2,822.0 1335.6,823.0 1336.9,824.0 1337.8,824.7 1338.7,825.4 1339.4,826.1 1339.6,826.7 1339.1,827.4 1337.9,828.0 1336.5,828.6 1335.5,829.5 1334.9,830.7 1334.6,832.1 1334.4,833.6 1334.1,834.9 1334.0,835.8 1334.0,836.6 1333.8,837.4 1333.5,838.0 1332.6,838.5 1331.3,838.8 1329.9,839.0 1328.7,839.1 1327.6,839.0 1326.5,838.9 1325.5,838.5 1324.5,838.0 1323.5,836.6 1322.5,834.8 1321.8,832.8 1321.1,830.8 1320.6,829.1 1320.3,827.4 1320.0,825.7 1319.7,824.0 1319.4,822.2 1319.2,820.5 1319.0,818.7 1319.1,817.1 1319.4,815.8 1319.9,814.5 1320.5,813.4 1321.1,812.3 1321.7,811.4 1322.5,810.5 1323.2,809.8Z"/>
<path fill="#9ecae1" d="M1321.8,799.3 1322.3,798.2 1323.4,796.9 1324.8,795.7 1325.9,795.2 1326.5,795.3 1327.2,795.6 1327.7,796.0 1328.0,796.6 1328.0,797.3 1327.7,798.3 1327.2,799.3 1326.6,800.0 1325.8,800.4 1324.9,800.7 1323.9,800.8 1323.2,800.7 1322.7,800.5 1322.3,800.1 1321.9,799.7Z"/>
<path fill="#9ecae1" d="M1202.5,762.3 1202.8,761.8 1203.2,761.3 1203.6,761.0 1203.9,760.9 1204.1,761.6 1204.1,763.0 1203.9,764.5 1203.6,765.7 1203.2,766.2 1202.7,766.7 1202.2,767.0 1201.8,767.1 1201.7,766.4 1201.8,765.0 1202.1,763.4Z"/>
<path fill="#9ecae1" d="M1208.0,767.8 1208.3,767.2 1208.6,766.8 1209.0,766.5 1209.4,766.4 1209.8,767.1 1210.1,768.5 1210.2,770.1 1210.0,771.2 1209.7,771.5 1209.2,771.8 1208.7,771.9 1208.3,771.9 1207.9,771.2 1207.8,770.0 1207.8,768.8Z"/>
<path fill="#9ecae1" d="M1187.4,730.0 1187.7,729.7 1188.1,729.5 1188.5,729.3 1188.8,729.4 1189.0,729.8 1189.2,730.6 1189.2,731.5 1189.1,732.1 1188.8,732.3 1188.4,732.4 1188.0,732.5 1187.7,732.4 1187.5,732.0 1187.3,731.3 1187.3,730.6Z"/>
<path fill="#9ecae1" d="M1356.0,866.0 1356.7,865.1 1357.8,864.4 1359.0,864.0 1360.0,864.0 1360.9,864.9 1361.6,866.6 1362.1,868.5 1362.0,870.0 1361.3,871.1 1360.2,872.1 1359.0,872.9 1358.0,873.0 1357.1,871.9 1356.3,869.9 1355.9,867.7Z"/>
<path fill="#cb8080" d="M1527.7,387.7 1528.6,387.1 1530.2,386.7 1532.0,386.5 1533.9,386.3 1536.5,386.1 1539.4,385.9 1542.3,385.8 1544.8,385.9 1546.5,386.0 1548.0,386.2 1549.4,386.4 1550.3,387.0 1550.7,388.0 1550.7,389.2 1550.7,390.4 1551.0,391.1 1551.7,391.3 1552.6,391.2 1553.6,390.9 1554.4,390.4 1555.2,389.6 1555.8,388.5 1556.5,387.4 1557.2,386.3 1558.0,385.5 1558.8,384.7 1559.7,384.0 1560.6,383.6 1561.6,383.6 1562.7,383.9 1563.8,384.2 1564.7,384.3 1565.5,383.8 1566.3,383.1 1567.0,382.4 1567.5,382.2 1567.9,382.9 1568.1,384.2 1568.1,385.7 1567.9,387.0 1567.4,388.1 1566.5,389.1 1565.6,390.1 1564.7,391.1 1563.9,392.2 1563.0,393.3 1562.1,394.3 1561.3,395.2 1560.6,396.0 1559.8,396.6 1559.1,397.2 1558.6,398.0 1558.2,399.0 1557.9,400.0 1557.8,401.1 1557.9,402.1 1558.3,402.8 1558.9,403.5 1559.5,404.1 1559.9,404.8 1560.0,405.7 1559.9,406.6 1559.6,407.5 1559.2,408.3 1558.9,408.9 1558.4,409.5 1557.8,410.0 1557.2,410.3 1556.4,410.4 1555.5,410.3 1554.5,410.1 1553.8,409.6 1553.1,409.0 1552.6,408.1 1552.2,407.2 1551.7,406.2 1551.1,405.2 1550.6,404.2 1550.1,403.2 1549.6,402.1 1549.4,401.0 1549.4,399.8 1549.3,398.8 1549.0,398.0 1548.5,397.6 1548.0,397.4 1547.4,397.3 1546.9,397.3 1546.2,397.7 1545.5,398.5 1544.8,399.3 1544.2,400.0 1543.7,400.4 1543.2,400.8 1542.7,401.1 1542.1,401.4 1541.2,402.0 1540.2,402.5 1539.1,403.1 1538.0,403.5 1536.7,403.8 1535.3,403.9 1533.8,404.0 1532.5,404.2 1531.3,404.4 1530.1,404.8 1529.0,405.0 1528.4,404.8 1528.4,404.2 1528.8,403.1 1529.4,401.9 1529.8,400.7 1529.8,399.4 1529.6,398.0 1529.3,396.6 1529.1,395.2 1528.9,394.2 1528.7,393.1 1528.6,392.1 1528.4,391.1 1528.1,390.2 1527.8,389.3 1527.6,388.4Z"/>
<path fill="#cb8080" d="M1538.7,406.2 1539.0,405.6 1539.7,404.9 1540.6,404.4 1541.4,404.2 1542.2,404.4 1542.9,404.9 1543.6,405.5 1544.2,406.2 1544.5,406.9 1544.8,407.7 1545.0,408.4 1544.8,409.0 1544.2,409.3 1543.0,409.4 1541.8,409.3 1540.7,409.0 1540.0,408.4 1539.3,407.7 1538.8,406.9Z"/>
<path fill="#9ecae1" d="M1520.9,442.6 1521.3,441.6 1522.0,440.7 1522.8,439.8 1523.6,439.1 1524.3,438.6 1525.0,438.1 1525.7,437.8 1526.3,437.8 1527.2,438.2 1528.1,439.1 1528.8,440.2 1529.1,441.2 1528.8,442.2 1528.1,443.3 1527.2,444.3 1526.3,445.3 1525.5,446.3 1524.6,447.4 1523.7,448.2 1522.9,448.5 1522.4,448.2 1521.9,447.5 1521.6,446.8 1521.3,446.0 1521.0,445.2 1520.8,444.3 1520.7,443.4Z"/>
<path fill="#cb8080" d="M1606.6,474.1 1607.3,473.1 1608.3,472.1 1609.4,471.3 1610.7,470.7 1611.9,470.3 1613.3,470.1 1614.7,470.0 1616.1,470.0 1617.5,470.1 1618.9,470.4 1620.3,470.6 1621.6,470.7 1623.0,470.4 1624.4,469.8 1625.8,469.2 1627.1,468.6 1628.5,468.0 1629.9,467.2 1631.3,466.5 1632.6,465.9 1633.9,465.4 1635.3,465.0 1636.5,464.5 1637.4,463.8 1637.7,462.9 1637.7,461.7 1637.7,460.5 1638.1,459.7 1639.1,459.2 1640.4,459.0 1641.9,459.0 1643.6,459.0 1646.3,458.8 1649.4,458.5 1652.4,458.5 1654.5,459.0 1655.2,459.7 1655.7,460.7 1656.0,461.7 1656.6,462.4 1657.8,462.9 1659.3,463.1 1660.7,463.3 1661.4,463.8 1661.2,464.7 1660.4,465.7 1659.4,466.9 1658.7,467.9 1658.2,468.6 1657.7,469.3 1657.3,470.0 1657.3,470.7 1658.1,471.6 1659.5,472.4 1661.2,473.3 1662.8,474.1 1663.9,474.8 1665.0,475.4 1666.0,476.0 1666.9,476.8 1667.7,477.9 1668.3,479.1 1669.0,480.4 1669.6,481.6 1670.3,482.7 1671.0,483.7 1671.7,484.7 1672.4,485.7 1673.1,487.1 1673.7,488.4 1674.4,489.8 1675.1,491.2 1675.9,492.6 1676.8,494.1 1677.7,495.5 1678.5,496.7 1679.4,497.7 1680.2,498.5 1681.0,499.4 1681.3,500.1 1681.2,500.8 1680.9,501.4 1680.4,501.9 1679.9,502.2 1679.2,502.1 1678.3,501.6 1677.4,501.1 1676.5,500.8 1675.7,501.0 1675.0,501.3 1674.3,501.7 1673.7,502.2 1673.3,502.8 1673.1,503.6 1672.8,504.3 1672.4,504.9 1671.8,505.4 1671.1,505.7 1670.4,506.0 1669.6,506.3 1668.7,506.8 1667.8,507.2 1666.7,507.6 1665.5,508.0 1663.0,508.3 1659.9,508.4 1656.9,508.3 1654.5,508.0 1653.7,507.6 1653.1,507.2 1652.5,506.8 1651.8,506.3 1650.6,505.6 1649.2,504.9 1647.8,504.2 1646.3,503.6 1644.6,503.2 1642.8,503.0 1641.0,502.7 1639.5,502.2 1638.3,501.4 1637.3,500.3 1636.3,499.2 1635.3,498.1 1634.1,497.0 1632.7,495.9 1631.6,494.8 1631.2,494.0 1631.6,493.6 1632.3,493.3 1633.2,493.0 1634.0,492.6 1634.9,491.7 1635.9,490.6 1636.9,489.5 1638.1,488.5 1639.7,487.5 1641.5,486.7 1643.3,485.9 1644.9,485.1 1646.2,484.4 1647.5,483.7 1648.5,483.1 1649.1,482.3 1649.1,481.6 1648.8,480.9 1648.3,480.1 1647.7,479.6 1646.6,479.1 1645.2,478.8 1643.6,478.7 1642.2,478.9 1640.9,479.3 1639.6,480.0 1638.4,480.8 1637.4,481.6 1636.8,482.4 1636.3,483.3 1635.9,484.2 1635.3,485.1 1634.7,485.9 1634.1,486.8 1633.4,487.7 1632.6,488.5 1631.7,489.5 1630.7,490.5 1629.6,491.4 1628.5,491.9 1627.5,492.0 1626.5,491.7 1625.4,491.4 1624.4,491.2 1623.3,491.2 1622.3,491.3 1621.3,491.3 1620.3,491.2 1619.2,490.9 1618.1,490.4 1617.1,489.8 1616.1,489.2 1615.4,488.4 1614.8,487.5 1614.2,486.5 1613.4,485.7 1612.5,485.1 1611.4,484.6 1610.3,484.1 1609.3,483.7 1608.3,483.4 1607.3,483.1 1606.4,482.8 1605.9,482.3 1605.8,481.6 1606.0,480.8 1606.3,479.8 1606.6,478.9 1606.5,477.7 1606.4,476.4 1606.3,475.2Z"/>
<path fill="#9ecae1" d="M1471.0,507.8 1471.5,507.2 1472.2,506.7 1472.9,506.3 1473.7,506.2 1474.7,506.4 1475.7,507.1 1476.8,507.8 1477.8,508.5 1478.9,509.0 1480.1,509.4 1481.2,509.9 1481.9,510.6 1482.4,511.5 1482.7,512.6 1482.7,513.7 1482.6,514.7 1482.2,515.4 1481.5,516.1 1480.8,516.8 1480.6,517.4 1480.9,518.3 1481.8,519.2 1482.9,520.1 1484.0,520.9 1485.1,521.5 1486.4,522.0 1487.6,522.4 1488.8,522.9 1489.8,523.4 1490.7,523.8 1491.6,524.3 1492.2,525.0 1492.6,525.8 1492.9,526.7 1493.0,527.6 1492.9,528.4 1492.5,529.0 1491.8,529.6 1491.0,530.1 1490.2,530.4 1489.2,530.8 1488.2,531.0 1487.1,531.1 1486.1,531.1 1485.0,531.1 1483.9,531.0 1482.9,530.8 1481.9,530.4 1481.1,530.1 1480.3,529.6 1479.6,529.0 1479.2,528.4 1479.2,527.6 1479.5,526.8 1479.8,525.8 1479.9,525.0 1479.6,524.1 1479.1,523.2 1478.5,522.3 1477.8,521.5 1477.2,520.9 1476.5,520.4 1475.8,519.9 1475.1,519.5 1474.2,519.1 1473.3,518.8 1472.5,518.5 1471.7,518.1 1470.9,517.7 1470.2,517.2 1469.6,516.7 1469.3,516.1 1469.5,515.3 1470.0,514.5 1470.6,513.6 1471.0,512.6 1471.0,511.4 1470.9,510.1 1470.8,508.8Z"/>
<path fill="#9ecae1" d="M1575.9,550.3 1576.4,549.9 1577.3,549.5 1578.3,549.3 1579.3,549.2 1580.4,549.3 1581.5,549.4 1582.6,549.8 1583.4,550.3 1583.9,551.2 1584.1,552.2 1584.2,553.4 1584.1,554.4 1583.9,555.4 1583.7,556.4 1583.3,557.3 1582.7,557.9 1581.8,558.1 1580.7,558.1 1579.5,557.9 1578.6,557.5 1578.1,556.8 1577.8,555.8 1577.5,554.8 1577.2,553.8 1576.8,552.8 1576.2,551.9 1575.9,551.0Z"/>
<path fill="#9ecae1" d="M1604.7,556.5 1604.9,555.6 1605.6,554.6 1606.5,553.8 1607.4,553.1 1608.4,552.6 1609.6,552.2 1610.9,552.0 1612.2,551.7 1613.8,551.2 1615.6,550.7 1617.4,550.3 1619.1,550.1 1620.5,550.1 1621.9,550.3 1623.3,550.6 1624.5,551.0 1625.6,551.5 1626.6,552.0 1627.6,552.5 1628.7,553.1 1629.7,553.7 1630.7,554.3 1631.8,554.8 1632.8,555.1 1633.7,555.0 1634.7,554.7 1635.5,554.4 1636.2,554.4 1636.6,555.1 1636.9,556.2 1636.9,557.4 1636.9,558.6 1636.5,559.9 1635.8,561.3 1635.1,562.7 1634.8,564.0 1635.0,565.1 1635.5,566.1 1636.0,567.1 1636.2,568.2 1635.9,569.8 1635.2,571.5 1634.5,573.3 1634.1,575.0 1634.3,576.4 1634.6,577.8 1635.1,579.2 1635.5,580.5 1635.9,581.6 1636.4,582.6 1636.8,583.6 1636.9,584.6 1636.5,585.6 1635.7,586.6 1634.8,587.6 1634.1,588.7 1633.8,590.1 1633.6,591.6 1633.3,593.0 1632.8,594.2 1631.9,594.9 1630.9,595.4 1629.7,595.8 1628.7,596.3 1627.6,596.7 1626.4,597.2 1625.4,597.7 1624.5,598.3 1624.1,599.3 1623.9,600.6 1623.6,601.7 1623.2,602.4 1622.3,602.5 1621.3,602.2 1620.1,601.7 1619.1,601.1 1618.0,600.3 1617.0,599.5 1616.0,598.5 1614.9,597.6 1613.9,596.8 1612.8,595.9 1611.8,595.1 1610.8,594.2 1610.0,593.5 1609.1,592.9 1608.4,592.2 1608.1,591.5 1608.3,590.6 1609.0,589.7 1609.9,588.8 1610.8,588.0 1611.8,587.4 1612.8,587.0 1613.9,586.5 1614.9,586.0 1616.1,585.4 1617.2,584.8 1618.3,584.1 1619.1,583.2 1619.6,582.0 1619.8,580.6 1619.9,579.1 1619.7,577.8 1619.4,576.7 1618.8,575.7 1618.2,574.7 1617.7,573.6 1617.3,572.3 1617.1,570.9 1616.8,569.5 1616.3,568.2 1615.5,567.0 1614.5,566.0 1613.3,565.0 1612.2,564.0 1611.0,563.2 1609.7,562.4 1608.5,561.5 1607.4,560.6 1606.5,559.6 1605.6,558.6 1604.9,557.5Z"/>
<path fill="#9ecae1" d="M1640.3,557.2 1640.8,557.2 1641.7,557.6 1642.7,558.1 1643.7,558.6 1644.8,558.9 1645.9,559.2 1646.9,559.5 1647.9,559.9 1648.5,560.3 1649.2,560.8 1649.7,561.3 1649.9,561.6 1649.5,561.7 1648.6,561.6 1647.5,561.5 1646.5,561.3 1645.2,561.0 1643.9,560.7 1642.7,560.2 1641.7,559.7 1641.1,559.0 1640.6,558.3 1640.3,557.6Z"/>
<path fill="#9ecae1" d="M1521.3,658.1 1522.1,657.7 1523.7,657.7 1525.6,657.8 1527.4,658.1 1529.1,658.6 1530.8,659.4 1532.5,660.2 1534.3,660.9 1536.0,661.3 1537.8,661.6 1539.5,661.8 1541.1,662.2 1542.6,662.6 1544.1,663.1 1545.5,663.6 1546.6,664.3 1547.4,665.0 1548.0,665.8 1548.4,666.8 1548.7,667.7 1548.7,668.9 1548.4,670.2 1547.9,671.4 1547.3,672.5 1546.6,673.3 1545.8,674.1 1544.9,674.6 1543.9,675.0 1542.6,675.1 1541.2,674.8 1539.7,674.4 1538.4,673.9 1537.3,673.2 1536.2,672.3 1535.3,671.4 1534.3,670.4 1533.2,669.4 1532.2,668.4 1531.2,667.3 1530.2,666.3 1529.2,665.5 1528.1,664.6 1527.1,663.8 1526.1,662.9 1524.6,661.7 1522.9,660.3 1521.6,659.0Z"/>
<path fill="#9ecae1" d="M1513.7,678.0 1514.6,677.7 1515.7,677.8 1516.9,678.1 1517.8,678.7 1518.4,679.6 1518.7,680.8 1518.9,682.2 1519.2,683.5 1519.7,684.9 1520.2,686.3 1520.6,687.7 1520.6,689.0 1520.2,689.9 1519.5,690.8 1518.7,691.7 1517.8,692.4 1516.7,693.2 1515.4,693.9 1514.1,694.4 1513.0,694.4 1512.3,693.8 1511.6,692.8 1511.2,691.5 1511.0,690.3 1511.2,689.0 1511.8,687.7 1512.5,686.3 1513.0,684.8 1513.2,683.0 1513.1,680.9 1513.2,679.1Z"/>
<path fill="#9ecae1" d="M1554.8,680.0 1555.6,679.4 1556.7,678.9 1557.9,678.7 1559.0,678.7 1560.0,678.8 1561.0,679.2 1562.0,679.6 1563.1,680.0 1564.5,680.5 1566.1,680.9 1567.6,681.5 1568.6,682.1 1568.9,682.6 1569.2,683.1 1569.3,683.7 1569.2,684.2 1568.5,684.8 1567.3,685.3 1565.8,685.7 1564.4,686.2 1563.4,686.8 1562.4,687.4 1561.4,687.9 1560.3,688.3 1558.9,688.6 1557.3,688.8 1555.9,688.8 1554.8,688.3 1554.2,686.7 1554.0,684.3 1554.2,681.8Z"/>
<path fill="#9ecae1" d="M1543.9,686.9 1544.5,686.8 1545.4,686.9 1546.4,687.2 1547.3,687.6 1548.1,688.0 1548.8,688.5 1549.5,689.0 1550.0,689.6 1550.4,690.3 1550.7,691.1 1550.9,691.8 1550.7,692.4 1550.0,692.9 1548.9,693.2 1547.6,693.2 1546.6,693.1 1546.0,692.6 1545.4,691.9 1544.9,691.1 1544.6,690.3 1544.2,689.4 1543.9,688.4 1543.7,687.5Z"/>
<path fill="#9ecae1" d="M1619.3,673.9 1619.6,672.9 1620.3,671.9 1621.2,670.8 1622.0,669.8 1622.9,668.3 1623.9,666.8 1625.0,665.4 1626.1,664.3 1627.4,663.7 1628.7,663.3 1630.2,663.1 1631.6,662.9 1633.3,662.9 1635.1,663.0 1636.8,663.0 1638.5,662.9 1639.9,662.5 1641.3,662.0 1642.6,661.5 1644.0,660.9 1645.3,660.2 1646.7,659.4 1648.0,658.7 1649.5,658.1 1651.2,657.7 1653.1,657.3 1654.7,657.1 1655.6,657.4 1655.6,658.2 1655.1,659.2 1654.4,660.4 1653.6,661.5 1652.7,662.6 1651.7,663.7 1650.6,664.7 1649.5,665.7 1648.2,666.6 1646.9,667.5 1645.4,668.3 1644.0,669.1 1642.3,669.7 1640.6,670.2 1638.9,670.7 1637.1,671.1 1635.4,671.6 1633.6,672.1 1631.8,672.6 1630.3,673.2 1629.1,673.8 1628.1,674.6 1627.2,675.3 1626.1,675.9 1625.1,676.5 1624.0,677.0 1623.0,677.3 1622.0,677.3 1621.1,676.8 1620.3,675.9 1619.6,674.9Z"/>
<path fill="#9ecae1" d="M1660.4,669.1 1661.0,668.7 1662.2,668.4 1663.5,668.2 1664.5,668.4 1665.1,668.9 1665.6,669.8 1665.9,670.6 1665.9,671.1 1665.3,671.3 1664.1,671.2 1662.8,670.8 1661.8,670.4 1661.3,670.1 1660.8,669.8 1660.5,669.4Z"/>
<path fill="#9ecae1" d="M1668.0,669.1 1668.3,667.3 1669.0,665.1 1669.8,663.2 1670.7,662.2 1671.2,662.1 1671.9,662.2 1672.4,662.5 1672.8,662.9 1672.8,663.9 1672.4,665.3 1671.8,666.8 1671.4,668.4 1671.2,670.3 1671.2,672.6 1671.0,674.4 1670.7,675.2 1670.3,675.0 1669.7,674.3 1669.1,673.4 1668.7,672.5 1668.3,671.7 1668.1,670.9 1668.0,670.0Z"/>
<path fill="#9ecae1" d="M1677.6,652.6 1677.8,651.7 1678.3,650.9 1678.9,650.0 1679.6,649.2 1680.7,648.2 1682.1,647.3 1683.6,646.5 1685.1,645.8 1686.7,645.1 1688.5,644.6 1690.2,644.1 1692.0,643.7 1693.7,643.4 1695.4,643.2 1697.1,643.1 1698.8,643.0 1700.6,643.0 1702.3,643.1 1704.0,643.3 1705.7,643.7 1707.1,644.3 1708.6,645.0 1709.9,645.8 1711.2,646.5 1712.1,646.9 1713.0,647.4 1713.8,647.7 1714.6,647.8 1715.1,647.6 1715.6,647.2 1716.1,646.7 1716.6,646.5 1717.6,646.6 1718.6,647.0 1719.7,647.5 1720.8,647.8 1721.9,647.7 1723.2,647.3 1724.3,647.1 1724.9,647.1 1724.7,647.7 1724.0,648.6 1723.2,649.6 1722.8,650.6 1723.2,651.5 1724.0,652.4 1724.7,653.3 1724.9,654.0 1724.3,654.5 1723.3,654.9 1722.0,655.1 1720.8,655.4 1719.4,655.6 1718.0,655.7 1716.6,655.8 1715.3,656.1 1714.2,656.3 1713.1,656.6 1712.1,656.9 1711.2,657.4 1710.1,658.3 1709.2,659.5 1708.2,660.7 1707.0,661.5 1705.8,662.1 1704.3,662.5 1702.9,662.7 1701.6,662.6 1700.4,662.4 1699.3,662.1 1698.3,661.5 1697.4,660.9 1697.0,659.9 1696.8,658.8 1696.5,657.7 1696.1,656.7 1695.3,656.0 1694.2,655.4 1693.1,655.0 1692.0,654.7 1690.7,654.6 1689.3,654.8 1687.9,655.0 1686.5,655.4 1685.1,655.9 1683.6,656.6 1682.2,657.2 1681.0,657.4 1680.2,657.3 1679.4,657.0 1678.8,656.6 1678.3,656.1 1677.9,655.3 1677.6,654.5 1677.5,653.5Z"/>
<path fill="#9ecae1" d="M1712.5,682.8 1713.0,682.5 1714.2,682.2 1715.5,682.1 1716.6,682.1 1717.5,682.4 1718.4,682.9 1719.1,683.4 1719.4,683.8 1718.9,684.1 1717.7,684.4 1716.4,684.6 1715.3,684.6 1714.4,684.3 1713.5,683.8 1712.8,683.2Z"/>
<path fill="#9ecae1" d="M1674.1,695.1 1674.7,694.5 1675.4,694.1 1676.1,693.8 1676.9,693.8 1677.9,694.0 1678.9,694.5 1679.9,695.1 1680.3,695.8 1680.1,696.4 1679.6,697.1 1678.9,697.9 1678.3,698.6 1677.7,699.2 1677.0,699.9 1676.5,700.6 1676.2,701.3 1676.4,702.4 1677.0,703.6 1677.5,704.7 1677.6,705.4 1677.2,705.6 1676.6,705.7 1676.0,705.6 1675.5,705.4 1674.9,704.8 1674.5,703.7 1674.1,702.5 1673.9,701.3 1673.7,699.7 1673.6,698.0 1673.7,696.4Z"/>
<path fill="#9ecae1" d="M1691.3,702.7 1691.7,702.6 1692.7,702.7 1693.7,703.0 1694.7,703.4 1695.7,703.8 1696.8,704.3 1697.7,704.9 1698.1,705.4 1698.1,705.8 1698.0,706.2 1697.8,706.6 1697.4,706.8 1696.6,706.8 1695.5,706.4 1694.3,705.8 1693.3,705.1 1692.6,704.5 1691.9,703.8 1691.4,703.1Z"/>
<path fill="#9ecae1" d="M1690.6,693.1 1691.5,693.3 1692.8,694.1 1694.1,695.0 1694.7,695.8 1694.7,696.1 1694.5,696.5 1694.3,696.8 1694.0,696.9 1693.2,696.7 1692.0,695.9 1690.9,695.0 1690.3,694.2 1690.3,693.8 1690.3,693.5 1690.4,693.2Z"/>
<path fill="#9ecae1" d="M1696.8,713.6 1697.3,713.8 1698.1,714.4 1699.2,715.2 1700.2,715.7 1701.2,715.8 1702.4,715.6 1703.5,715.5 1704.3,715.7 1704.8,716.3 1705.1,717.2 1705.4,718.2 1705.7,719.1 1706.3,720.2 1707.0,721.3 1707.5,722.3 1707.7,723.2 1707.6,723.9 1707.3,724.5 1706.9,725.0 1706.4,725.3 1705.6,725.4 1704.7,725.3 1703.7,725.1 1702.9,724.6 1702.3,723.8 1701.8,722.7 1701.4,721.5 1700.9,720.5 1700.2,719.8 1699.5,719.1 1698.7,718.5 1698.1,717.8 1697.6,716.7 1697.0,715.4 1696.7,714.3Z"/>
<path fill="#9ecae1" d="M1708.4,728.7 1709.0,728.7 1710.1,729.0 1711.4,729.6 1712.5,730.1 1713.9,730.5 1715.3,730.9 1716.6,731.5 1717.3,732.2 1717.4,732.9 1717.0,733.8 1716.6,734.8 1716.6,735.6 1717.6,736.4 1719.3,736.9 1720.9,737.5 1722.1,738.3 1722.7,739.3 1723.0,740.4 1723.1,741.6 1722.8,742.4 1722.0,743.0 1720.7,743.3 1719.2,743.5 1718.0,743.8 1717.3,744.4 1716.6,745.0 1716.0,745.6 1715.3,745.9 1714.4,745.7 1713.4,745.3 1712.5,744.6 1711.8,743.8 1711.6,742.6 1711.8,741.2 1712.2,739.7 1712.5,738.3 1712.9,737.2 1713.5,736.1 1713.9,735.1 1713.9,734.2 1713.2,733.6 1712.0,733.2 1710.8,732.7 1709.8,732.2 1709.2,731.3 1708.7,730.3 1708.4,729.3Z"/>
<path fill="#9ecae1" d="M1730.4,743.1 1731.0,742.7 1732.3,742.5 1733.6,742.5 1734.5,742.7 1734.9,743.2 1735.2,743.9 1735.3,744.6 1735.2,745.2 1734.6,745.6 1733.6,745.9 1732.6,746.0 1731.7,745.9 1731.2,745.4 1730.6,744.6 1730.3,743.7Z"/>
<path fill="#9ecae1" d="M1711.2,765.7 1711.6,765.1 1712.3,764.5 1713.0,764.1 1713.9,763.7 1715.1,763.3 1716.5,763.1 1718.0,762.8 1719.4,762.3 1720.8,761.4 1722.1,760.1 1723.5,758.8 1724.9,757.5 1726.5,756.2 1728.3,754.9 1730.0,753.7 1731.7,752.7 1733.1,752.1 1734.4,751.6 1735.8,751.1 1737.2,750.7 1739.2,749.9 1741.3,749.1 1743.4,748.4 1745.4,748.2 1747.3,748.5 1749.3,749.1 1751.0,749.8 1752.3,750.7 1752.9,751.2 1753.3,751.7 1753.6,752.2 1753.7,752.7 1753.0,753.5 1751.5,754.2 1749.8,754.8 1748.2,755.5 1746.8,756.0 1745.4,756.5 1744.1,757.0 1742.7,757.5 1741.3,758.1 1739.9,758.8 1738.5,759.5 1737.2,760.3 1736.1,761.1 1735.1,762.0 1734.1,763.0 1733.1,763.7 1732.1,764.2 1731.1,764.6 1730.1,764.9 1729.0,765.1 1727.7,764.9 1726.2,764.4 1724.8,763.9 1723.5,763.7 1722.4,763.8 1721.3,764.2 1720.3,764.6 1719.4,765.1 1718.6,765.5 1717.8,765.9 1717.1,766.5 1716.6,767.1 1716.6,768.0 1716.9,769.1 1717.3,770.2 1717.3,771.2 1717.0,772.3 1716.5,773.4 1715.9,774.3 1715.3,774.7 1714.6,774.4 1713.9,773.8 1713.1,772.9 1712.5,771.9 1711.9,770.5 1711.3,768.8 1711.0,767.1Z"/>
<path fill="#9ecae1" d="M1727.3,701.6 1727.5,701.4 1727.8,701.3 1728.1,701.2 1728.3,701.3 1728.5,701.9 1728.7,703.0 1728.6,704.1 1728.4,704.7 1728.2,704.9 1727.9,704.9 1727.6,704.9 1727.3,704.7 1727.1,704.1 1727.1,703.2 1727.1,702.2Z"/>
<path fill="#9ecae1" d="M1600.8,723.2 1601.3,722.7 1602.3,722.3 1603.4,722.1 1604.2,722.1 1604.7,722.5 1605.2,723.2 1605.5,724.0 1605.6,724.6 1605.3,725.2 1604.8,725.7 1604.1,726.2 1603.5,726.4 1603.0,726.3 1602.4,726.1 1601.9,725.7 1601.5,725.3 1601.1,724.8 1600.9,724.3 1600.7,723.7Z"/>
<path fill="#9ecae1" d="M1596.7,762.3 1597.0,761.6 1597.9,760.9 1599.0,760.2 1600.1,759.6 1601.4,759.0 1602.9,758.6 1604.3,758.1 1605.6,757.5 1606.3,756.9 1607.0,756.1 1607.6,755.4 1608.3,754.8 1609.6,754.2 1611.0,753.8 1612.5,753.3 1613.8,752.7 1615.0,752.0 1616.1,751.1 1617.1,750.2 1617.9,749.3 1618.3,748.4 1618.6,747.4 1618.8,746.5 1619.3,745.9 1620.1,745.4 1621.0,745.1 1622.0,745.0 1622.7,745.2 1623.1,745.7 1623.4,746.4 1623.7,747.3 1624.1,747.9 1625.0,748.4 1626.1,748.7 1627.1,749.0 1627.5,749.3 1627.0,749.6 1625.6,749.9 1624.1,750.2 1622.7,750.7 1621.8,751.3 1621.0,752.0 1620.2,752.7 1619.3,753.4 1618.3,754.1 1617.3,754.8 1616.2,755.5 1615.2,756.1 1614.2,756.8 1613.1,757.5 1612.1,758.2 1611.1,758.9 1610.0,759.6 1609.0,760.3 1608.0,761.0 1607.0,761.6 1605.9,762.2 1604.9,762.8 1603.9,763.3 1602.8,763.7 1601.8,764.0 1600.7,764.3 1599.6,764.5 1598.7,764.4 1598.0,764.0 1597.3,763.5 1596.8,762.9Z"/>
<path fill="#9ecae1" d="M1647.4,739.7 1650.8,739.0 1648.8,740.8Z"/>
<path fill="#9ecae1" d="M1662.5,737.6 1662.8,737.2 1663.8,736.6 1664.9,736.1 1665.9,735.9 1666.8,736.1 1667.7,736.6 1668.4,737.2 1668.7,737.6 1668.2,737.9 1667.3,738.1 1666.2,738.3 1665.2,738.3 1664.4,738.3 1663.5,738.1 1662.8,737.9Z"/>
<path fill="#9ecae1" d="M1508.9,778.1 1509.3,777.6 1510.0,777.2 1510.9,777.0 1511.7,777.0 1512.5,777.5 1513.3,778.4 1514.2,779.4 1515.1,780.1 1516.1,780.5 1517.3,780.8 1518.4,781.1 1519.2,781.5 1519.6,782.1 1519.9,782.9 1520.0,783.7 1519.9,784.3 1519.3,784.7 1518.4,784.9 1517.4,785.0 1516.5,784.9 1515.6,784.5 1514.7,783.9 1513.9,783.0 1513.0,782.2 1511.8,781.2 1510.4,780.0 1509.3,778.9Z"/>
<path fill="#9ecae1" d="M1491.5,666.5 1491.9,666.0 1492.9,665.4 1494.1,664.9 1495.3,664.5 1496.1,664.2 1497.0,664.0 1497.9,663.9 1498.5,664.1 1498.9,664.8 1499.2,665.8 1499.2,666.8 1499.0,667.5 1498.4,667.8 1497.4,667.8 1496.3,667.7 1495.3,667.5 1494.1,667.4 1492.9,667.1 1491.9,666.8Z"/>
<path fill="#9ecae1" d="M1463.0,686.9 1463.3,686.1 1464.0,685.4 1464.8,684.8 1465.7,684.2 1466.6,683.5 1467.6,682.7 1468.6,682.1 1469.4,682.1 1469.8,682.6 1470.0,683.6 1470.2,684.8 1470.5,685.8 1471.2,686.7 1472.1,687.5 1472.8,688.3 1473.2,689.1 1473.0,689.6 1472.6,690.1 1472.0,690.6 1471.6,691.2 1471.2,692.0 1470.8,692.8 1470.4,693.6 1470.0,694.4 1469.4,695.3 1468.7,696.1 1468.0,696.9 1467.3,697.7 1466.6,698.4 1465.9,699.2 1465.3,699.9 1464.6,700.4 1464.0,700.6 1463.5,700.9 1463.0,701.0 1462.6,700.9 1462.6,700.2 1463.1,698.9 1463.6,697.4 1464.0,696.1 1464.3,694.8 1464.5,693.6 1464.6,692.4 1464.6,691.2 1464.2,690.1 1463.6,688.9 1463.1,687.9Z"/>
<path fill="#9ecae1" d="M1468.9,716.0 1469.6,715.2 1470.4,714.6 1471.2,714.2 1472.1,713.8 1473.0,713.6 1474.0,713.4 1475.0,713.4 1475.9,713.6 1476.7,714.0 1477.5,714.5 1478.1,715.2 1478.6,716.0 1478.7,716.9 1478.6,718.1 1478.3,719.2 1478.0,720.3 1477.9,721.2 1477.7,722.1 1477.4,723.0 1477.0,723.5 1476.2,723.7 1475.2,723.5 1474.2,723.2 1473.2,723.0 1472.4,722.7 1471.5,722.4 1470.7,722.0 1470.0,721.9 1469.2,722.0 1468.4,722.3 1467.7,722.5 1467.3,722.4 1467.1,721.3 1467.4,719.5 1468.1,717.5Z"/>
<path fill="#9ecae1" d="M1489.3,733.2 1489.8,732.9 1490.7,732.9 1491.7,733.0 1492.6,733.2 1493.4,733.5 1494.2,734.0 1495.0,734.7 1495.8,735.3 1496.5,736.2 1497.2,737.1 1497.9,738.1 1498.5,739.1 1499.2,740.1 1499.9,741.0 1500.4,742.0 1500.6,742.9 1500.4,743.7 1499.9,744.6 1499.2,745.4 1498.5,746.1 1497.8,746.8 1497.1,747.6 1496.4,748.1 1495.8,748.3 1495.2,747.9 1494.6,747.0 1494.1,746.0 1493.6,745.0 1493.3,744.0 1493.1,742.9 1492.8,741.8 1492.6,740.7 1492.2,739.8 1491.8,738.8 1491.4,737.9 1490.9,737.0 1490.4,735.9 1489.8,734.8 1489.3,733.9Z"/>
<path fill="#9ecae1" d="M1477.5,757.4 1478.0,756.8 1478.6,756.4 1479.4,756.0 1480.2,755.8 1481.0,755.7 1481.9,755.8 1482.7,756.0 1483.4,756.3 1483.9,756.8 1484.2,757.3 1484.4,757.9 1484.5,758.5 1484.3,759.3 1483.7,760.2 1483.0,761.0 1482.3,761.7 1481.7,762.2 1481.0,762.6 1480.3,762.8 1479.6,762.8 1479.1,762.5 1478.5,762.0 1478.1,761.3 1477.7,760.6 1477.5,759.9 1477.3,759.0 1477.3,758.1Z"/>
<path fill="#9ecae1" d="M1486.6,762.8 1487.2,762.4 1488.1,762.2 1489.1,762.1 1489.9,762.2 1490.4,762.6 1491.0,763.2 1491.3,763.8 1491.5,764.4 1491.3,765.0 1490.9,765.7 1490.4,766.2 1489.9,766.6 1489.2,766.6 1488.5,766.3 1487.7,765.9 1487.2,765.5 1486.8,764.9 1486.6,764.1 1486.5,763.4Z"/>
<path fill="#9ecae1" d="M1458.7,777.3 1458.2,775.4 1458.5,772.4 1459.2,769.4 1460.3,767.6 1461.2,767.3 1462.5,767.3 1463.7,767.7 1464.6,768.2 1465.0,768.9 1465.2,770.0 1465.3,771.1 1465.7,771.9 1466.3,772.6 1467.1,773.1 1468.0,773.4 1468.9,773.6 1469.8,773.4 1470.8,773.0 1471.6,772.5 1472.1,771.9 1472.1,771.3 1471.9,770.6 1471.5,769.9 1471.0,769.2 1470.3,768.7 1469.4,768.2 1468.5,767.7 1467.8,767.1 1467.5,766.5 1467.3,765.8 1467.2,765.3 1467.3,764.9 1467.7,765.1 1468.3,765.6 1469.1,766.1 1470.0,766.6 1471.2,766.8 1472.6,766.8 1474.1,766.7 1475.3,766.6 1476.3,766.2 1477.1,765.8 1477.9,765.5 1478.6,765.5 1479.2,766.1 1479.7,767.3 1480.0,768.6 1480.2,769.8 1480.2,770.9 1480.0,772.1 1479.6,773.2 1479.1,774.1 1478.4,774.8 1477.5,775.5 1476.4,775.9 1475.3,776.2 1474.1,776.3 1472.7,776.0 1471.3,775.8 1470.0,775.7 1468.6,776.0 1467.3,776.5 1465.9,777.0 1464.6,777.3 1463.0,777.6 1461.3,777.8 1459.7,777.8Z"/>
<path fill="#9ecae1" d="M1448.4,760.6 1448.8,760.3 1449.4,760.1 1450.1,760.0 1450.6,760.1 1451.0,760.6 1451.4,761.3 1451.7,762.2 1451.7,762.8 1451.3,763.1 1450.8,763.4 1450.2,763.6 1449.7,763.5 1449.2,763.1 1448.7,762.2 1448.4,761.3Z"/>
<path fill="#9ecae1" d="M1534.5,731.0 1535.1,729.4 1535.9,727.6 1537.1,726.0 1538.3,724.6 1539.7,723.7 1541.3,723.0 1542.9,722.5 1544.2,721.9 1545.0,721.4 1545.7,720.8 1546.3,720.4 1546.9,720.3 1547.5,720.6 1548.0,721.4 1548.5,722.1 1549.1,722.4 1549.8,722.1 1550.6,721.3 1551.3,720.5 1551.8,720.3 1551.8,721.1 1551.3,722.9 1550.7,724.9 1550.1,726.7 1549.9,728.1 1549.7,729.5 1549.5,730.8 1549.1,732.1 1548.5,733.3 1547.9,734.4 1547.2,735.4 1546.4,736.4 1545.4,737.4 1544.3,738.4 1543.2,739.2 1542.1,739.6 1541.1,739.6 1540.2,739.2 1539.2,738.6 1538.3,738.0 1537.4,737.5 1536.5,736.8 1535.7,736.1 1535.1,735.3 1534.7,734.4 1534.5,733.3 1534.4,732.2Z"/>
<path fill="#9ecae1" d="M1527.0,735.3 1527.4,734.8 1528.1,734.3 1528.9,734.0 1529.7,733.7 1530.3,733.6 1530.9,733.5 1531.5,733.5 1531.8,733.7 1531.9,734.5 1531.5,735.8 1531.0,737.2 1530.8,738.6 1530.9,739.8 1531.2,741.2 1531.4,742.3 1531.3,742.9 1530.8,742.7 1530.1,742.0 1529.3,741.1 1528.6,740.2 1528.0,739.0 1527.4,737.7 1527.0,736.4Z"/>
<path fill="#9ecae1" d="M1522.7,740.2 1523.2,740.0 1524.0,740.1 1524.8,740.2 1525.4,740.5 1525.7,740.9 1525.9,741.5 1526.0,742.0 1525.9,742.3 1525.5,742.5 1524.7,742.5 1523.8,742.3 1523.2,742.0 1522.9,741.6 1522.7,741.1 1522.6,740.5Z"/>
<path fill="#9ecae1" d="M1558.2,727.8 1558.7,727.4 1559.5,727.3 1560.5,727.1 1561.4,726.7 1562.5,725.7 1563.6,724.3 1564.6,722.8 1565.8,721.3 1567.0,719.9 1568.3,718.4 1569.7,717.0 1571.1,716.0 1572.4,715.3 1573.8,714.7 1575.2,714.4 1576.5,714.4 1577.7,714.7 1578.9,715.3 1580.0,716.1 1580.8,717.0 1581.5,718.4 1581.8,720.0 1582.0,721.8 1582.1,723.5 1582.1,725.1 1581.9,726.7 1581.6,728.3 1581.4,730.0 1581.1,731.8 1580.7,733.8 1580.3,735.7 1579.7,737.5 1579.1,739.0 1578.4,740.4 1577.5,741.7 1576.5,742.9 1575.3,743.8 1573.9,744.5 1572.5,745.1 1571.1,745.6 1570.1,746.0 1569.1,746.5 1568.2,746.7 1567.4,746.6 1566.7,745.9 1566.2,744.6 1565.7,743.1 1565.2,741.8 1564.6,740.7 1563.8,739.7 1563.1,738.6 1562.5,737.5 1562.1,736.2 1561.7,734.8 1561.4,733.4 1560.9,732.1 1560.1,730.9 1559.2,729.7 1558.4,728.6Z"/>
<path fill="#9ecae1" d="M1549.1,763.9 1549.7,763.1 1550.7,762.5 1551.8,762.1 1552.8,762.0 1553.7,762.4 1554.5,763.2 1555.2,764.1 1556.1,764.9 1557.1,765.9 1558.2,766.9 1559.3,767.9 1560.4,768.7 1561.3,769.2 1562.3,769.5 1563.1,769.8 1563.6,770.3 1563.6,771.1 1563.1,772.1 1562.5,773.1 1562.0,774.1 1561.7,775.1 1561.6,776.2 1561.3,777.2 1560.9,777.9 1560.3,778.1 1559.6,778.2 1558.9,778.1 1558.2,777.9 1557.4,777.2 1556.6,776.3 1555.8,775.2 1555.0,774.1 1554.2,773.0 1553.3,771.9 1552.5,770.8 1551.8,769.8 1551.2,769.2 1550.6,768.7 1550.0,768.2 1549.6,767.6 1549.2,766.7 1549.0,765.7 1548.9,764.7Z"/>
<path fill="#9ecae1" d="M1530.8,779.5 1530.9,778.6 1531.5,777.1 1532.5,775.5 1533.5,774.1 1534.3,773.1 1535.2,772.2 1536.2,771.4 1537.2,770.9 1538.5,770.4 1540.1,770.2 1541.4,770.1 1542.1,770.3 1542.0,770.9 1541.4,771.7 1540.7,772.7 1539.9,773.6 1539.2,774.4 1538.4,775.2 1537.6,776.0 1536.7,776.8 1535.8,777.6 1534.8,778.4 1533.8,779.0 1532.9,779.5 1532.3,779.6 1531.7,779.7 1531.1,779.7Z"/>
<path fill="#9ecae1" d="M1565.8,756.3 1566.2,755.6 1567.1,754.7 1568.1,754.0 1569.0,753.6 1569.5,753.7 1570.0,753.9 1570.4,754.2 1570.6,754.5 1570.5,755.1 1570.1,756.0 1569.6,756.8 1569.0,757.4 1568.4,757.7 1567.8,757.9 1567.1,758.0 1566.6,757.9 1566.3,757.7 1566.0,757.3 1565.8,756.8Z"/>
<path fill="#9ecae1" d="M1573.3,750.4 1573.6,750.2 1574.0,750.1 1574.5,750.1 1574.9,750.2 1575.4,750.8 1575.8,751.9 1576.0,753.0 1576.0,753.6 1575.7,753.8 1575.2,753.9 1574.8,753.8 1574.4,753.6 1573.9,753.0 1573.5,752.0 1573.2,751.1Z"/>
<path fill="#9ecae1" d="M1584.6,749.3 1585.0,749.0 1585.9,748.6 1586.9,748.4 1587.8,748.5 1588.6,748.9 1589.3,749.6 1589.8,750.4 1590.0,750.9 1589.6,751.2 1588.9,751.3 1588.0,751.4 1587.3,751.3 1586.4,750.9 1585.5,750.4 1584.8,749.8Z"/>
<path fill="#9ecae1" d="M1579.2,747.7 1579.5,747.1 1580.2,746.4 1581.1,745.6 1581.9,745.0 1582.4,744.6 1582.8,744.3 1583.3,744.0 1583.5,744.0 1583.6,744.3 1583.5,744.8 1583.3,745.5 1583.0,746.1 1582.4,746.8 1581.7,747.6 1580.9,748.2 1580.3,748.5 1579.9,748.4 1579.6,748.2 1579.3,748.0Z"/>
<path fill="#9ecae1" d="M1560.7,799.1 1561.2,798.9 1562.3,798.8 1563.6,798.8 1564.8,799.1 1565.9,799.6 1567.0,800.4 1568.0,801.3 1568.9,802.2 1569.6,803.2 1570.1,804.2 1570.6,805.3 1570.9,806.3 1571.2,807.4 1571.4,808.4 1571.5,809.5 1571.4,810.4 1571.1,811.4 1570.7,812.3 1570.2,813.2 1569.6,813.9 1568.8,814.4 1568.0,814.8 1567.1,815.1 1566.1,815.2 1565.1,815.2 1564.0,814.9 1563.0,814.6 1562.0,814.2 1561.3,813.8 1560.7,813.3 1560.1,812.9 1560.0,812.5 1560.4,812.1 1561.3,811.8 1562.4,811.5 1563.4,811.1 1564.2,810.7 1564.9,810.2 1565.6,809.7 1566.1,809.1 1566.7,808.3 1567.1,807.4 1567.4,806.5 1567.5,805.7 1567.4,804.9 1567.1,804.2 1566.6,803.5 1566.1,802.9 1565.6,802.3 1564.9,801.8 1564.1,801.3 1563.4,800.9 1562.6,800.4 1561.7,799.8 1560.9,799.4Z"/>
<path fill="#9ecae1" d="M1556.6,802.2 1556.8,801.8 1557.2,801.5 1557.6,801.3 1557.9,801.3 1558.1,802.0 1558.1,803.4 1558.0,804.9 1557.6,805.9 1557.4,806.2 1557.1,806.3 1556.8,806.4 1556.6,806.3 1556.3,805.7 1556.2,804.5 1556.3,803.2Z"/>
<path fill="#9ecae1" d="M1595.4,810.4 1595.9,809.5 1596.8,808.5 1598.0,807.7 1599.1,807.3 1599.9,807.6 1600.7,808.2 1601.6,809.1 1602.5,809.8 1603.8,810.3 1605.3,810.8 1606.5,811.3 1607.0,811.8 1606.8,812.2 1606.2,812.6 1605.3,812.9 1604.5,813.2 1603.4,813.5 1602.2,813.7 1600.9,813.9 1599.7,813.9 1598.8,813.8 1597.8,813.5 1597.0,813.2 1596.3,812.8 1595.9,812.3 1595.5,811.7 1595.3,811.1Z"/>
<path fill="#9ecae1" d="M1647.0,785.8 1647.5,785.4 1648.2,785.1 1649.0,785.0 1649.8,785.1 1650.8,785.6 1651.9,786.5 1652.9,787.4 1653.9,787.8 1654.7,787.7 1655.4,787.4 1656.1,787.0 1656.6,786.5 1657.1,785.9 1657.5,785.2 1657.8,784.5 1658.0,783.7 1657.9,782.8 1657.6,781.8 1657.3,780.9 1657.3,780.3 1657.9,780.0 1658.8,779.9 1659.8,780.0 1660.8,780.3 1661.8,780.9 1662.9,781.7 1664.0,782.7 1664.9,783.7 1665.6,784.5 1666.3,785.4 1666.8,786.2 1666.9,786.7 1666.3,786.7 1665.2,786.3 1664.0,785.9 1662.8,785.8 1661.9,786.0 1661.1,786.5 1660.2,787.1 1659.4,787.6 1658.5,787.9 1657.5,788.2 1656.6,788.6 1656.0,789.2 1655.6,790.3 1655.6,791.7 1655.6,793.0 1655.3,794.0 1654.7,794.5 1654.0,794.8 1653.3,794.9 1652.5,795.0 1651.8,794.8 1651.1,794.4 1650.4,793.9 1649.8,793.3 1649.3,792.4 1649.0,791.4 1648.7,790.3 1648.4,789.2 1648.0,788.2 1647.4,787.3 1647.1,786.4Z"/>
<path fill="#9ecae1" d="M1685.4,813.2 1685.9,812.9 1686.7,812.7 1687.6,812.6 1688.2,812.8 1688.6,813.2 1688.8,814.0 1689.0,814.7 1688.9,815.2 1688.4,815.6 1687.6,815.8 1686.7,815.8 1686.1,815.7 1685.7,815.2 1685.5,814.5 1685.3,813.7Z"/>
<path fill="#9ecae1" d="M1731.7,783.3 1732.4,782.8 1733.5,782.5 1734.8,782.4 1735.8,782.5 1736.8,782.9 1737.8,783.5 1738.6,784.2 1739.2,785.0 1739.4,785.9 1739.3,786.9 1739.1,787.9 1738.7,788.7 1738.0,789.2 1737.0,789.5 1736.0,789.7 1735.0,789.7 1734.1,789.4 1733.1,788.9 1732.3,788.2 1731.7,787.5 1731.3,786.5 1731.2,785.3 1731.3,784.2Z"/>
<path fill="#9ecae1" d="M1748.0,800.0 1748.4,799.9 1749.0,800.1 1749.8,800.4 1750.3,800.8 1750.7,801.5 1751.0,802.4 1751.3,803.2 1751.7,803.7 1752.2,803.4 1752.9,802.7 1753.6,801.9 1754.2,801.7 1754.4,802.1 1754.6,802.9 1754.7,803.8 1755.0,804.7 1755.6,805.5 1756.5,806.4 1757.4,807.1 1758.3,807.5 1759.3,807.5 1760.5,807.2 1761.4,806.9 1762.0,807.0 1762.0,807.5 1761.8,808.3 1761.4,809.1 1760.8,809.7 1760.0,810.0 1758.9,810.2 1757.7,810.2 1756.7,810.0 1755.8,809.5 1755.0,808.7 1754.2,807.8 1753.3,807.0 1752.5,806.5 1751.6,806.1 1750.7,805.6 1750.0,805.0 1749.2,803.8 1748.5,802.2 1748.0,800.8Z"/>
<path fill="#9ecae1" d="M1793.3,785.8 1793.9,785.0 1795.0,784.2 1796.4,783.4 1797.5,782.5 1798.2,781.6 1798.8,780.7 1799.3,779.8 1800.0,779.2 1800.8,778.7 1801.7,778.4 1802.5,778.2 1803.0,778.3 1802.9,779.0 1802.4,780.2 1801.8,781.4 1801.7,782.5 1802.1,783.2 1802.8,783.7 1803.6,784.3 1804.2,785.0 1804.5,786.6 1804.5,788.5 1804.2,790.4 1803.7,791.7 1803.1,792.2 1802.3,792.5 1801.5,792.6 1800.8,792.5 1800.2,791.9 1799.6,791.0 1799.0,790.0 1798.3,789.2 1797.6,788.8 1796.8,788.6 1796.0,788.3 1795.3,788.0 1794.7,787.5 1794.0,787.0 1793.5,786.4Z"/>
<path fill="#9ecae1" d="M1769.2,827.5 1770.0,826.9 1771.6,826.4 1773.4,826.0 1775.0,825.8 1776.3,825.8 1777.8,825.8 1779.0,825.9 1779.7,826.3 1779.8,826.8 1779.8,827.5 1779.5,828.1 1779.2,828.7 1778.1,829.2 1776.5,829.4 1774.8,829.6 1773.3,829.7 1772.4,829.8 1771.5,829.9 1770.6,829.9 1770.0,829.7 1769.6,829.2 1769.3,828.7 1769.1,828.0Z"/>
<path fill="#9ecae1" d="M1785.8,822.5 1786.3,822.1 1787.1,821.8 1787.8,821.6 1788.3,821.7 1788.5,822.2 1788.5,823.1 1788.3,824.0 1788.0,824.7 1787.6,824.9 1787.2,825.1 1786.7,825.1 1786.3,825.0 1786.0,824.6 1785.8,823.8 1785.7,823.1Z"/>
<path fill="#9ecae1" d="M1785.8,836.7 1786.4,836.3 1787.5,836.2 1788.8,836.2 1790.0,835.8 1791.1,835.1 1792.3,834.1 1793.3,833.0 1794.2,831.7 1794.9,829.8 1795.3,827.6 1795.8,825.3 1796.7,823.3 1798.0,821.7 1799.7,820.2 1801.5,818.8 1803.3,817.5 1804.9,816.4 1806.5,815.3 1808.2,814.3 1810.0,813.3 1812.4,812.1 1815.0,810.7 1817.6,809.5 1820.0,808.3 1821.7,807.5 1823.4,806.6 1825.0,805.9 1826.7,805.3 1828.4,805.1 1830.1,805.1 1831.8,805.0 1833.3,804.7 1834.5,803.8 1835.7,802.7 1836.7,801.7 1837.5,801.3 1838.0,801.6 1838.5,802.2 1838.9,802.9 1839.2,803.7 1839.1,804.8 1838.8,806.0 1838.4,807.3 1838.3,808.3 1838.5,808.8 1838.8,809.2 1839.1,809.5 1839.2,810.0 1838.9,811.1 1838.2,812.3 1837.4,813.7 1836.7,815.0 1836.0,816.3 1835.4,817.5 1834.8,818.8 1834.2,820.0 1833.6,821.1 1832.9,822.1 1832.3,823.1 1831.7,824.2 1830.9,825.6 1830.0,827.1 1829.2,828.6 1828.3,830.0 1827.5,831.3 1826.7,832.6 1825.9,833.8 1825.0,835.0 1824.0,836.1 1822.9,837.2 1822.1,838.2 1821.7,839.2 1821.8,839.8 1822.3,840.4 1822.9,841.0 1823.3,841.7 1823.9,842.9 1824.4,844.4 1824.8,845.8 1824.7,846.7 1824.0,846.8 1823.0,846.6 1821.8,846.2 1820.8,845.8 1820.2,845.4 1819.6,844.8 1819.0,844.3 1818.3,844.2 1817.2,844.6 1815.9,845.7 1814.6,847.1 1813.3,848.3 1812.0,849.5 1810.7,850.8 1809.5,852.0 1808.3,853.3 1807.4,854.6 1806.6,855.8 1805.9,857.1 1805.0,858.3 1804.0,859.6 1803.0,861.0 1802.0,862.2 1800.8,863.3 1799.7,864.3 1798.4,865.3 1797.1,866.0 1795.8,866.3 1794.7,866.3 1793.4,865.9 1792.3,865.3 1791.3,864.7 1790.6,863.9 1790.0,863.0 1789.5,862.0 1789.2,860.8 1789.1,859.2 1789.4,857.3 1789.9,855.3 1790.3,853.3 1791.0,851.2 1791.7,849.0 1792.4,846.9 1792.5,845.0 1792.2,843.8 1791.5,842.8 1790.8,841.8 1790.0,840.8 1788.8,839.7 1787.4,838.5 1786.2,837.5Z"/>
<path fill="#9ecae1" d="M1738.3,870.0 1739.2,868.3 1740.1,866.6 1741.0,865.2 1741.7,864.7 1742.2,865.6 1742.5,867.5 1742.7,869.8 1742.5,871.7 1742.0,872.6 1741.2,873.4 1740.5,874.1 1740.0,875.0 1740.0,876.1 1740.3,877.4 1740.7,878.7 1740.8,880.0 1740.5,881.6 1739.9,883.4 1739.1,885.1 1738.3,886.7 1737.5,888.0 1736.6,889.2 1735.7,890.4 1735.0,891.7 1734.7,892.9 1734.6,894.2 1734.5,895.5 1734.2,896.7 1733.3,897.6 1732.2,898.4 1731.2,899.2 1730.8,900.0 1731.3,900.8 1732.4,901.7 1733.8,902.5 1735.0,903.3 1736.1,904.1 1737.3,904.9 1738.4,905.7 1739.2,906.7 1739.5,907.9 1739.6,909.3 1739.7,910.6 1740.0,911.7 1740.6,912.1 1741.4,912.4 1742.1,912.6 1742.5,913.0 1742.3,913.8 1741.7,914.8 1740.9,915.8 1740.0,916.7 1739.0,917.4 1737.9,917.9 1736.8,918.5 1735.8,919.2 1735.2,920.2 1734.8,921.4 1734.3,922.4 1733.7,923.0 1732.6,922.8 1731.3,922.1 1730.0,921.0 1729.2,920.0 1728.8,919.2 1728.6,918.4 1728.6,917.6 1728.7,916.7 1729.1,915.3 1729.8,913.8 1730.5,912.3 1730.8,910.8 1730.7,909.7 1730.3,908.7 1729.8,907.7 1729.2,906.7 1728.3,905.6 1727.3,904.6 1726.4,903.6 1725.8,902.5 1725.7,901.5 1725.9,900.4 1726.2,899.3 1726.7,898.3 1727.5,897.4 1728.7,896.7 1729.9,895.9 1730.8,895.0 1731.6,893.7 1732.1,892.3 1732.5,890.7 1733.0,889.2 1733.6,887.3 1734.1,885.4 1734.6,883.5 1735.0,881.7 1735.2,880.4 1735.4,879.1 1735.6,877.9 1735.8,876.7 1736.3,875.0 1736.9,873.3 1737.6,871.6Z"/>
<path fill="#9ecae1" d="M1704.7,927.5 1705.1,926.6 1706.1,925.8 1707.3,924.9 1708.3,924.2 1709.1,923.5 1709.9,922.8 1710.7,922.2 1711.7,921.7 1713.7,921.0 1716.3,920.3 1718.6,920.0 1720.0,920.3 1720.2,921.1 1720.1,922.1 1719.7,923.2 1719.2,924.2 1718.4,924.9 1717.3,925.4 1716.2,925.8 1715.0,926.3 1713.8,926.9 1712.5,927.5 1711.2,928.1 1710.0,928.7 1709.1,929.3 1708.2,930.1 1707.4,930.7 1706.7,930.8 1706.0,930.4 1705.3,929.5 1704.8,928.4Z"/>
<path fill="#9ecae1" d="M1967.5,838.3 1968.0,837.5 1969.0,836.7 1970.0,836.0 1970.8,835.8 1971.2,836.2 1971.5,836.9 1971.7,837.6 1971.7,838.3 1971.3,839.1 1970.6,839.9 1969.8,840.6 1969.2,840.8 1968.6,840.5 1968.0,839.8 1967.6,839.0Z"/>
<path fill="#9ecae1" d="M1996.3,834.7 1997.0,834.0 1998.4,833.2 1999.8,832.6 2000.8,832.5 2001.1,832.8 2001.3,833.2 2001.4,833.7 2001.3,834.2 2000.7,834.8 1999.6,835.3 1998.4,835.7 1997.5,835.8 1997.1,835.7 1996.7,835.4 1996.4,835.0Z"/>
<path fill="#9ecae1" d="M1904.2,775.3 1904.6,775.0 1905.2,774.7 1905.9,774.6 1906.3,774.7 1906.4,775.0 1906.4,775.6 1906.2,776.2 1906.0,776.7 1905.6,776.9 1905.2,777.0 1904.7,777.0 1904.3,776.8 1904.2,776.6 1904.1,776.1 1904.1,775.7Z"/>
<path fill="#9ecae1" d="M1430.9,988.5 1431.5,987.9 1433.0,987.2 1434.7,986.7 1436.0,986.6 1436.7,987.1 1437.3,987.8 1437.8,988.7 1438.2,989.6 1438.6,990.5 1438.9,991.5 1439.1,992.4 1438.9,992.9 1438.4,992.9 1437.4,992.4 1436.3,991.7 1435.3,991.0 1434.0,990.4 1432.5,989.8 1431.3,989.1Z"/>
<path fill="#9ecae1" d="M1543.1,919.1 1543.4,918.7 1544.3,918.2 1545.2,917.7 1546.0,917.7 1546.7,918.2 1547.3,919.1 1547.7,920.0 1547.8,920.6 1547.4,920.7 1546.8,920.6 1546.0,920.4 1545.3,920.2 1544.6,920.0 1543.9,919.7 1543.3,919.4Z"/>
<path fill="#9ecae1" d="M1590.8,985.9 1594.4,985.2 1593.0,986.9Z"/>
<path fill="#9ecae1" d="M1634.0,977.8 1636.2,978.3 1635.5,979.7Z"/>
<path fill="#fff" d="M1664.1,492.6 1664.5,491.9 1665.2,491.1 1666.0,490.5 1666.9,490.1 1667.7,490.2 1668.6,490.6 1669.5,491.2 1670.3,491.9 1671.2,492.8 1672.0,493.8 1672.7,494.9 1673.1,496.0 1673.2,497.2 1673.0,498.4 1672.8,499.5 1672.4,500.1 1672.0,500.2 1671.6,500.2 1671.2,500.0 1670.7,499.7 1670.1,499.2 1669.5,498.4 1668.9,497.5 1668.3,496.7 1667.6,496.2 1666.8,495.7 1666.1,495.2 1665.5,494.7 1665.0,494.2 1664.6,493.6 1664.2,493.1Z"/>
</g>
<g fill="none" stroke="#fff" stroke-width="1" stroke-linejoin="round" stroke-linecap="round">
<path d="M1114.3,341.8 1116.2,342.0 1118.1,342.1 1120.0,342.3 1121.8,342.8 1123.6,343.6 1125.4,344.5 1127.1,345.7 1128.7,346.9 1130.2,348.3 1131.7,349.7 1133.0,351.3 1134.1,353.1 1134.9,355.0 1135.4,357.1 1135.7,359.3 1136.2,361.3 1136.7,363.0 1137.2,364.6 1137.7,366.3 1138.3,367.9"/>
<path d="M1138.3,367.9 1145.1,366.5"/>
<path d="M1138.3,367.9 1138.5,369.4 1138.8,370.9 1139.1,372.3 1139.6,373.6 1140.4,374.7 1141.5,375.7 1142.4,376.7 1143.1,377.8 1143.1,379.0 1142.7,380.4 1142.4,381.8 1142.4,383.2 1143.0,384.9 1144.0,386.7 1145.2,388.4 1146.5,390.1 1148.0,392.0 1149.8,393.8 1151.6,395.5 1153.3,397.0 1154.7,397.9 1156.0,398.6 1157.4,399.2 1158.8,399.7 1160.5,399.9 1162.2,399.9 1163.9,400.0 1165.0,400.4 1165.4,400.9 1165.5,401.6 1165.6,402.4 1165.7,403.1"/>
<path d="M1076.6,405.2 1078.0,405.4 1079.4,405.6 1080.8,406.0 1082.0,406.6 1083.3,407.6 1084.4,408.9 1085.3,410.4 1086.1,412.0 1086.9,413.9 1087.4,415.9 1087.8,418.1 1088.2,420.3 1088.4,423.0 1088.3,425.9 1088.3,428.8 1088.9,431.2 1089.9,432.9 1091.3,434.3 1092.9,435.5 1094.4,436.7 1095.8,437.8 1097.4,438.7 1098.8,439.6 1099.9,440.8 1100.5,442.4 1100.8,444.1 1101.0,446.0 1101.2,447.8 1101.7,449.9 1102.2,452.0 1102.7,454.1 1103.3,456.1 1103.9,457.7 1104.6,459.2 1105.3,460.7 1106.0,462.2"/>
<path d="M1106.0,462.2 1102.3,462.6 1098.6,462.9 1094.9,463.4 1091.6,464.3 1089.2,465.5 1087.0,467.1 1084.9,468.8 1082.7,470.4"/>
<path d="M1106.0,462.2 1109.0,461.9 1111.9,461.7 1114.8,461.3 1117.7,460.9 1120.5,460.2 1123.4,459.4 1126.1,458.5 1128.7,457.4 1130.7,456.3 1132.6,455.1 1134.4,453.9 1136.2,452.6"/>
<path d="M1136.2,452.6 1135.8,455.7 1135.6,458.8 1135.1,461.8 1134.1,464.3 1132.7,465.9 1130.8,467.2 1128.9,468.4 1127.3,469.8 1126.2,471.4 1125.2,473.1 1124.4,474.9 1123.9,476.6 1123.6,478.1 1123.7,479.5 1123.6,480.9 1123.2,482.1 1121.9,483.3 1120.1,484.2 1118.3,485.1 1117.0,486.2 1116.6,487.2 1116.4,488.2 1116.4,489.3 1116.3,490.3"/>
<path d="M1136.2,452.6 1137.0,451.0 1137.7,449.4 1138.5,447.8 1139.6,446.5 1141.4,445.2 1143.6,444.2 1145.8,443.3 1147.9,442.3 1149.2,441.6 1150.5,440.9 1151.7,440.2 1152.9,439.5"/>
<path d="M1393.9,581.2 1393.5,582.7 1393.2,584.2 1392.8,585.7 1392.2,587.1 1391.3,588.2 1390.3,589.3 1389.3,590.3 1388.5,591.5 1387.9,592.9 1387.5,594.4 1387.2,595.9 1387.0,597.4 1387.2,598.5 1387.5,599.6 1387.8,600.7 1387.8,601.8 1387.1,602.9 1386.0,604.1 1384.7,605.2 1383.4,606.2 1382.1,607.1 1380.8,608.0 1379.5,608.8 1378.2,609.1 1377.3,609.0 1376.3,608.7 1375.4,608.2 1374.6,607.6 1373.4,606.4 1372.4,604.9 1371.3,603.3 1370.2,601.8 1368.8,600.3 1367.4,598.8 1365.9,597.5 1364.3,596.6 1362.8,596.3 1361.3,596.2 1359.8,596.3 1358.4,596.6 1357.2,597.1 1356.1,597.9 1355.1,598.7 1354.0,599.6 1353.1,600.4 1352.2,601.2 1351.3,602.1 1350.4,602.9"/>
<path d="M1224.4,685.5 1224.8,687.6 1225.1,689.6 1225.5,691.7 1225.8,693.7 1226.1,695.5 1226.3,697.2 1226.6,698.9 1227.2,700.6 1228.2,702.6 1229.6,704.8 1231.1,706.8 1232.7,708.8 1234.3,710.6 1236.0,712.4 1237.8,714.0 1239.5,715.7 1241.2,717.3 1242.9,718.9 1244.7,720.3 1246.4,721.1 1247.8,721.3 1249.1,721.1 1250.5,720.7 1251.9,720.4"/>
<path d="M1251.9,720.4 1252.0,722.0 1252.2,723.5 1252.4,725.0 1252.6,726.6 1252.7,728.6 1252.7,730.7 1252.9,732.8 1253.2,734.8 1254.0,736.9 1255.1,738.9 1256.3,741.0 1257.4,743.1 1258.5,745.4 1259.6,747.8 1260.6,750.3 1261.5,752.7 1261.9,754.8 1262.2,756.8 1262.5,758.9 1262.8,760.9 1263.3,763.0 1263.8,765.0 1264.4,767.1 1264.9,769.1"/>
<path d="M1251.9,720.4 1253.6,719.7 1255.3,719.0 1257.1,718.3 1258.7,717.7 1260.2,717.4 1261.8,717.2 1263.1,717.0 1264.2,716.3 1264.8,715.1 1265.0,713.5 1265.2,711.7 1265.6,710.2 1266.4,708.8 1267.3,707.4 1268.4,706.2 1269.7,705.4 1271.2,704.8 1273.0,704.6 1274.8,704.6 1276.6,704.7 1278.4,704.9 1280.2,705.3 1281.9,705.9 1283.4,706.7 1284.5,708.0 1285.4,709.5 1286.1,711.2 1286.8,712.9 1287.7,714.9 1288.5,717.0 1289.3,719.1 1290.3,721.1 1291.5,723.2 1292.8,725.3 1294.3,727.3 1295.7,729.4 1297.4,731.5 1299.1,733.6 1300.8,735.7 1302.6,737.6 1304.3,739.4 1306.1,741.2 1307.9,742.6 1309.5,743.1 1310.5,742.5 1311.5,741.4 1312.4,740.0 1313.6,739.0 1315.1,738.2 1316.9,737.6 1318.7,737.1 1320.4,736.9 1321.9,736.9 1323.3,737.0 1324.6,737.3 1325.9,737.6 1327.0,737.9 1328.0,738.2 1329.0,738.6 1330.0,739.0"/>
<path d="M1264.8,649.2 1264.9,651.2 1264.8,653.1 1265.0,655.0 1265.5,656.8 1266.5,658.3 1267.9,659.6 1269.5,660.9 1271.0,662.3 1272.4,663.9 1273.9,665.5 1275.3,667.2 1276.5,669.1 1277.3,671.4 1277.9,673.8 1278.5,676.3 1279.2,678.7 1280.1,681.0 1281.1,683.2 1282.1,685.3 1283.3,687.0 1284.3,688.0 1285.3,688.9 1286.3,689.5 1287.4,689.7 1288.8,689.2 1290.2,688.1 1291.6,686.7 1292.9,685.6 1293.9,684.8 1294.9,684.1 1295.9,683.4 1297.0,682.8 1298.4,682.4 1299.8,682.2 1301.3,682.0 1302.8,681.7"/>
<path d="M1343.9,667.8 1343.7,669.2 1343.5,670.6 1343.4,672.0 1343.6,673.2 1344.6,674.3 1346.0,675.1 1347.6,675.9 1349.1,676.7 1350.8,677.5 1352.5,678.4 1354.2,679.2 1356.0,680.1 1358.0,681.1 1360.0,682.2 1362.1,683.2 1364.2,684.2 1366.3,685.1 1368.3,686.0 1370.4,686.8 1372.4,687.6"/>
</g>
<g font-family="'Liberation Sans', sans-serif" font-size="17.5" text-anchor="middle">
<text x="1192" y="304.1" fill="#111">4</text>
<text x="1244.8" y="288.5" fill="#111">18</text>
<text x="1310" y="273.3" fill="#111">5</text>
<text x="1383" y="268.7" fill="#fff">172</text>
<text x="1446.9" y="239.9" fill="#111">3</text>
<text x="1472.2" y="269.8" fill="#111">48</text>
<text x="1511.1" y="249.6" fill="#fff">207</text>
<text x="1568.8" y="264.2" fill="#fff">159</text>
<text x="1633.7" y="263.5" fill="#fff">164</text>
<text x="1259.4" y="329.5" fill="#111">43</text>
<text x="1345.5" y="313.5" fill="#111">43</text>
<text x="1379.9" y="343.7" fill="#111">16</text>
<text x="1214.9" y="354.8" fill="#111">2</text>
<text x="1274.3" y="360.1" fill="#111">47</text>
<text x="1195.5" y="434" fill="#111">34</text>
<text x="1279.9" y="434" fill="#fff">244</text>
<text x="1226" y="473.9" fill="#111">76</text>
<text x="1299.3" y="494.8" fill="#fff">135</text>
<text x="1263.9" y="523.9" fill="#111">2</text>
<text x="1166.3" y="547.2" fill="#111">132</text>
<text x="1252.7" y="562" fill="#111">68</text>
<text x="1406.9" y="561" fill="#111">7</text>
<text x="1226" y="616.5" fill="#fff">160</text>
<text x="1292.6" y="635.6" fill="#111">2</text>
<text x="1188.8" y="656.4" fill="#111">32</text>
<text x="1076.3" y="573.1" fill="#111">2</text>
<text x="1514.9" y="624.1" fill="#111">1</text>
<text x="1541.7" y="378.1" fill="#111">4</text>
<text x="1650.7" y="453.8" fill="#111">2</text>
<text x="1541.3" y="958.2" fill="#111">2</text>
</g>
</svg>
<svg width="2048" height="1152" viewBox="0 0 2048 1152" style="position:absolute;left:0;top:0">
<g fill="#cfd8ea" fill-opacity="0.22" stroke="#dfe6f3" stroke-width="0.5">
<ellipse cx="181.55" cy="1120.20" rx="4.30" ry="1.45" transform="rotate(228.0 181.55 1120.20)"/>
<ellipse cx="180.84" cy="1115.47" rx="4.00" ry="1.35" transform="rotate(172.0 180.84 1115.47)"/>
<ellipse cx="179.00" cy="1116.97" rx="3.20" ry="0.50" transform="rotate(204.0 179.00 1116.97)"/>
<ellipse cx="174.64" cy="1117.08" rx="4.30" ry="1.45" transform="rotate(240.5 174.64 1117.08)"/>
<ellipse cx="174.97" cy="1112.32" rx="4.00" ry="1.35" transform="rotate(184.5 174.97 1112.32)"/>
<ellipse cx="172.85" cy="1113.39" rx="3.20" ry="0.50" transform="rotate(216.5 172.85 1113.39)"/>
<ellipse cx="168.57" cy="1112.55" rx="4.30" ry="1.45" transform="rotate(253.0 168.57 1112.55)"/>
<ellipse cx="169.92" cy="1107.97" rx="4.00" ry="1.35" transform="rotate(197.0 169.92 1107.97)"/>
<ellipse cx="167.62" cy="1108.55" rx="3.20" ry="0.50" transform="rotate(229.0 167.62 1108.55)"/>
<ellipse cx="163.62" cy="1106.81" rx="4.30" ry="1.45" transform="rotate(265.5 163.62 1106.81)"/>
<ellipse cx="165.93" cy="1102.63" rx="4.00" ry="1.35" transform="rotate(209.5 165.93 1102.63)"/>
<ellipse cx="163.56" cy="1102.70" rx="3.20" ry="0.50" transform="rotate(241.5 163.56 1102.70)"/>
<ellipse cx="160.03" cy="1100.14" rx="4.30" ry="1.45" transform="rotate(278.0 160.03 1100.14)"/>
<ellipse cx="163.20" cy="1096.56" rx="4.00" ry="1.35" transform="rotate(222.0 163.20 1096.56)"/>
<ellipse cx="160.87" cy="1096.11" rx="3.20" ry="0.50" transform="rotate(254.0 160.87 1096.11)"/>
<ellipse cx="157.98" cy="1092.84" rx="4.30" ry="1.45" transform="rotate(290.5 157.98 1092.84)"/>
<ellipse cx="161.84" cy="1090.03" rx="4.00" ry="1.35" transform="rotate(234.5 161.84 1090.03)"/>
<ellipse cx="159.66" cy="1089.10" rx="3.20" ry="0.50" transform="rotate(266.5 159.66 1089.10)"/>
<ellipse cx="157.55" cy="1085.28" rx="4.30" ry="1.45" transform="rotate(303.0 157.55 1085.28)"/>
<ellipse cx="161.93" cy="1083.37" rx="4.00" ry="1.35" transform="rotate(247.0 161.93 1083.37)"/>
<ellipse cx="160.00" cy="1081.98" rx="3.20" ry="0.50" transform="rotate(279.0 160.00 1081.98)"/>
<ellipse cx="158.77" cy="1077.80" rx="4.30" ry="1.45" transform="rotate(315.5 158.77 1077.80)"/>
<ellipse cx="163.46" cy="1076.89" rx="4.00" ry="1.35" transform="rotate(259.5 163.46 1076.89)"/>
<ellipse cx="161.88" cy="1075.12" rx="3.20" ry="0.50" transform="rotate(291.5 161.88 1075.12)"/>
<ellipse cx="161.57" cy="1070.76" rx="4.30" ry="1.45" transform="rotate(328.0 161.57 1070.76)"/>
<ellipse cx="166.35" cy="1070.88" rx="4.00" ry="1.35" transform="rotate(272.0 166.35 1070.88)"/>
<ellipse cx="165.19" cy="1068.81" rx="3.20" ry="0.50" transform="rotate(304.0 165.19 1068.81)"/>
<ellipse cx="165.84" cy="1064.50" rx="4.30" ry="1.45" transform="rotate(340.5 165.84 1064.50)"/>
<ellipse cx="170.47" cy="1065.65" rx="4.00" ry="1.35" transform="rotate(284.5 170.47 1065.65)"/>
<ellipse cx="169.79" cy="1063.38" rx="3.20" ry="0.50" transform="rotate(316.5 169.79 1063.38)"/>
<ellipse cx="171.36" cy="1059.31" rx="4.30" ry="1.45" transform="rotate(353.0 171.36 1059.31)"/>
<ellipse cx="175.63" cy="1061.44" rx="4.00" ry="1.35" transform="rotate(297.0 175.63 1061.44)"/>
<ellipse cx="175.46" cy="1059.07" rx="3.20" ry="0.50" transform="rotate(329.0 175.46 1059.07)"/>
<ellipse cx="177.87" cy="1055.43" rx="4.30" ry="1.45" transform="rotate(365.5 177.87 1055.43)"/>
<ellipse cx="181.58" cy="1058.44" rx="4.00" ry="1.35" transform="rotate(309.5 181.58 1058.44)"/>
<ellipse cx="181.92" cy="1056.09" rx="3.20" ry="0.50" transform="rotate(341.5 181.92 1056.09)"/>
<ellipse cx="185.06" cy="1053.06" rx="4.30" ry="1.45" transform="rotate(378.0 185.06 1053.06)"/>
<ellipse cx="188.04" cy="1056.80" rx="4.00" ry="1.35" transform="rotate(322.0 188.04 1056.80)"/>
<ellipse cx="188.88" cy="1054.58" rx="3.20" ry="0.50" transform="rotate(354.0 188.88 1054.58)"/>
<ellipse cx="203.05" cy="1120.20" rx="4.30" ry="1.45" transform="rotate(312.0 203.05 1120.20)"/>
<ellipse cx="203.76" cy="1115.47" rx="4.00" ry="1.35" transform="rotate(368.0 203.76 1115.47)"/>
<ellipse cx="205.60" cy="1116.97" rx="3.20" ry="0.50" transform="rotate(336.0 205.60 1116.97)"/>
<ellipse cx="209.96" cy="1117.08" rx="4.30" ry="1.45" transform="rotate(299.5 209.96 1117.08)"/>
<ellipse cx="209.63" cy="1112.32" rx="4.00" ry="1.35" transform="rotate(355.5 209.63 1112.32)"/>
<ellipse cx="211.75" cy="1113.39" rx="3.20" ry="0.50" transform="rotate(323.5 211.75 1113.39)"/>
<ellipse cx="216.03" cy="1112.55" rx="4.30" ry="1.45" transform="rotate(287.0 216.03 1112.55)"/>
<ellipse cx="214.68" cy="1107.97" rx="4.00" ry="1.35" transform="rotate(343.0 214.68 1107.97)"/>
<ellipse cx="216.98" cy="1108.55" rx="3.20" ry="0.50" transform="rotate(311.0 216.98 1108.55)"/>
<ellipse cx="220.98" cy="1106.81" rx="4.30" ry="1.45" transform="rotate(274.5 220.98 1106.81)"/>
<ellipse cx="218.67" cy="1102.63" rx="4.00" ry="1.35" transform="rotate(330.5 218.67 1102.63)"/>
<ellipse cx="221.04" cy="1102.70" rx="3.20" ry="0.50" transform="rotate(298.5 221.04 1102.70)"/>
<ellipse cx="224.57" cy="1100.14" rx="4.30" ry="1.45" transform="rotate(262.0 224.57 1100.14)"/>
<ellipse cx="221.40" cy="1096.56" rx="4.00" ry="1.35" transform="rotate(318.0 221.40 1096.56)"/>
<ellipse cx="223.73" cy="1096.11" rx="3.20" ry="0.50" transform="rotate(286.0 223.73 1096.11)"/>
<ellipse cx="226.62" cy="1092.84" rx="4.30" ry="1.45" transform="rotate(249.5 226.62 1092.84)"/>
<ellipse cx="222.76" cy="1090.03" rx="4.00" ry="1.35" transform="rotate(305.5 222.76 1090.03)"/>
<ellipse cx="224.94" cy="1089.10" rx="3.20" ry="0.50" transform="rotate(273.5 224.94 1089.10)"/>
<ellipse cx="227.05" cy="1085.28" rx="4.30" ry="1.45" transform="rotate(237.0 227.05 1085.28)"/>
<ellipse cx="222.67" cy="1083.37" rx="4.00" ry="1.35" transform="rotate(293.0 222.67 1083.37)"/>
<ellipse cx="224.60" cy="1081.98" rx="3.20" ry="0.50" transform="rotate(261.0 224.60 1081.98)"/>
<ellipse cx="225.83" cy="1077.80" rx="4.30" ry="1.45" transform="rotate(224.5 225.83 1077.80)"/>
<ellipse cx="221.14" cy="1076.89" rx="4.00" ry="1.35" transform="rotate(280.5 221.14 1076.89)"/>
<ellipse cx="222.72" cy="1075.12" rx="3.20" ry="0.50" transform="rotate(248.5 222.72 1075.12)"/>
<ellipse cx="223.03" cy="1070.76" rx="4.30" ry="1.45" transform="rotate(212.0 223.03 1070.76)"/>
<ellipse cx="218.25" cy="1070.88" rx="4.00" ry="1.35" transform="rotate(268.0 218.25 1070.88)"/>
<ellipse cx="219.41" cy="1068.81" rx="3.20" ry="0.50" transform="rotate(236.0 219.41 1068.81)"/>
<ellipse cx="218.76" cy="1064.50" rx="4.30" ry="1.45" transform="rotate(199.5 218.76 1064.50)"/>
<ellipse cx="214.13" cy="1065.65" rx="4.00" ry="1.35" transform="rotate(255.5 214.13 1065.65)"/>
<ellipse cx="214.81" cy="1063.38" rx="3.20" ry="0.50" transform="rotate(223.5 214.81 1063.38)"/>
<ellipse cx="213.24" cy="1059.31" rx="4.30" ry="1.45" transform="rotate(187.0 213.24 1059.31)"/>
<ellipse cx="208.97" cy="1061.44" rx="4.00" ry="1.35" transform="rotate(243.0 208.97 1061.44)"/>
<ellipse cx="209.14" cy="1059.07" rx="3.20" ry="0.50" transform="rotate(211.0 209.14 1059.07)"/>
<ellipse cx="206.73" cy="1055.43" rx="4.30" ry="1.45" transform="rotate(174.5 206.73 1055.43)"/>
<ellipse cx="203.02" cy="1058.44" rx="4.00" ry="1.35" transform="rotate(230.5 203.02 1058.44)"/>
<ellipse cx="202.68" cy="1056.09" rx="3.20" ry="0.50" transform="rotate(198.5 202.68 1056.09)"/>
<ellipse cx="199.54" cy="1053.06" rx="4.30" ry="1.45" transform="rotate(162.0 199.54 1053.06)"/>
<ellipse cx="196.56" cy="1056.80" rx="4.00" ry="1.35" transform="rotate(218.0 196.56 1056.80)"/>
<ellipse cx="195.72" cy="1054.58" rx="3.20" ry="0.50" transform="rotate(186.0 195.72 1054.58)"/>
</g>
<g fill="none" stroke="#e8edf7" stroke-width="1.1" stroke-linecap="round">
<path d="M180.3,1112.6 Q192.3,1120.1 203.3,1122.6"/>
<path d="M204.3,1112.6 Q192.3,1120.1 181.3,1122.6"/>
</g>
<defs><pattern id="stp" x="0" y="1066.4" width="4" height="1.66" patternUnits="userSpaceOnUse"><rect width="4" height="1.66" fill="#1b3474"/><rect width="4" height="0.86" fill="#e9edf6"/></pattern>
<clipPath id="shc"><path d="M171.0,1066.0 H212.3 V1099.5 Q212.3,1103.6 207.8,1104.2 L198.5,1105.2 L192.3,1109.6 L186.1,1105.2 L175.5,1104.2 Q171.0,1103.6 171.0,1099.5 Z"/></clipPath></defs>
<path d="M171.0,1066.0 H212.3 V1099.5 Q212.3,1103.6 207.8,1104.2 L198.5,1105.2 L192.3,1109.6 L186.1,1105.2 L175.5,1104.2 Q171.0,1103.6 171.0,1099.5 Z" fill="#ffffff"/>
<g clip-path="url(#shc)">
<rect x="172.6" y="1067.0" width="14.90" height="13.30" fill="url(#stp)"/>
<rect x="197.5" y="1067.0" width="13.20" height="13.30" fill="url(#stp)"/>
<rect x="172.6" y="1088.7" width="14.90" height="14.30" fill="url(#stp)"/>
<rect x="197.5" y="1088.7" width="13.20" height="14.30" fill="url(#stp)"/>
</g>
</svg>
<div class="t" id="t0" style="top:80.02px;font-size:64.0px;line-height:76.8px;color:#fff;left:154.43px;transform-origin:0 0;transform:scaleX(1.0544);">Συγκεντρωτικά Στοιχεία ανά Περιφερειακή Ενότητα</div>
<div class="t" id="t1" style="top:205.96px;font-size:23.6px;line-height:28.32px;color:#fff;left:168.27px;transform-origin:0 0;transform:scaleX(0.9606);">ΠΕΡΙΦΕΡΕΙΑΚΗ ΕΝΟΤΗΤΑ</div>
<div class="t" id="t2" style="top:205.96px;font-size:23.6px;line-height:28.32px;color:#fff;right:1388.09px;transform-origin:100% 0;transform:scaleX(0.9571);">ΚΡΟΥΣΜΑΤΑ</div>
<div class="t" id="t3" style="top:205.96px;font-size:23.6px;line-height:28.32px;color:#fff;right:1215.28px;transform-origin:100% 0;transform:scaleX(0.9412);">ΕΚΤΡΟΦΕΣ</div>
<div class="t" id="t4" style="top:250.07px;font-size:16.3px;line-height:19.56px;color:#111;-webkit-text-stroke:0.25px #111;left:158.62px;transform-origin:0 0;transform:scaleX(0.9480);">ΑΙΤΩΛΟΑΚΑΡΝΑΝΙΑΣ</div>
<div class="t" id="t5" style="top:250.07px;font-size:16.3px;line-height:19.56px;color:#111;-webkit-text-stroke:0.2px #111;right:1376.98px;transform-origin:100% 0;">132</div>
<div class="t" id="t6" style="top:250.07px;font-size:16.3px;line-height:19.56px;color:#111;-webkit-text-stroke:0.2px #111;right:1205.78px;transform-origin:100% 0;">137</div>
<div class="t" id="t7" style="top:272.15px;font-size:16.3px;line-height:19.56px;color:#111;-webkit-text-stroke:0.25px #111;left:158.62px;transform-origin:0 0;transform:scaleX(0.9480);">ΑΝΔΡΟΥ</div>
<div class="t" id="t8" style="top:272.15px;font-size:16.3px;line-height:19.56px;color:#111;-webkit-text-stroke:0.2px #111;right:1377.01px;transform-origin:100% 0;">1</div>
<div class="t" id="t9" style="top:272.15px;font-size:16.3px;line-height:19.56px;color:#111;-webkit-text-stroke:0.2px #111;right:1205.80px;transform-origin:100% 0;">1</div>
<div class="t" id="t10" style="top:294.22px;font-size:16.3px;line-height:19.56px;color:#111;-webkit-text-stroke:0.25px #111;left:157.63px;transform-origin:0 0;transform:scaleX(0.9480);">Ν.ΑΧΑΪΑΣ</div>
<div class="t" id="t11" style="top:294.22px;font-size:16.3px;line-height:19.56px;color:#111;-webkit-text-stroke:0.2px #111;right:1377.09px;transform-origin:100% 0;">160</div>
<div class="t" id="t12" style="top:294.22px;font-size:16.3px;line-height:19.56px;color:#111;-webkit-text-stroke:0.2px #111;right:1205.78px;transform-origin:100% 0;">197</div>
<div class="t" id="t13" style="top:316.30px;font-size:16.3px;line-height:19.56px;color:#111;-webkit-text-stroke:0.25px #111;left:158.44px;transform-origin:0 0;transform:scaleX(0.9480);">ΔΡΑΜΑΣ</div>
<div class="t" id="t14" style="top:316.30px;font-size:16.3px;line-height:19.56px;color:#111;-webkit-text-stroke:0.2px #111;right:1377.02px;transform-origin:100% 0;">3</div>
<div class="t" id="t15" style="top:316.30px;font-size:16.3px;line-height:19.56px;color:#111;-webkit-text-stroke:0.2px #111;right:1205.82px;transform-origin:100% 0;">3</div>
<div class="t" id="t16" style="top:338.37px;font-size:16.3px;line-height:19.56px;color:#111;-webkit-text-stroke:0.25px #111;left:157.63px;transform-origin:0 0;transform:scaleX(0.9480);">ΕΒΡΟΥ</div>
<div class="t" id="t17" style="top:338.37px;font-size:16.3px;line-height:19.56px;color:#111;-webkit-text-stroke:0.2px #111;right:1377.25px;transform-origin:100% 0;">164</div>
<div class="t" id="t18" style="top:338.37px;font-size:16.3px;line-height:19.56px;color:#111;-webkit-text-stroke:0.2px #111;right:1205.83px;transform-origin:100% 0;">208</div>
<div class="t" id="t19" style="top:360.45px;font-size:16.3px;line-height:19.56px;color:#111;-webkit-text-stroke:0.25px #111;left:157.63px;transform-origin:0 0;transform:scaleX(0.9480);">ΕΥΒΟΙΑΣ</div>
<div class="t" id="t20" style="top:360.45px;font-size:16.3px;line-height:19.56px;color:#111;-webkit-text-stroke:0.2px #111;right:1376.98px;transform-origin:100% 0;">7</div>
<div class="t" id="t21" style="top:360.45px;font-size:16.3px;line-height:19.56px;color:#111;-webkit-text-stroke:0.2px #111;right:1205.83px;transform-origin:100% 0;">8</div>
<div class="t" id="t22" style="top:382.52px;font-size:16.3px;line-height:19.56px;color:#111;-webkit-text-stroke:0.25px #111;left:157.63px;transform-origin:0 0;transform:scaleX(0.9480);">ΗΛΕΙΑΣ</div>
<div class="t" id="t23" style="top:382.52px;font-size:16.3px;line-height:19.56px;color:#111;-webkit-text-stroke:0.2px #111;right:1376.98px;transform-origin:100% 0;">32</div>
<div class="t" id="t24" style="top:382.52px;font-size:16.3px;line-height:19.56px;color:#111;-webkit-text-stroke:0.2px #111;right:1205.80px;transform-origin:100% 0;">26</div>
<div class="t" id="t25" style="top:404.60px;font-size:16.3px;line-height:19.56px;color:#111;-webkit-text-stroke:0.25px #111;left:157.63px;transform-origin:0 0;transform:scaleX(0.9480);">ΗΜΑΘΙΑΣ</div>
<div class="t" id="t26" style="top:404.60px;font-size:16.3px;line-height:19.56px;color:#111;-webkit-text-stroke:0.2px #111;right:1377.02px;transform-origin:100% 0;">43</div>
<div class="t" id="t27" style="top:404.60px;font-size:16.3px;line-height:19.56px;color:#111;-webkit-text-stroke:0.2px #111;right:1205.82px;transform-origin:100% 0;">53</div>
<div class="t" id="t28" style="top:426.67px;font-size:16.3px;line-height:19.56px;color:#111;-webkit-text-stroke:0.25px #111;left:157.63px;transform-origin:0 0;transform:scaleX(0.9480);">ΗΡΑΚΛΕΙΟΥ</div>
<div class="t" id="t29" style="top:426.67px;font-size:16.3px;line-height:19.56px;color:#111;-webkit-text-stroke:0.2px #111;right:1376.98px;transform-origin:100% 0;">2</div>
<div class="t" id="t30" style="top:426.67px;font-size:16.3px;line-height:19.56px;color:#111;-webkit-text-stroke:0.2px #111;right:1205.78px;transform-origin:100% 0;">2</div>
<div class="t" id="t31" style="top:448.75px;font-size:16.3px;line-height:19.56px;color:#111;-webkit-text-stroke:0.25px #111;left:157.63px;transform-origin:0 0;transform:scaleX(0.9480);">ΜΕ ΘΕΣΣΑΛΟΝΙΚΗΣ</div>
<div class="t" id="t32" style="top:448.75px;font-size:16.3px;line-height:19.56px;color:#111;-webkit-text-stroke:0.2px #111;right:1377.02px;transform-origin:100% 0;">43</div>
<div class="t" id="t33" style="top:448.75px;font-size:16.3px;line-height:19.56px;color:#111;-webkit-text-stroke:0.2px #111;right:1205.80px;transform-origin:100% 0;">51</div>
<div class="t" id="t34" style="top:470.82px;font-size:16.3px;line-height:19.56px;color:#111;-webkit-text-stroke:0.25px #111;left:157.63px;transform-origin:0 0;transform:scaleX(0.9480);">ΚΑΒΑΛΑΣ</div>
<div class="t" id="t35" style="top:470.82px;font-size:16.3px;line-height:19.56px;color:#111;-webkit-text-stroke:0.2px #111;right:1377.04px;transform-origin:100% 0;">48</div>
<div class="t" id="t36" style="top:470.82px;font-size:16.3px;line-height:19.56px;color:#111;-webkit-text-stroke:0.2px #111;right:1205.78px;transform-origin:100% 0;">59</div>
<div class="t" id="t37" style="top:492.90px;font-size:16.3px;line-height:19.56px;color:#111;-webkit-text-stroke:0.25px #111;left:157.63px;transform-origin:0 0;transform:scaleX(0.9480);">ΚΑΡΔΙΤΣΑΣ</div>
<div class="t" id="t38" style="top:492.90px;font-size:16.3px;line-height:19.56px;color:#111;-webkit-text-stroke:0.2px #111;right:1377.01px;transform-origin:100% 0;">76</div>
<div class="t" id="t39" style="top:492.90px;font-size:16.3px;line-height:19.56px;color:#111;-webkit-text-stroke:0.2px #111;right:1205.78px;transform-origin:100% 0;">89</div>
<div class="t" id="t40" style="top:514.97px;font-size:16.3px;line-height:19.56px;color:#111;-webkit-text-stroke:0.25px #111;left:157.63px;transform-origin:0 0;transform:scaleX(0.9480);">ΚΕΦΑΛΛΗΝΙΑΣ</div>
<div class="t" id="t41" style="top:514.97px;font-size:16.3px;line-height:19.56px;color:#111;-webkit-text-stroke:0.2px #111;right:1376.98px;transform-origin:100% 0;">2</div>
<div class="t" id="t42" style="top:514.97px;font-size:16.3px;line-height:19.56px;color:#111;-webkit-text-stroke:0.2px #111;right:1205.78px;transform-origin:100% 0;">2</div>
<div class="t" id="t43" style="top:537.05px;font-size:16.3px;line-height:19.56px;color:#111;-webkit-text-stroke:0.25px #111;left:157.63px;transform-origin:0 0;transform:scaleX(0.9480);">ΚΙΛΚΙΣ</div>
<div class="t" id="t44" style="top:537.05px;font-size:16.3px;line-height:19.56px;color:#111;-webkit-text-stroke:0.2px #111;right:1377.04px;transform-origin:100% 0;">5</div>
<div class="t" id="t45" style="top:537.05px;font-size:16.3px;line-height:19.56px;color:#111;-webkit-text-stroke:0.2px #111;right:1205.83px;transform-origin:100% 0;">5</div>
<div class="t" id="t46" style="top:559.12px;font-size:16.3px;line-height:19.56px;color:#111;-webkit-text-stroke:0.25px #111;left:157.63px;transform-origin:0 0;transform:scaleX(0.9480);">ΚΟΖΑΝΗΣ</div>
<div class="t" id="t47" style="top:559.12px;font-size:16.3px;line-height:19.56px;color:#111;-webkit-text-stroke:0.2px #111;right:1376.98px;transform-origin:100% 0;">2</div>
<div class="t" id="t48" style="top:559.12px;font-size:16.3px;line-height:19.56px;color:#111;-webkit-text-stroke:0.2px #111;right:1205.78px;transform-origin:100% 0;">2</div>
<div class="t" id="t49" style="top:581.20px;font-size:16.3px;line-height:19.56px;color:#111;-webkit-text-stroke:0.25px #111;left:157.63px;transform-origin:0 0;transform:scaleX(0.9480);">ΚΟΡΙΝΘΙΑΣ</div>
<div class="t" id="t50" style="top:581.20px;font-size:16.3px;line-height:19.56px;color:#111;-webkit-text-stroke:0.2px #111;right:1376.98px;transform-origin:100% 0;">2</div>
<div class="t" id="t51" style="top:581.20px;font-size:16.3px;line-height:19.56px;color:#111;-webkit-text-stroke:0.2px #111;right:1205.78px;transform-origin:100% 0;">2</div>
<div class="t" id="t52" style="top:603.27px;font-size:16.3px;line-height:19.56px;color:#111;-webkit-text-stroke:0.25px #111;left:158.59px;transform-origin:0 0;transform:scaleX(0.9480);">ΛΑΡΙΣΑΣ</div>
<div class="t" id="t53" style="top:603.27px;font-size:16.3px;line-height:19.56px;color:#111;-webkit-text-stroke:0.2px #111;right:1377.25px;transform-origin:100% 0;">244</div>
<div class="t" id="t54" style="top:603.27px;font-size:16.3px;line-height:19.56px;color:#111;-webkit-text-stroke:0.2px #111;right:1205.89px;transform-origin:100% 0;">350</div>
<div class="t" id="t55" style="top:625.35px;font-size:16.3px;line-height:19.56px;color:#111;-webkit-text-stroke:0.25px #111;left:158.59px;transform-origin:0 0;transform:scaleX(0.9480);">ΛΕΣΒΟΥ</div>
<div class="t" id="t56" style="top:625.35px;font-size:16.3px;line-height:19.56px;color:#111;-webkit-text-stroke:0.2px #111;right:1376.98px;transform-origin:100% 0;">2</div>
<div class="t" id="t57" style="top:625.35px;font-size:16.3px;line-height:19.56px;color:#111;-webkit-text-stroke:0.2px #111;right:1205.78px;transform-origin:100% 0;">2</div>
<div class="t" id="t58" style="top:647.42px;font-size:16.3px;line-height:19.56px;color:#111;-webkit-text-stroke:0.25px #111;left:158.59px;transform-origin:0 0;transform:scaleX(0.9480);">ΛΗΜΝΟΥ</div>
<div class="t" id="t59" style="top:647.42px;font-size:16.3px;line-height:19.56px;color:#111;-webkit-text-stroke:0.2px #111;right:1377.25px;transform-origin:100% 0;">4</div>
<div class="t" id="t60" style="top:647.42px;font-size:16.3px;line-height:19.56px;color:#111;-webkit-text-stroke:0.2px #111;right:1206.00px;transform-origin:100% 0;">4</div>
<div class="t" id="t61" style="top:669.50px;font-size:16.3px;line-height:19.56px;color:#111;-webkit-text-stroke:0.25px #111;left:157.63px;transform-origin:0 0;transform:scaleX(0.9480);">ΜΑΓΝΗΣΙΑΣ &amp; ΣΠΟΡΑΔΩΝ</div>
<div class="t" id="t62" style="top:669.50px;font-size:16.3px;line-height:19.56px;color:#111;-webkit-text-stroke:0.2px #111;right:1377.04px;transform-origin:100% 0;">135</div>
<div class="t" id="t63" style="top:669.50px;font-size:16.3px;line-height:19.56px;color:#111;-webkit-text-stroke:0.2px #111;right:1205.83px;transform-origin:100% 0;">188</div>
<div class="t" id="t64" style="top:691.57px;font-size:16.3px;line-height:19.56px;color:#111;-webkit-text-stroke:0.25px #111;left:158.28px;transform-origin:0 0;transform:scaleX(0.9480);">ΞΑΝΘΗΣ</div>
<div class="t" id="t65" style="top:691.57px;font-size:16.3px;line-height:19.56px;color:#111;-webkit-text-stroke:0.2px #111;right:1376.98px;transform-origin:100% 0;">207</div>
<div class="t" id="t66" style="top:691.57px;font-size:16.3px;line-height:19.56px;color:#111;-webkit-text-stroke:0.2px #111;right:1205.78px;transform-origin:100% 0;">247</div>
<div class="t" id="t67" style="top:713.65px;font-size:16.3px;line-height:19.56px;color:#111;-webkit-text-stroke:0.25px #111;left:157.63px;transform-origin:0 0;transform:scaleX(0.9480);">ΠΕΛΛΑΣ</div>
<div class="t" id="t68" style="top:713.65px;font-size:16.3px;line-height:19.56px;color:#111;-webkit-text-stroke:0.2px #111;right:1377.04px;transform-origin:100% 0;">18</div>
<div class="t" id="t69" style="top:713.65px;font-size:16.3px;line-height:19.56px;color:#111;-webkit-text-stroke:0.2px #111;right:1205.89px;transform-origin:100% 0;">20</div>
<div class="t" id="t70" style="top:735.72px;font-size:16.3px;line-height:19.56px;color:#111;-webkit-text-stroke:0.25px #111;left:157.63px;transform-origin:0 0;transform:scaleX(0.9480);">ΠΙΕΡΙΑΣ</div>
<div class="t" id="t71" style="top:735.72px;font-size:16.3px;line-height:19.56px;color:#111;-webkit-text-stroke:0.2px #111;right:1376.98px;transform-origin:100% 0;">47</div>
<div class="t" id="t72" style="top:735.72px;font-size:16.3px;line-height:19.56px;color:#111;-webkit-text-stroke:0.2px #111;right:1205.78px;transform-origin:100% 0;">62</div>
<div class="t" id="t73" style="top:757.80px;font-size:16.3px;line-height:19.56px;color:#111;-webkit-text-stroke:0.25px #111;left:157.63px;transform-origin:0 0;transform:scaleX(0.9480);">ΡΟΔΟΠΗΣ</div>
<div class="t" id="t74" style="top:757.80px;font-size:16.3px;line-height:19.56px;color:#111;-webkit-text-stroke:0.2px #111;right:1376.98px;transform-origin:100% 0;">159</div>
<div class="t" id="t75" style="top:757.80px;font-size:16.3px;line-height:19.56px;color:#111;-webkit-text-stroke:0.2px #111;right:1206.00px;transform-origin:100% 0;">194</div>
<div class="t" id="t76" style="top:779.87px;font-size:16.3px;line-height:19.56px;color:#111;-webkit-text-stroke:0.25px #111;left:157.80px;transform-origin:0 0;transform:scaleX(0.9480);">ΣΕΡΡΩΝ</div>
<div class="t" id="t77" style="top:779.87px;font-size:16.3px;line-height:19.56px;color:#111;-webkit-text-stroke:0.2px #111;right:1376.98px;transform-origin:100% 0;">172</div>
<div class="t" id="t78" style="top:779.87px;font-size:16.3px;line-height:19.56px;color:#111;-webkit-text-stroke:0.2px #111;right:1205.80px;transform-origin:100% 0;">216</div>
<div class="t" id="t79" style="top:801.95px;font-size:16.3px;line-height:19.56px;color:#111;-webkit-text-stroke:0.25px #111;left:158.58px;transform-origin:0 0;transform:scaleX(0.9480);">ΤΡΙΚΑΛΩΝ</div>
<div class="t" id="t80" style="top:801.95px;font-size:16.3px;line-height:19.56px;color:#111;-webkit-text-stroke:0.2px #111;right:1377.25px;transform-origin:100% 0;">34</div>
<div class="t" id="t81" style="top:801.95px;font-size:16.3px;line-height:19.56px;color:#111;-webkit-text-stroke:0.2px #111;right:1205.78px;transform-origin:100% 0;">47</div>
<div class="t" id="t82" style="top:824.02px;font-size:16.3px;line-height:19.56px;color:#111;-webkit-text-stroke:0.25px #111;left:157.80px;transform-origin:0 0;transform:scaleX(0.9480);">ΦΘΙΩΤΙΔΑΣ</div>
<div class="t" id="t83" style="top:824.02px;font-size:16.3px;line-height:19.56px;color:#111;-webkit-text-stroke:0.2px #111;right:1376.98px;transform-origin:100% 0;">2</div>
<div class="t" id="t84" style="top:824.02px;font-size:16.3px;line-height:19.56px;color:#111;-webkit-text-stroke:0.2px #111;right:1205.78px;transform-origin:100% 0;">2</div>
<div class="t" id="t85" style="top:846.10px;font-size:16.3px;line-height:19.56px;color:#111;-webkit-text-stroke:0.25px #111;left:157.80px;transform-origin:0 0;transform:scaleX(0.9480);">ΦΛΩΡΙΝΑΣ</div>
<div class="t" id="t86" style="top:846.10px;font-size:16.3px;line-height:19.56px;color:#111;-webkit-text-stroke:0.2px #111;right:1377.25px;transform-origin:100% 0;">4</div>
<div class="t" id="t87" style="top:846.10px;font-size:16.3px;line-height:19.56px;color:#111;-webkit-text-stroke:0.2px #111;right:1206.00px;transform-origin:100% 0;">4</div>
<div class="t" id="t88" style="top:868.17px;font-size:16.3px;line-height:19.56px;color:#111;-webkit-text-stroke:0.25px #111;left:157.80px;transform-origin:0 0;transform:scaleX(0.9480);">ΦΩΚΙΔΑΣ</div>
<div class="t" id="t89" style="top:868.17px;font-size:16.3px;line-height:19.56px;color:#111;-webkit-text-stroke:0.2px #111;right:1377.04px;transform-origin:100% 0;">68</div>
<div class="t" id="t90" style="top:868.17px;font-size:16.3px;line-height:19.56px;color:#111;-webkit-text-stroke:0.2px #111;right:1205.78px;transform-origin:100% 0;">69</div>
<div class="t" id="t91" style="top:890.25px;font-size:16.3px;line-height:19.56px;color:#111;-webkit-text-stroke:0.25px #111;left:158.25px;transform-origin:0 0;transform:scaleX(0.9480);">ΧΑΛΚΙΔΙΚΗΣ</div>
<div class="t" id="t92" style="top:890.25px;font-size:16.3px;line-height:19.56px;color:#111;-webkit-text-stroke:0.2px #111;right:1377.01px;transform-origin:100% 0;">16</div>
<div class="t" id="t93" style="top:890.25px;font-size:16.3px;line-height:19.56px;color:#111;-webkit-text-stroke:0.2px #111;right:1205.89px;transform-origin:100% 0;">20</div>
<div class="t" id="t94" style="top:921.93px;font-size:32.4px;line-height:38.88px;color:#fff;left:163.44px;transform-origin:0 0;transform:scaleX(0.9773);">ΣΥΝΟΛΟ</div>
<div class="t" id="t95" style="top:925.06px;font-size:31.0px;line-height:37.2px;color:#fff;right:1377.50px;transform-origin:100% 0;transform:scaleX(1.0830);">1.834</div>
<div class="t" id="t96" style="top:925.06px;font-size:31.0px;line-height:37.2px;color:#fff;right:1205.47px;transform-origin:100% 0;transform:scaleX(1.0851);">2.270</div>
<div class="t" id="t97" style="top:999.75px;font-size:14.0px;line-height:16.8px;color:#566074;-webkit-text-stroke:0.2px #566074;left:156.31px;transform-origin:0 0;transform:scaleX(1.0365);">*Τα στοιχεία αφορούν το διάστημα Αυγούστου 2024 - 30 Νοεμβρίου 2025. Τα στοιχεία επικαιροποιούνται συνεχώς, κατόπιν της αποστολής τελικών δεδομένων από τις Π.Ε.</div>
<div class="t" id="t98" style="top:1056.19px;font-size:14.7px;line-height:17.64px;color:#fff;font-weight:700;letter-spacing:1.5px;left:248.98px;transform-origin:0 0;transform:scaleX(1.0170);">ΕΛΛΗΝΙΚΗ ΔΗΜΟΚΡΑΤΙΑ</div>
<div class="t" id="t99" style="top:1077.40px;font-size:18.7px;line-height:22.44px;color:#fff;-webkit-text-stroke:0.3px #fff;left:249.52px;transform-origin:0 0;transform:scaleX(0.9560);">Υπουργείο Αγροτικής Ανάπτυξης</div>
<div class="t" id="t100" style="top:1099.30px;font-size:18.7px;line-height:22.44px;color:#fff;-webkit-text-stroke:0.3px #fff;left:248.91px;transform-origin:0 0;transform:scaleX(0.9454);">και Τροφίμων</div>
<div class="t" id="t101" style="top:1067.62px;font-size:17.2px;line-height:20.64px;color:#fff;left:1581.69px;transform-origin:0 0;transform:scaleX(1.0662);">Εθνική Επιστημονική Επιτροπή</div>
<div class="t" id="t102" style="top:1091.42px;font-size:17.2px;line-height:20.64px;color:#fff;left:1582.73px;transform-origin:0 0;transform:scaleX(1.0752);">Διαχείρισης και Ελέγχου της Ευλογιάς</div>
<div class="t" id="t103" style="top:200.49px;font-size:27.8px;line-height:33.36px;color:#fff;left:1813.83px;transform-origin:0 0;transform:scaleX(0.9438);">ΚΡΟΥΣΜΑΤΑ</div>
</body></html>
